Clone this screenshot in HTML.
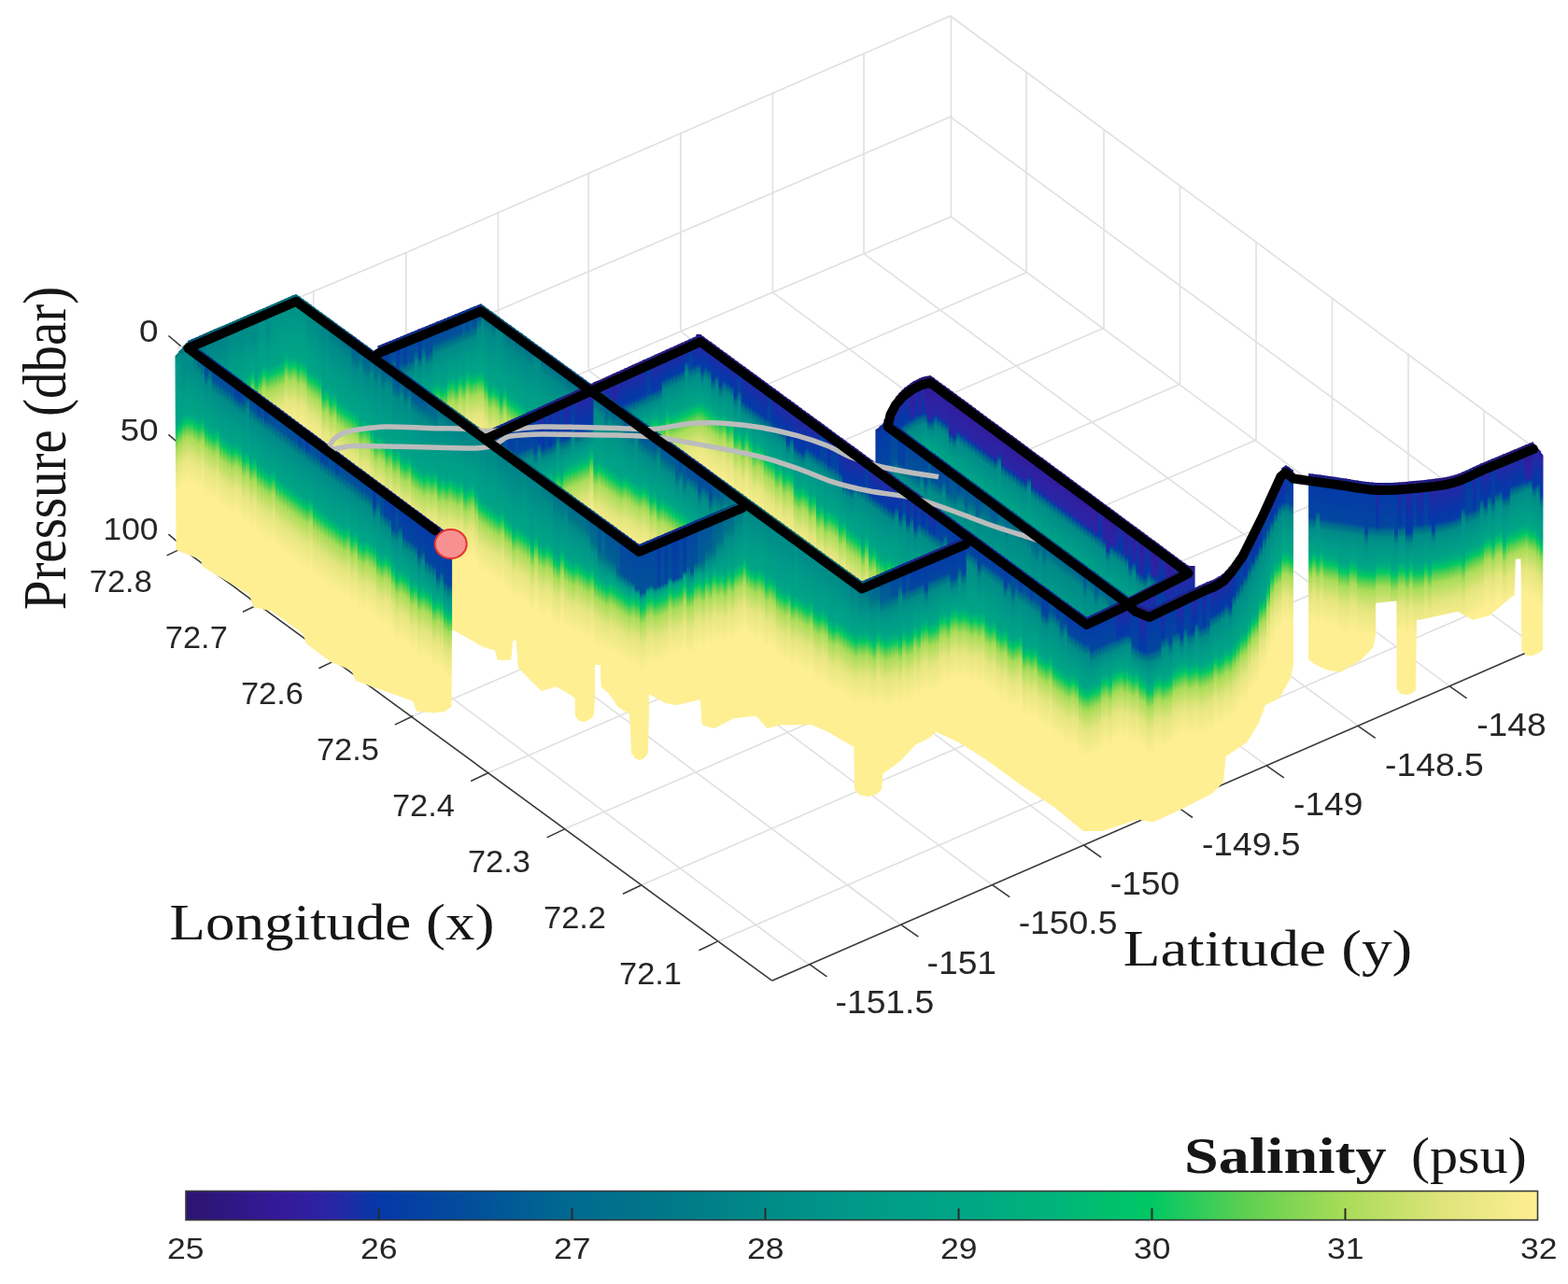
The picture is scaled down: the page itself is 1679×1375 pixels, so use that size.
<!DOCTYPE html>
<html><head><meta charset="utf-8"><title>Salinity curtain plot</title>
<style>html,body{margin:0;padding:0;background:#fff;}svg{display:block;filter:blur(0.45px);}</style>
</head><body>
<svg width="1679" height="1375" viewBox="0 0 1679 1375">
<defs><linearGradient id="p0" x1="0" y1="0" x2="0" y2="1"><stop offset="0.0000" stop-color="#231161"/><stop offset="0.0244" stop-color="#331a9a"/><stop offset="0.1260" stop-color="#2a25a5"/><stop offset="0.1463" stop-color="#2329a6"/><stop offset="0.1497" stop-color="#0538a8"/><stop offset="0.1580" stop-color="#02509a"/><stop offset="0.1663" stop-color="#006a90"/><stop offset="0.1746" stop-color="#007888"/><stop offset="0.1829" stop-color="#008a88"/><stop offset="0.2180" stop-color="#009a88"/><stop offset="0.2530" stop-color="#00a585"/><stop offset="0.2683" stop-color="#00b47a"/><stop offset="0.2835" stop-color="#00c864"/><stop offset="0.2957" stop-color="#30cc5a"/><stop offset="0.3079" stop-color="#60d050"/><stop offset="0.3323" stop-color="#a8dc58"/><stop offset="0.3886" stop-color="#dde47a"/><stop offset="0.4055" stop-color="#e7e781"/><stop offset="0.4848" stop-color="#feef93"/><stop offset="1.0000" stop-color="#feef93"/></linearGradient><linearGradient id="p1" x1="0" y1="0" x2="0" y2="1"><stop offset="0.0000" stop-color="#231161"/><stop offset="0.0244" stop-color="#331a9a"/><stop offset="0.1057" stop-color="#2a25a5"/><stop offset="0.1220" stop-color="#2329a6"/><stop offset="0.1253" stop-color="#0538a8"/><stop offset="0.1336" stop-color="#02509a"/><stop offset="0.1419" stop-color="#006a90"/><stop offset="0.1502" stop-color="#007888"/><stop offset="0.1585" stop-color="#008a88"/><stop offset="0.2058" stop-color="#009a88"/><stop offset="0.2530" stop-color="#00a585"/><stop offset="0.2683" stop-color="#00b47a"/><stop offset="0.2835" stop-color="#00c864"/><stop offset="0.2957" stop-color="#30cc5a"/><stop offset="0.3079" stop-color="#60d050"/><stop offset="0.3323" stop-color="#a8dc58"/><stop offset="0.3886" stop-color="#dde47a"/><stop offset="0.4055" stop-color="#e7e781"/><stop offset="0.4848" stop-color="#feef93"/><stop offset="1.0000" stop-color="#feef93"/></linearGradient><linearGradient id="p2" x1="0" y1="0" x2="0" y2="1"><stop offset="0.0000" stop-color="#231161"/><stop offset="0.0244" stop-color="#331a9a"/><stop offset="0.1057" stop-color="#2a25a5"/><stop offset="0.1220" stop-color="#2329a6"/><stop offset="0.1253" stop-color="#0538a8"/><stop offset="0.1336" stop-color="#02509a"/><stop offset="0.1419" stop-color="#006a90"/><stop offset="0.1502" stop-color="#007888"/><stop offset="0.1585" stop-color="#008a88"/><stop offset="0.2134" stop-color="#009a88"/><stop offset="0.2683" stop-color="#00a585"/><stop offset="0.2835" stop-color="#00b47a"/><stop offset="0.2988" stop-color="#00c864"/><stop offset="0.3110" stop-color="#30cc5a"/><stop offset="0.3232" stop-color="#60d050"/><stop offset="0.3476" stop-color="#a8dc58"/><stop offset="0.4038" stop-color="#dde47a"/><stop offset="0.4207" stop-color="#e7e781"/><stop offset="0.5000" stop-color="#feef93"/><stop offset="1.0000" stop-color="#feef93"/></linearGradient><linearGradient id="p3" x1="0" y1="0" x2="0" y2="1"><stop offset="0.0000" stop-color="#231161"/><stop offset="0.0244" stop-color="#331a9a"/><stop offset="0.0854" stop-color="#2a25a5"/><stop offset="0.0976" stop-color="#2329a6"/><stop offset="0.1009" stop-color="#0538a8"/><stop offset="0.1092" stop-color="#02509a"/><stop offset="0.1175" stop-color="#006a90"/><stop offset="0.1258" stop-color="#007888"/><stop offset="0.1341" stop-color="#008a88"/><stop offset="0.2012" stop-color="#009a88"/><stop offset="0.2683" stop-color="#00a585"/><stop offset="0.2835" stop-color="#00b47a"/><stop offset="0.2988" stop-color="#00c864"/><stop offset="0.3110" stop-color="#30cc5a"/><stop offset="0.3232" stop-color="#60d050"/><stop offset="0.3476" stop-color="#a8dc58"/><stop offset="0.4038" stop-color="#dde47a"/><stop offset="0.4207" stop-color="#e7e781"/><stop offset="0.5000" stop-color="#feef93"/><stop offset="1.0000" stop-color="#feef93"/></linearGradient><linearGradient id="p4" x1="0" y1="0" x2="0" y2="1"><stop offset="0.0000" stop-color="#231161"/><stop offset="0.0244" stop-color="#331a9a"/><stop offset="0.1057" stop-color="#2a25a5"/><stop offset="0.1220" stop-color="#2329a6"/><stop offset="0.1253" stop-color="#0538a8"/><stop offset="0.1336" stop-color="#02509a"/><stop offset="0.1419" stop-color="#006a90"/><stop offset="0.1502" stop-color="#007888"/><stop offset="0.1585" stop-color="#008a88"/><stop offset="0.2210" stop-color="#009a88"/><stop offset="0.2835" stop-color="#00a585"/><stop offset="0.2988" stop-color="#00b47a"/><stop offset="0.3140" stop-color="#00c864"/><stop offset="0.3262" stop-color="#30cc5a"/><stop offset="0.3384" stop-color="#60d050"/><stop offset="0.3628" stop-color="#a8dc58"/><stop offset="0.4191" stop-color="#dde47a"/><stop offset="0.4360" stop-color="#e7e781"/><stop offset="0.5152" stop-color="#feef93"/><stop offset="1.0000" stop-color="#feef93"/></linearGradient><linearGradient id="p5" x1="0" y1="0" x2="0" y2="1"><stop offset="0.0000" stop-color="#271371"/><stop offset="0.0244" stop-color="#2a25a5"/><stop offset="0.1057" stop-color="#0538a8"/><stop offset="0.1220" stop-color="#053aa7"/><stop offset="0.1304" stop-color="#02509a"/><stop offset="0.1398" stop-color="#006a90"/><stop offset="0.1492" stop-color="#007888"/><stop offset="0.1585" stop-color="#008a88"/><stop offset="0.2210" stop-color="#009a88"/><stop offset="0.2835" stop-color="#00a585"/><stop offset="0.2988" stop-color="#00b47a"/><stop offset="0.3140" stop-color="#00c864"/><stop offset="0.3262" stop-color="#30cc5a"/><stop offset="0.3384" stop-color="#60d050"/><stop offset="0.3628" stop-color="#a8dc58"/><stop offset="0.4191" stop-color="#dde47a"/><stop offset="0.4360" stop-color="#e7e781"/><stop offset="0.5152" stop-color="#feef93"/><stop offset="1.0000" stop-color="#feef93"/></linearGradient><linearGradient id="p6" x1="0" y1="0" x2="0" y2="1"><stop offset="0.0000" stop-color="#231161"/><stop offset="0.0244" stop-color="#331a9a"/><stop offset="0.1260" stop-color="#2a25a5"/><stop offset="0.1463" stop-color="#2329a6"/><stop offset="0.1497" stop-color="#0538a8"/><stop offset="0.1580" stop-color="#02509a"/><stop offset="0.1663" stop-color="#006a90"/><stop offset="0.1746" stop-color="#007888"/><stop offset="0.1829" stop-color="#008a88"/><stop offset="0.2332" stop-color="#009a88"/><stop offset="0.2835" stop-color="#00a585"/><stop offset="0.2988" stop-color="#00b47a"/><stop offset="0.3140" stop-color="#00c864"/><stop offset="0.3262" stop-color="#30cc5a"/><stop offset="0.3384" stop-color="#60d050"/><stop offset="0.3628" stop-color="#a8dc58"/><stop offset="0.4191" stop-color="#dde47a"/><stop offset="0.4360" stop-color="#e7e781"/><stop offset="0.5152" stop-color="#feef93"/><stop offset="1.0000" stop-color="#feef93"/></linearGradient><linearGradient id="p7" x1="0" y1="0" x2="0" y2="1"><stop offset="0.0000" stop-color="#271371"/><stop offset="0.0244" stop-color="#2a25a5"/><stop offset="0.1260" stop-color="#0538a8"/><stop offset="0.1463" stop-color="#053aa7"/><stop offset="0.1548" stop-color="#02509a"/><stop offset="0.1642" stop-color="#006a90"/><stop offset="0.1735" stop-color="#007888"/><stop offset="0.1829" stop-color="#008a88"/><stop offset="0.2409" stop-color="#009a88"/><stop offset="0.2988" stop-color="#00a585"/><stop offset="0.3140" stop-color="#00b47a"/><stop offset="0.3293" stop-color="#00c864"/><stop offset="0.3415" stop-color="#30cc5a"/><stop offset="0.3537" stop-color="#60d050"/><stop offset="0.3780" stop-color="#a8dc58"/><stop offset="0.4343" stop-color="#dde47a"/><stop offset="0.4512" stop-color="#e7e781"/><stop offset="0.5305" stop-color="#feef93"/><stop offset="1.0000" stop-color="#feef93"/></linearGradient><linearGradient id="p8" x1="0" y1="0" x2="0" y2="1"><stop offset="0.0000" stop-color="#271371"/><stop offset="0.0244" stop-color="#2a25a5"/><stop offset="0.1260" stop-color="#0538a8"/><stop offset="0.1463" stop-color="#053aa7"/><stop offset="0.1548" stop-color="#02509a"/><stop offset="0.1642" stop-color="#006a90"/><stop offset="0.1735" stop-color="#007888"/><stop offset="0.1829" stop-color="#008a88"/><stop offset="0.2332" stop-color="#009a88"/><stop offset="0.2835" stop-color="#00a585"/><stop offset="0.2988" stop-color="#00b47a"/><stop offset="0.3140" stop-color="#00c864"/><stop offset="0.3262" stop-color="#30cc5a"/><stop offset="0.3384" stop-color="#60d050"/><stop offset="0.3628" stop-color="#a8dc58"/><stop offset="0.4191" stop-color="#dde47a"/><stop offset="0.4360" stop-color="#e7e781"/><stop offset="0.5152" stop-color="#feef93"/><stop offset="1.0000" stop-color="#feef93"/></linearGradient><linearGradient id="p9" x1="0" y1="0" x2="0" y2="1"><stop offset="0.0000" stop-color="#271371"/><stop offset="0.0244" stop-color="#2a25a5"/><stop offset="0.1057" stop-color="#0538a8"/><stop offset="0.1220" stop-color="#053aa7"/><stop offset="0.1304" stop-color="#02509a"/><stop offset="0.1398" stop-color="#006a90"/><stop offset="0.1492" stop-color="#007888"/><stop offset="0.1585" stop-color="#008a88"/><stop offset="0.2287" stop-color="#009a88"/><stop offset="0.2988" stop-color="#00a585"/><stop offset="0.3140" stop-color="#00b47a"/><stop offset="0.3293" stop-color="#00c864"/><stop offset="0.3415" stop-color="#30cc5a"/><stop offset="0.3537" stop-color="#60d050"/><stop offset="0.3780" stop-color="#a8dc58"/><stop offset="0.4343" stop-color="#dde47a"/><stop offset="0.4512" stop-color="#e7e781"/><stop offset="0.5305" stop-color="#feef93"/><stop offset="1.0000" stop-color="#feef93"/></linearGradient><linearGradient id="p10" x1="0" y1="0" x2="0" y2="1"><stop offset="0.0000" stop-color="#271371"/><stop offset="0.0244" stop-color="#2a25a5"/><stop offset="0.1057" stop-color="#0538a8"/><stop offset="0.1220" stop-color="#053aa7"/><stop offset="0.1304" stop-color="#02509a"/><stop offset="0.1398" stop-color="#006a90"/><stop offset="0.1492" stop-color="#007888"/><stop offset="0.1585" stop-color="#008a88"/><stop offset="0.2134" stop-color="#009a88"/><stop offset="0.2683" stop-color="#00a585"/><stop offset="0.2835" stop-color="#00b47a"/><stop offset="0.2988" stop-color="#00c864"/><stop offset="0.3110" stop-color="#30cc5a"/><stop offset="0.3232" stop-color="#60d050"/><stop offset="0.3476" stop-color="#a8dc58"/><stop offset="0.4038" stop-color="#dde47a"/><stop offset="0.4207" stop-color="#e7e781"/><stop offset="0.5000" stop-color="#feef93"/><stop offset="1.0000" stop-color="#feef93"/></linearGradient><linearGradient id="p11" x1="0" y1="0" x2="0" y2="1"><stop offset="0.0000" stop-color="#271371"/><stop offset="0.0244" stop-color="#2a25a5"/><stop offset="0.1057" stop-color="#0538a8"/><stop offset="0.1220" stop-color="#053aa7"/><stop offset="0.1304" stop-color="#02509a"/><stop offset="0.1398" stop-color="#006a90"/><stop offset="0.1492" stop-color="#007888"/><stop offset="0.1585" stop-color="#008a88"/><stop offset="0.2058" stop-color="#009a88"/><stop offset="0.2530" stop-color="#00a585"/><stop offset="0.2683" stop-color="#00b47a"/><stop offset="0.2835" stop-color="#00c864"/><stop offset="0.2957" stop-color="#30cc5a"/><stop offset="0.3079" stop-color="#60d050"/><stop offset="0.3323" stop-color="#a8dc58"/><stop offset="0.3886" stop-color="#dde47a"/><stop offset="0.4055" stop-color="#e7e781"/><stop offset="0.4848" stop-color="#feef93"/><stop offset="1.0000" stop-color="#feef93"/></linearGradient><linearGradient id="p12" x1="0" y1="0" x2="0" y2="1"><stop offset="0.0000" stop-color="#231161"/><stop offset="0.0244" stop-color="#331a9a"/><stop offset="0.1057" stop-color="#2a25a5"/><stop offset="0.1220" stop-color="#2329a6"/><stop offset="0.1253" stop-color="#0538a8"/><stop offset="0.1336" stop-color="#02509a"/><stop offset="0.1419" stop-color="#006a90"/><stop offset="0.1502" stop-color="#007888"/><stop offset="0.1585" stop-color="#008a88"/><stop offset="0.1982" stop-color="#009a88"/><stop offset="0.2378" stop-color="#00a585"/><stop offset="0.2530" stop-color="#00b47a"/><stop offset="0.2683" stop-color="#00c864"/><stop offset="0.2805" stop-color="#30cc5a"/><stop offset="0.2927" stop-color="#60d050"/><stop offset="0.3171" stop-color="#a8dc58"/><stop offset="0.3734" stop-color="#dde47a"/><stop offset="0.3902" stop-color="#e7e781"/><stop offset="0.4695" stop-color="#feef93"/><stop offset="1.0000" stop-color="#feef93"/></linearGradient><linearGradient id="p13" x1="0" y1="0" x2="0" y2="1"><stop offset="0.0000" stop-color="#231161"/><stop offset="0.0244" stop-color="#331a9a"/><stop offset="0.1260" stop-color="#2a25a5"/><stop offset="0.1463" stop-color="#2329a6"/><stop offset="0.1497" stop-color="#0538a8"/><stop offset="0.1580" stop-color="#02509a"/><stop offset="0.1663" stop-color="#006a90"/><stop offset="0.1746" stop-color="#007888"/><stop offset="0.1829" stop-color="#008a88"/><stop offset="0.2104" stop-color="#009a88"/><stop offset="0.2378" stop-color="#00a585"/><stop offset="0.2530" stop-color="#00b47a"/><stop offset="0.2683" stop-color="#00c864"/><stop offset="0.2805" stop-color="#30cc5a"/><stop offset="0.2927" stop-color="#60d050"/><stop offset="0.3171" stop-color="#a8dc58"/><stop offset="0.3734" stop-color="#dde47a"/><stop offset="0.3902" stop-color="#e7e781"/><stop offset="0.4695" stop-color="#feef93"/><stop offset="1.0000" stop-color="#feef93"/></linearGradient><linearGradient id="p14" x1="0" y1="0" x2="0" y2="1"><stop offset="0.0000" stop-color="#23197d"/><stop offset="0.0244" stop-color="#0538a8"/><stop offset="0.1463" stop-color="#0346a0"/><stop offset="0.1506" stop-color="#02509a"/><stop offset="0.1614" stop-color="#006a90"/><stop offset="0.1722" stop-color="#007888"/><stop offset="0.1829" stop-color="#008a88"/><stop offset="0.2256" stop-color="#009a88"/><stop offset="0.2683" stop-color="#00a585"/><stop offset="0.2835" stop-color="#00b47a"/><stop offset="0.2988" stop-color="#00c864"/><stop offset="0.3110" stop-color="#30cc5a"/><stop offset="0.3232" stop-color="#60d050"/><stop offset="0.3476" stop-color="#a8dc58"/><stop offset="0.4038" stop-color="#dde47a"/><stop offset="0.4207" stop-color="#e7e781"/><stop offset="0.5000" stop-color="#feef93"/><stop offset="1.0000" stop-color="#feef93"/></linearGradient><linearGradient id="p15" x1="0" y1="0" x2="0" y2="1"><stop offset="0.0000" stop-color="#23197d"/><stop offset="0.0244" stop-color="#0538a8"/><stop offset="0.1463" stop-color="#0346a0"/><stop offset="0.1506" stop-color="#02509a"/><stop offset="0.1614" stop-color="#006a90"/><stop offset="0.1722" stop-color="#007888"/><stop offset="0.1829" stop-color="#008a88"/><stop offset="0.2180" stop-color="#009a88"/><stop offset="0.2530" stop-color="#00a585"/><stop offset="0.2683" stop-color="#00b47a"/><stop offset="0.2835" stop-color="#00c864"/><stop offset="0.2957" stop-color="#30cc5a"/><stop offset="0.3079" stop-color="#60d050"/><stop offset="0.3323" stop-color="#a8dc58"/><stop offset="0.3886" stop-color="#dde47a"/><stop offset="0.4055" stop-color="#e7e781"/><stop offset="0.4848" stop-color="#feef93"/><stop offset="1.0000" stop-color="#feef93"/></linearGradient><linearGradient id="p16" x1="0" y1="0" x2="0" y2="1"><stop offset="0.0000" stop-color="#23197d"/><stop offset="0.0244" stop-color="#0538a8"/><stop offset="0.1220" stop-color="#0346a0"/><stop offset="0.1263" stop-color="#02509a"/><stop offset="0.1370" stop-color="#006a90"/><stop offset="0.1478" stop-color="#007888"/><stop offset="0.1585" stop-color="#008a88"/><stop offset="0.2134" stop-color="#009a88"/><stop offset="0.2683" stop-color="#00a585"/><stop offset="0.2835" stop-color="#00b47a"/><stop offset="0.2988" stop-color="#00c864"/><stop offset="0.3110" stop-color="#30cc5a"/><stop offset="0.3232" stop-color="#60d050"/><stop offset="0.3476" stop-color="#a8dc58"/><stop offset="0.4038" stop-color="#dde47a"/><stop offset="0.4207" stop-color="#e7e781"/><stop offset="0.5000" stop-color="#feef93"/><stop offset="1.0000" stop-color="#feef93"/></linearGradient><linearGradient id="p17" x1="0" y1="0" x2="0" y2="1"><stop offset="0.0000" stop-color="#23197d"/><stop offset="0.0244" stop-color="#0538a8"/><stop offset="0.1463" stop-color="#0346a0"/><stop offset="0.1506" stop-color="#02509a"/><stop offset="0.1614" stop-color="#006a90"/><stop offset="0.1722" stop-color="#007888"/><stop offset="0.1829" stop-color="#008a88"/><stop offset="0.2332" stop-color="#009a88"/><stop offset="0.2835" stop-color="#00a585"/><stop offset="0.2988" stop-color="#00b47a"/><stop offset="0.3140" stop-color="#00c864"/><stop offset="0.3262" stop-color="#30cc5a"/><stop offset="0.3384" stop-color="#60d050"/><stop offset="0.3628" stop-color="#a8dc58"/><stop offset="0.4191" stop-color="#dde47a"/><stop offset="0.4360" stop-color="#e7e781"/><stop offset="0.5152" stop-color="#feef93"/><stop offset="1.0000" stop-color="#feef93"/></linearGradient><linearGradient id="p18" x1="0" y1="0" x2="0" y2="1"><stop offset="0.0000" stop-color="#23197d"/><stop offset="0.0244" stop-color="#0538a8"/><stop offset="0.1707" stop-color="#0346a0"/><stop offset="0.1750" stop-color="#02509a"/><stop offset="0.1858" stop-color="#006a90"/><stop offset="0.1966" stop-color="#007888"/><stop offset="0.2073" stop-color="#008a88"/><stop offset="0.2454" stop-color="#009a88"/><stop offset="0.2835" stop-color="#00a585"/><stop offset="0.2988" stop-color="#00b47a"/><stop offset="0.3140" stop-color="#00c864"/><stop offset="0.3262" stop-color="#30cc5a"/><stop offset="0.3384" stop-color="#60d050"/><stop offset="0.3628" stop-color="#a8dc58"/><stop offset="0.4191" stop-color="#dde47a"/><stop offset="0.4360" stop-color="#e7e781"/><stop offset="0.5152" stop-color="#feef93"/><stop offset="1.0000" stop-color="#feef93"/></linearGradient><linearGradient id="p19" x1="0" y1="0" x2="0" y2="1"><stop offset="0.0000" stop-color="#271371"/><stop offset="0.0244" stop-color="#2a25a5"/><stop offset="0.1260" stop-color="#0538a8"/><stop offset="0.1463" stop-color="#053aa7"/><stop offset="0.1548" stop-color="#02509a"/><stop offset="0.1642" stop-color="#006a90"/><stop offset="0.1735" stop-color="#007888"/><stop offset="0.1829" stop-color="#008a88"/><stop offset="0.2256" stop-color="#009a88"/><stop offset="0.2683" stop-color="#00a585"/><stop offset="0.2835" stop-color="#00b47a"/><stop offset="0.2988" stop-color="#00c864"/><stop offset="0.3110" stop-color="#30cc5a"/><stop offset="0.3232" stop-color="#60d050"/><stop offset="0.3476" stop-color="#a8dc58"/><stop offset="0.4038" stop-color="#dde47a"/><stop offset="0.4207" stop-color="#e7e781"/><stop offset="0.5000" stop-color="#feef93"/><stop offset="1.0000" stop-color="#feef93"/></linearGradient><linearGradient id="p20" x1="0" y1="0" x2="0" y2="1"><stop offset="0.0000" stop-color="#271371"/><stop offset="0.0244" stop-color="#2a25a5"/><stop offset="0.1463" stop-color="#0538a8"/><stop offset="0.1707" stop-color="#053aa7"/><stop offset="0.1792" stop-color="#02509a"/><stop offset="0.1886" stop-color="#006a90"/><stop offset="0.1979" stop-color="#007888"/><stop offset="0.2073" stop-color="#008a88"/><stop offset="0.2454" stop-color="#009a88"/><stop offset="0.2835" stop-color="#00a585"/><stop offset="0.2988" stop-color="#00b47a"/><stop offset="0.3140" stop-color="#00c864"/><stop offset="0.3262" stop-color="#30cc5a"/><stop offset="0.3384" stop-color="#60d050"/><stop offset="0.3628" stop-color="#a8dc58"/><stop offset="0.4191" stop-color="#dde47a"/><stop offset="0.4360" stop-color="#e7e781"/><stop offset="0.5152" stop-color="#feef93"/><stop offset="1.0000" stop-color="#feef93"/></linearGradient><linearGradient id="p21" x1="0" y1="0" x2="0" y2="1"><stop offset="0.0000" stop-color="#271371"/><stop offset="0.0244" stop-color="#2a25a5"/><stop offset="0.1463" stop-color="#0538a8"/><stop offset="0.1707" stop-color="#053aa7"/><stop offset="0.1792" stop-color="#02509a"/><stop offset="0.1886" stop-color="#006a90"/><stop offset="0.1979" stop-color="#007888"/><stop offset="0.2073" stop-color="#008a88"/><stop offset="0.2378" stop-color="#009a88"/><stop offset="0.2683" stop-color="#00a585"/><stop offset="0.2835" stop-color="#00b47a"/><stop offset="0.2988" stop-color="#00c864"/><stop offset="0.3110" stop-color="#30cc5a"/><stop offset="0.3232" stop-color="#60d050"/><stop offset="0.3476" stop-color="#a8dc58"/><stop offset="0.4038" stop-color="#dde47a"/><stop offset="0.4207" stop-color="#e7e781"/><stop offset="0.5000" stop-color="#feef93"/><stop offset="1.0000" stop-color="#feef93"/></linearGradient><linearGradient id="p22" x1="0" y1="0" x2="0" y2="1"><stop offset="0.0000" stop-color="#271371"/><stop offset="0.0244" stop-color="#2a25a5"/><stop offset="0.1260" stop-color="#0538a8"/><stop offset="0.1463" stop-color="#053aa7"/><stop offset="0.1548" stop-color="#02509a"/><stop offset="0.1642" stop-color="#006a90"/><stop offset="0.1735" stop-color="#007888"/><stop offset="0.1829" stop-color="#008a88"/><stop offset="0.2180" stop-color="#009a88"/><stop offset="0.2530" stop-color="#00a585"/><stop offset="0.2683" stop-color="#00b47a"/><stop offset="0.2835" stop-color="#00c864"/><stop offset="0.2957" stop-color="#30cc5a"/><stop offset="0.3079" stop-color="#60d050"/><stop offset="0.3323" stop-color="#a8dc58"/><stop offset="0.3886" stop-color="#dde47a"/><stop offset="0.4055" stop-color="#e7e781"/><stop offset="0.4848" stop-color="#feef93"/><stop offset="1.0000" stop-color="#feef93"/></linearGradient><linearGradient id="p23" x1="0" y1="0" x2="0" y2="1"><stop offset="0.0000" stop-color="#0f2582"/><stop offset="0.0244" stop-color="#0444a1"/><stop offset="0.1260" stop-color="#02509a"/><stop offset="0.1463" stop-color="#025399"/><stop offset="0.1577" stop-color="#006a90"/><stop offset="0.1703" stop-color="#007888"/><stop offset="0.1829" stop-color="#008a88"/><stop offset="0.2332" stop-color="#009a88"/><stop offset="0.2835" stop-color="#00a585"/><stop offset="0.2988" stop-color="#00b47a"/><stop offset="0.3140" stop-color="#00c864"/><stop offset="0.3262" stop-color="#30cc5a"/><stop offset="0.3384" stop-color="#60d050"/><stop offset="0.3628" stop-color="#a8dc58"/><stop offset="0.4191" stop-color="#dde47a"/><stop offset="0.4360" stop-color="#e7e781"/><stop offset="0.5152" stop-color="#feef93"/><stop offset="1.0000" stop-color="#feef93"/></linearGradient><linearGradient id="p24" x1="0" y1="0" x2="0" y2="1"><stop offset="0.0000" stop-color="#0f2582"/><stop offset="0.0244" stop-color="#0444a1"/><stop offset="0.1057" stop-color="#02509a"/><stop offset="0.1220" stop-color="#025399"/><stop offset="0.1333" stop-color="#006a90"/><stop offset="0.1459" stop-color="#007888"/><stop offset="0.1585" stop-color="#008a88"/><stop offset="0.2210" stop-color="#009a88"/><stop offset="0.2835" stop-color="#00a585"/><stop offset="0.2988" stop-color="#00b47a"/><stop offset="0.3140" stop-color="#00c864"/><stop offset="0.3262" stop-color="#30cc5a"/><stop offset="0.3384" stop-color="#60d050"/><stop offset="0.3628" stop-color="#a8dc58"/><stop offset="0.4191" stop-color="#dde47a"/><stop offset="0.4360" stop-color="#e7e781"/><stop offset="0.5152" stop-color="#feef93"/><stop offset="1.0000" stop-color="#feef93"/></linearGradient><linearGradient id="p25" x1="0" y1="0" x2="0" y2="1"><stop offset="0.0000" stop-color="#23197d"/><stop offset="0.0244" stop-color="#0538a8"/><stop offset="0.1220" stop-color="#0346a0"/><stop offset="0.1263" stop-color="#02509a"/><stop offset="0.1370" stop-color="#006a90"/><stop offset="0.1478" stop-color="#007888"/><stop offset="0.1585" stop-color="#008a88"/><stop offset="0.2210" stop-color="#009a88"/><stop offset="0.2835" stop-color="#00a585"/><stop offset="0.2988" stop-color="#00b47a"/><stop offset="0.3140" stop-color="#00c864"/><stop offset="0.3262" stop-color="#30cc5a"/><stop offset="0.3384" stop-color="#60d050"/><stop offset="0.3628" stop-color="#a8dc58"/><stop offset="0.4191" stop-color="#dde47a"/><stop offset="0.4360" stop-color="#e7e781"/><stop offset="0.5152" stop-color="#feef93"/><stop offset="1.0000" stop-color="#feef93"/></linearGradient><linearGradient id="p26" x1="0" y1="0" x2="0" y2="1"><stop offset="0.0000" stop-color="#0f2582"/><stop offset="0.0244" stop-color="#0444a1"/><stop offset="0.1057" stop-color="#02509a"/><stop offset="0.1220" stop-color="#025399"/><stop offset="0.1333" stop-color="#006a90"/><stop offset="0.1459" stop-color="#007888"/><stop offset="0.1585" stop-color="#008a88"/><stop offset="0.2134" stop-color="#009a88"/><stop offset="0.2683" stop-color="#00a585"/><stop offset="0.2835" stop-color="#00b47a"/><stop offset="0.2988" stop-color="#00c864"/><stop offset="0.3110" stop-color="#30cc5a"/><stop offset="0.3232" stop-color="#60d050"/><stop offset="0.3476" stop-color="#a8dc58"/><stop offset="0.4038" stop-color="#dde47a"/><stop offset="0.4207" stop-color="#e7e781"/><stop offset="0.5000" stop-color="#feef93"/><stop offset="1.0000" stop-color="#feef93"/></linearGradient><linearGradient id="p27" x1="0" y1="0" x2="0" y2="1"><stop offset="0.0000" stop-color="#0f2582"/><stop offset="0.0244" stop-color="#0444a1"/><stop offset="0.0854" stop-color="#02509a"/><stop offset="0.0976" stop-color="#025399"/><stop offset="0.1089" stop-color="#006a90"/><stop offset="0.1215" stop-color="#007888"/><stop offset="0.1341" stop-color="#008a88"/><stop offset="0.2012" stop-color="#009a88"/><stop offset="0.2683" stop-color="#00a585"/><stop offset="0.2835" stop-color="#00b47a"/><stop offset="0.2988" stop-color="#00c864"/><stop offset="0.3110" stop-color="#30cc5a"/><stop offset="0.3232" stop-color="#60d050"/><stop offset="0.3476" stop-color="#a8dc58"/><stop offset="0.4038" stop-color="#dde47a"/><stop offset="0.4207" stop-color="#e7e781"/><stop offset="0.5000" stop-color="#feef93"/><stop offset="1.0000" stop-color="#feef93"/></linearGradient><linearGradient id="p28" x1="0" y1="0" x2="0" y2="1"><stop offset="0.0000" stop-color="#03317f"/><stop offset="0.0244" stop-color="#02509a"/><stop offset="0.0976" stop-color="#016094"/><stop offset="0.1037" stop-color="#006a90"/><stop offset="0.1189" stop-color="#007888"/><stop offset="0.1341" stop-color="#008a88"/><stop offset="0.2088" stop-color="#009a88"/><stop offset="0.2835" stop-color="#00a585"/><stop offset="0.2988" stop-color="#00b47a"/><stop offset="0.3140" stop-color="#00c864"/><stop offset="0.3262" stop-color="#30cc5a"/><stop offset="0.3384" stop-color="#60d050"/><stop offset="0.3628" stop-color="#a8dc58"/><stop offset="0.4191" stop-color="#dde47a"/><stop offset="0.4360" stop-color="#e7e781"/><stop offset="0.5152" stop-color="#feef93"/><stop offset="1.0000" stop-color="#feef93"/></linearGradient><linearGradient id="p29" x1="0" y1="0" x2="0" y2="1"><stop offset="0.0000" stop-color="#0f2582"/><stop offset="0.0244" stop-color="#0444a1"/><stop offset="0.0854" stop-color="#02509a"/><stop offset="0.0976" stop-color="#025399"/><stop offset="0.1089" stop-color="#006a90"/><stop offset="0.1215" stop-color="#007888"/><stop offset="0.1341" stop-color="#008a88"/><stop offset="0.2088" stop-color="#009a88"/><stop offset="0.2835" stop-color="#00a585"/><stop offset="0.2988" stop-color="#00b47a"/><stop offset="0.3140" stop-color="#00c864"/><stop offset="0.3262" stop-color="#30cc5a"/><stop offset="0.3384" stop-color="#60d050"/><stop offset="0.3628" stop-color="#a8dc58"/><stop offset="0.4191" stop-color="#dde47a"/><stop offset="0.4360" stop-color="#e7e781"/><stop offset="0.5152" stop-color="#feef93"/><stop offset="1.0000" stop-color="#feef93"/></linearGradient><linearGradient id="p30" x1="0" y1="0" x2="0" y2="1"><stop offset="0.0000" stop-color="#0f2582"/><stop offset="0.0244" stop-color="#0444a1"/><stop offset="0.0650" stop-color="#02509a"/><stop offset="0.0732" stop-color="#025399"/><stop offset="0.0845" stop-color="#006a90"/><stop offset="0.0971" stop-color="#007888"/><stop offset="0.1098" stop-color="#008a88"/><stop offset="0.1966" stop-color="#009a88"/><stop offset="0.2835" stop-color="#00a585"/><stop offset="0.2988" stop-color="#00b47a"/><stop offset="0.3140" stop-color="#00c864"/><stop offset="0.3262" stop-color="#30cc5a"/><stop offset="0.3384" stop-color="#60d050"/><stop offset="0.3628" stop-color="#a8dc58"/><stop offset="0.4191" stop-color="#dde47a"/><stop offset="0.4360" stop-color="#e7e781"/><stop offset="0.5152" stop-color="#feef93"/><stop offset="1.0000" stop-color="#feef93"/></linearGradient><linearGradient id="p31" x1="0" y1="0" x2="0" y2="1"><stop offset="0.0000" stop-color="#0f2582"/><stop offset="0.0244" stop-color="#0444a1"/><stop offset="0.0650" stop-color="#02509a"/><stop offset="0.0732" stop-color="#025399"/><stop offset="0.0845" stop-color="#006a90"/><stop offset="0.0971" stop-color="#007888"/><stop offset="0.1098" stop-color="#008a88"/><stop offset="0.2043" stop-color="#009a88"/><stop offset="0.2988" stop-color="#00a585"/><stop offset="0.3140" stop-color="#00b47a"/><stop offset="0.3293" stop-color="#00c864"/><stop offset="0.3415" stop-color="#30cc5a"/><stop offset="0.3537" stop-color="#60d050"/><stop offset="0.3780" stop-color="#a8dc58"/><stop offset="0.4343" stop-color="#dde47a"/><stop offset="0.4512" stop-color="#e7e781"/><stop offset="0.5305" stop-color="#feef93"/><stop offset="1.0000" stop-color="#feef93"/></linearGradient><linearGradient id="p32" x1="0" y1="0" x2="0" y2="1"><stop offset="0.0000" stop-color="#03317f"/><stop offset="0.0244" stop-color="#02509a"/><stop offset="0.0732" stop-color="#016094"/><stop offset="0.0793" stop-color="#006a90"/><stop offset="0.0945" stop-color="#007888"/><stop offset="0.1098" stop-color="#008a88"/><stop offset="0.2043" stop-color="#009a88"/><stop offset="0.2988" stop-color="#00a585"/><stop offset="0.3140" stop-color="#00b47a"/><stop offset="0.3293" stop-color="#00c864"/><stop offset="0.3415" stop-color="#30cc5a"/><stop offset="0.3537" stop-color="#60d050"/><stop offset="0.3780" stop-color="#a8dc58"/><stop offset="0.4343" stop-color="#dde47a"/><stop offset="0.4512" stop-color="#e7e781"/><stop offset="0.5305" stop-color="#feef93"/><stop offset="1.0000" stop-color="#feef93"/></linearGradient><linearGradient id="p33" x1="0" y1="0" x2="0" y2="1"><stop offset="0.0000" stop-color="#03317f"/><stop offset="0.0244" stop-color="#02509a"/><stop offset="0.0732" stop-color="#016094"/><stop offset="0.0793" stop-color="#006a90"/><stop offset="0.0945" stop-color="#007888"/><stop offset="0.1098" stop-color="#008a88"/><stop offset="0.1966" stop-color="#009a88"/><stop offset="0.2835" stop-color="#00a585"/><stop offset="0.2988" stop-color="#00b47a"/><stop offset="0.3140" stop-color="#00c864"/><stop offset="0.3262" stop-color="#30cc5a"/><stop offset="0.3384" stop-color="#60d050"/><stop offset="0.3628" stop-color="#a8dc58"/><stop offset="0.4191" stop-color="#dde47a"/><stop offset="0.4360" stop-color="#e7e781"/><stop offset="0.5152" stop-color="#feef93"/><stop offset="1.0000" stop-color="#feef93"/></linearGradient><linearGradient id="p34" x1="0" y1="0" x2="0" y2="1"><stop offset="0.0000" stop-color="#023a7a"/><stop offset="0.0244" stop-color="#015d95"/><stop offset="0.0650" stop-color="#006a90"/><stop offset="0.0732" stop-color="#006b8f"/><stop offset="0.0905" stop-color="#007888"/><stop offset="0.1098" stop-color="#008a88"/><stop offset="0.1966" stop-color="#009a88"/><stop offset="0.2835" stop-color="#00a585"/><stop offset="0.2988" stop-color="#00b47a"/><stop offset="0.3140" stop-color="#00c864"/><stop offset="0.3262" stop-color="#30cc5a"/><stop offset="0.3384" stop-color="#60d050"/><stop offset="0.3628" stop-color="#a8dc58"/><stop offset="0.4191" stop-color="#dde47a"/><stop offset="0.4360" stop-color="#e7e781"/><stop offset="0.5152" stop-color="#feef93"/><stop offset="1.0000" stop-color="#feef93"/></linearGradient><linearGradient id="p35" x1="0" y1="0" x2="0" y2="1"><stop offset="0.0000" stop-color="#03317f"/><stop offset="0.0244" stop-color="#02509a"/><stop offset="0.0732" stop-color="#016094"/><stop offset="0.0793" stop-color="#006a90"/><stop offset="0.0945" stop-color="#007888"/><stop offset="0.1098" stop-color="#008a88"/><stop offset="0.1890" stop-color="#009a88"/><stop offset="0.2683" stop-color="#00a585"/><stop offset="0.2835" stop-color="#00b47a"/><stop offset="0.2988" stop-color="#00c864"/><stop offset="0.3110" stop-color="#30cc5a"/><stop offset="0.3232" stop-color="#60d050"/><stop offset="0.3476" stop-color="#a8dc58"/><stop offset="0.4038" stop-color="#dde47a"/><stop offset="0.4207" stop-color="#e7e781"/><stop offset="0.5000" stop-color="#feef93"/><stop offset="1.0000" stop-color="#feef93"/></linearGradient><linearGradient id="p36" x1="0" y1="0" x2="0" y2="1"><stop offset="0.0000" stop-color="#03317f"/><stop offset="0.0244" stop-color="#02509a"/><stop offset="0.0488" stop-color="#016094"/><stop offset="0.0549" stop-color="#006a90"/><stop offset="0.0701" stop-color="#007888"/><stop offset="0.0854" stop-color="#008a88"/><stop offset="0.1845" stop-color="#009a88"/><stop offset="0.2835" stop-color="#00a585"/><stop offset="0.2988" stop-color="#00b47a"/><stop offset="0.3140" stop-color="#00c864"/><stop offset="0.3262" stop-color="#30cc5a"/><stop offset="0.3384" stop-color="#60d050"/><stop offset="0.3628" stop-color="#a8dc58"/><stop offset="0.4191" stop-color="#dde47a"/><stop offset="0.4360" stop-color="#e7e781"/><stop offset="0.5152" stop-color="#feef93"/><stop offset="1.0000" stop-color="#feef93"/></linearGradient><linearGradient id="p37" x1="0" y1="0" x2="0" y2="1"><stop offset="0.0000" stop-color="#023a7a"/><stop offset="0.0244" stop-color="#015d95"/><stop offset="0.0447" stop-color="#006a90"/><stop offset="0.0488" stop-color="#006b8f"/><stop offset="0.0661" stop-color="#007888"/><stop offset="0.0854" stop-color="#008a88"/><stop offset="0.1845" stop-color="#009a88"/><stop offset="0.2835" stop-color="#00a585"/><stop offset="0.2988" stop-color="#00b47a"/><stop offset="0.3140" stop-color="#00c864"/><stop offset="0.3262" stop-color="#30cc5a"/><stop offset="0.3384" stop-color="#60d050"/><stop offset="0.3628" stop-color="#a8dc58"/><stop offset="0.4191" stop-color="#dde47a"/><stop offset="0.4360" stop-color="#e7e781"/><stop offset="0.5152" stop-color="#feef93"/><stop offset="1.0000" stop-color="#feef93"/></linearGradient><linearGradient id="p38" x1="0" y1="0" x2="0" y2="1"><stop offset="0.0000" stop-color="#004475"/><stop offset="0.0244" stop-color="#006a90"/><stop offset="0.0488" stop-color="#00728b"/><stop offset="0.0592" stop-color="#007888"/><stop offset="0.0854" stop-color="#008a88"/><stop offset="0.1845" stop-color="#009a88"/><stop offset="0.2835" stop-color="#00a585"/><stop offset="0.2988" stop-color="#00b47a"/><stop offset="0.3140" stop-color="#00c864"/><stop offset="0.3262" stop-color="#30cc5a"/><stop offset="0.3384" stop-color="#60d050"/><stop offset="0.3628" stop-color="#a8dc58"/><stop offset="0.4191" stop-color="#dde47a"/><stop offset="0.4360" stop-color="#e7e781"/><stop offset="0.5152" stop-color="#feef93"/><stop offset="1.0000" stop-color="#feef93"/></linearGradient><linearGradient id="p39" x1="0" y1="0" x2="0" y2="1"><stop offset="0.0000" stop-color="#004475"/><stop offset="0.0244" stop-color="#006a90"/><stop offset="0.0732" stop-color="#00728b"/><stop offset="0.0836" stop-color="#007888"/><stop offset="0.1098" stop-color="#008a88"/><stop offset="0.2043" stop-color="#009a88"/><stop offset="0.2988" stop-color="#00a585"/><stop offset="0.3140" stop-color="#00b47a"/><stop offset="0.3293" stop-color="#00c864"/><stop offset="0.3415" stop-color="#30cc5a"/><stop offset="0.3537" stop-color="#60d050"/><stop offset="0.3780" stop-color="#a8dc58"/><stop offset="0.4343" stop-color="#dde47a"/><stop offset="0.4512" stop-color="#e7e781"/><stop offset="0.5305" stop-color="#feef93"/><stop offset="1.0000" stop-color="#feef93"/></linearGradient><linearGradient id="p40" x1="0" y1="0" x2="0" y2="1"><stop offset="0.0000" stop-color="#023a7a"/><stop offset="0.0244" stop-color="#015d95"/><stop offset="0.0650" stop-color="#006a90"/><stop offset="0.0732" stop-color="#006b8f"/><stop offset="0.0905" stop-color="#007888"/><stop offset="0.1098" stop-color="#008a88"/><stop offset="0.2043" stop-color="#009a88"/><stop offset="0.2988" stop-color="#00a585"/><stop offset="0.3140" stop-color="#00b47a"/><stop offset="0.3293" stop-color="#00c864"/><stop offset="0.3415" stop-color="#30cc5a"/><stop offset="0.3537" stop-color="#60d050"/><stop offset="0.3780" stop-color="#a8dc58"/><stop offset="0.4343" stop-color="#dde47a"/><stop offset="0.4512" stop-color="#e7e781"/><stop offset="0.5305" stop-color="#feef93"/><stop offset="1.0000" stop-color="#feef93"/></linearGradient><linearGradient id="p41" x1="0" y1="0" x2="0" y2="1"><stop offset="0.0000" stop-color="#023a7a"/><stop offset="0.0244" stop-color="#015d95"/><stop offset="0.0447" stop-color="#006a90"/><stop offset="0.0488" stop-color="#006b8f"/><stop offset="0.0661" stop-color="#007888"/><stop offset="0.0854" stop-color="#008a88"/><stop offset="0.1768" stop-color="#009a88"/><stop offset="0.2683" stop-color="#00a585"/><stop offset="0.2835" stop-color="#00b47a"/><stop offset="0.2988" stop-color="#00c864"/><stop offset="0.3110" stop-color="#30cc5a"/><stop offset="0.3232" stop-color="#60d050"/><stop offset="0.3476" stop-color="#a8dc58"/><stop offset="0.4038" stop-color="#dde47a"/><stop offset="0.4207" stop-color="#e7e781"/><stop offset="0.5000" stop-color="#feef93"/><stop offset="1.0000" stop-color="#feef93"/></linearGradient><linearGradient id="p42" x1="0" y1="0" x2="0" y2="1"><stop offset="0.0000" stop-color="#023a7a"/><stop offset="0.0244" stop-color="#015d95"/><stop offset="0.0447" stop-color="#006a90"/><stop offset="0.0488" stop-color="#006b8f"/><stop offset="0.0661" stop-color="#007888"/><stop offset="0.0854" stop-color="#008a88"/><stop offset="0.1921" stop-color="#009a88"/><stop offset="0.2988" stop-color="#00a585"/><stop offset="0.3140" stop-color="#00b47a"/><stop offset="0.3293" stop-color="#00c864"/><stop offset="0.3415" stop-color="#30cc5a"/><stop offset="0.3537" stop-color="#60d050"/><stop offset="0.3780" stop-color="#a8dc58"/><stop offset="0.4343" stop-color="#dde47a"/><stop offset="0.4512" stop-color="#e7e781"/><stop offset="0.5305" stop-color="#feef93"/><stop offset="1.0000" stop-color="#feef93"/></linearGradient><linearGradient id="p43" x1="0" y1="0" x2="0" y2="1"><stop offset="0.0000" stop-color="#03317f"/><stop offset="0.0244" stop-color="#02509a"/><stop offset="0.0488" stop-color="#016094"/><stop offset="0.0549" stop-color="#006a90"/><stop offset="0.0701" stop-color="#007888"/><stop offset="0.0854" stop-color="#008a88"/><stop offset="0.1768" stop-color="#009a88"/><stop offset="0.2683" stop-color="#00a585"/><stop offset="0.2835" stop-color="#00b47a"/><stop offset="0.2988" stop-color="#00c864"/><stop offset="0.3110" stop-color="#30cc5a"/><stop offset="0.3232" stop-color="#60d050"/><stop offset="0.3476" stop-color="#a8dc58"/><stop offset="0.4038" stop-color="#dde47a"/><stop offset="0.4207" stop-color="#e7e781"/><stop offset="0.5000" stop-color="#feef93"/><stop offset="1.0000" stop-color="#feef93"/></linearGradient><linearGradient id="p44" x1="0" y1="0" x2="0" y2="1"><stop offset="0.0000" stop-color="#271371"/><stop offset="0.0244" stop-color="#2a25a5"/><stop offset="0.0854" stop-color="#0538a8"/><stop offset="0.0976" stop-color="#053aa7"/><stop offset="0.1060" stop-color="#02509a"/><stop offset="0.1154" stop-color="#006a90"/><stop offset="0.1248" stop-color="#007888"/><stop offset="0.1341" stop-color="#008a88"/><stop offset="0.1707" stop-color="#009a88"/><stop offset="0.2073" stop-color="#00a585"/><stop offset="0.2226" stop-color="#00b47a"/><stop offset="0.2378" stop-color="#00c864"/><stop offset="0.2500" stop-color="#30cc5a"/><stop offset="0.2622" stop-color="#60d050"/><stop offset="0.2866" stop-color="#a8dc58"/><stop offset="0.3429" stop-color="#dde47a"/><stop offset="0.3598" stop-color="#e7e781"/><stop offset="0.4390" stop-color="#feef93"/><stop offset="1.0000" stop-color="#feef93"/></linearGradient><linearGradient id="p45" x1="0" y1="0" x2="0" y2="1"><stop offset="0.0000" stop-color="#271371"/><stop offset="0.0244" stop-color="#2a25a5"/><stop offset="0.1057" stop-color="#0538a8"/><stop offset="0.1220" stop-color="#053aa7"/><stop offset="0.1304" stop-color="#02509a"/><stop offset="0.1398" stop-color="#006a90"/><stop offset="0.1492" stop-color="#007888"/><stop offset="0.1585" stop-color="#008a88"/><stop offset="0.1905" stop-color="#009a88"/><stop offset="0.2226" stop-color="#00a585"/><stop offset="0.2378" stop-color="#00b47a"/><stop offset="0.2530" stop-color="#00c864"/><stop offset="0.2652" stop-color="#30cc5a"/><stop offset="0.2774" stop-color="#60d050"/><stop offset="0.3018" stop-color="#a8dc58"/><stop offset="0.3581" stop-color="#dde47a"/><stop offset="0.3750" stop-color="#e7e781"/><stop offset="0.4543" stop-color="#feef93"/><stop offset="1.0000" stop-color="#feef93"/></linearGradient><linearGradient id="p46" x1="0" y1="0" x2="0" y2="1"><stop offset="0.0000" stop-color="#271371"/><stop offset="0.0244" stop-color="#2a25a5"/><stop offset="0.0854" stop-color="#0538a8"/><stop offset="0.0976" stop-color="#053aa7"/><stop offset="0.1060" stop-color="#02509a"/><stop offset="0.1154" stop-color="#006a90"/><stop offset="0.1248" stop-color="#007888"/><stop offset="0.1341" stop-color="#008a88"/><stop offset="0.1784" stop-color="#009a88"/><stop offset="0.2226" stop-color="#00a585"/><stop offset="0.2378" stop-color="#00b47a"/><stop offset="0.2530" stop-color="#00c864"/><stop offset="0.2652" stop-color="#30cc5a"/><stop offset="0.2774" stop-color="#60d050"/><stop offset="0.3018" stop-color="#a8dc58"/><stop offset="0.3581" stop-color="#dde47a"/><stop offset="0.3750" stop-color="#e7e781"/><stop offset="0.4543" stop-color="#feef93"/><stop offset="1.0000" stop-color="#feef93"/></linearGradient><linearGradient id="p47" x1="0" y1="0" x2="0" y2="1"><stop offset="0.0000" stop-color="#271371"/><stop offset="0.0244" stop-color="#2a25a5"/><stop offset="0.1057" stop-color="#0538a8"/><stop offset="0.1220" stop-color="#053aa7"/><stop offset="0.1304" stop-color="#02509a"/><stop offset="0.1398" stop-color="#006a90"/><stop offset="0.1492" stop-color="#007888"/><stop offset="0.1585" stop-color="#008a88"/><stop offset="0.1982" stop-color="#009a88"/><stop offset="0.2378" stop-color="#00a585"/><stop offset="0.2530" stop-color="#00b47a"/><stop offset="0.2683" stop-color="#00c864"/><stop offset="0.2805" stop-color="#30cc5a"/><stop offset="0.2927" stop-color="#60d050"/><stop offset="0.3171" stop-color="#a8dc58"/><stop offset="0.3734" stop-color="#dde47a"/><stop offset="0.3902" stop-color="#e7e781"/><stop offset="0.4695" stop-color="#feef93"/><stop offset="1.0000" stop-color="#feef93"/></linearGradient><linearGradient id="p48" x1="0" y1="0" x2="0" y2="1"><stop offset="0.0000" stop-color="#23197d"/><stop offset="0.0244" stop-color="#0538a8"/><stop offset="0.0976" stop-color="#0346a0"/><stop offset="0.1019" stop-color="#02509a"/><stop offset="0.1126" stop-color="#006a90"/><stop offset="0.1234" stop-color="#007888"/><stop offset="0.1341" stop-color="#008a88"/><stop offset="0.1784" stop-color="#009a88"/><stop offset="0.2226" stop-color="#00a585"/><stop offset="0.2378" stop-color="#00b47a"/><stop offset="0.2530" stop-color="#00c864"/><stop offset="0.2652" stop-color="#30cc5a"/><stop offset="0.2774" stop-color="#60d050"/><stop offset="0.3018" stop-color="#a8dc58"/><stop offset="0.3581" stop-color="#dde47a"/><stop offset="0.3750" stop-color="#e7e781"/><stop offset="0.4543" stop-color="#feef93"/><stop offset="1.0000" stop-color="#feef93"/></linearGradient><linearGradient id="p49" x1="0" y1="0" x2="0" y2="1"><stop offset="0.0000" stop-color="#271371"/><stop offset="0.0244" stop-color="#2a25a5"/><stop offset="0.1057" stop-color="#0538a8"/><stop offset="0.1220" stop-color="#053aa7"/><stop offset="0.1304" stop-color="#02509a"/><stop offset="0.1398" stop-color="#006a90"/><stop offset="0.1492" stop-color="#007888"/><stop offset="0.1585" stop-color="#008a88"/><stop offset="0.1829" stop-color="#009a88"/><stop offset="0.2073" stop-color="#00a585"/><stop offset="0.2226" stop-color="#00b47a"/><stop offset="0.2378" stop-color="#00c864"/><stop offset="0.2500" stop-color="#30cc5a"/><stop offset="0.2622" stop-color="#60d050"/><stop offset="0.2866" stop-color="#a8dc58"/><stop offset="0.3429" stop-color="#dde47a"/><stop offset="0.3598" stop-color="#e7e781"/><stop offset="0.4390" stop-color="#feef93"/><stop offset="1.0000" stop-color="#feef93"/></linearGradient><linearGradient id="p50" x1="0" y1="0" x2="0" y2="1"><stop offset="0.0000" stop-color="#23197d"/><stop offset="0.0244" stop-color="#0538a8"/><stop offset="0.1220" stop-color="#0346a0"/><stop offset="0.1263" stop-color="#02509a"/><stop offset="0.1370" stop-color="#006a90"/><stop offset="0.1478" stop-color="#007888"/><stop offset="0.1585" stop-color="#008a88"/><stop offset="0.1982" stop-color="#009a88"/><stop offset="0.2378" stop-color="#00a585"/><stop offset="0.2530" stop-color="#00b47a"/><stop offset="0.2683" stop-color="#00c864"/><stop offset="0.2805" stop-color="#30cc5a"/><stop offset="0.2927" stop-color="#60d050"/><stop offset="0.3171" stop-color="#a8dc58"/><stop offset="0.3734" stop-color="#dde47a"/><stop offset="0.3902" stop-color="#e7e781"/><stop offset="0.4695" stop-color="#feef93"/><stop offset="1.0000" stop-color="#feef93"/></linearGradient><linearGradient id="p51" x1="0" y1="0" x2="0" y2="1"><stop offset="0.0000" stop-color="#271371"/><stop offset="0.0244" stop-color="#2a25a5"/><stop offset="0.1260" stop-color="#0538a8"/><stop offset="0.1463" stop-color="#053aa7"/><stop offset="0.1548" stop-color="#02509a"/><stop offset="0.1642" stop-color="#006a90"/><stop offset="0.1735" stop-color="#007888"/><stop offset="0.1829" stop-color="#008a88"/><stop offset="0.2104" stop-color="#009a88"/><stop offset="0.2378" stop-color="#00a585"/><stop offset="0.2530" stop-color="#00b47a"/><stop offset="0.2683" stop-color="#00c864"/><stop offset="0.2805" stop-color="#30cc5a"/><stop offset="0.2927" stop-color="#60d050"/><stop offset="0.3171" stop-color="#a8dc58"/><stop offset="0.3734" stop-color="#dde47a"/><stop offset="0.3902" stop-color="#e7e781"/><stop offset="0.4695" stop-color="#feef93"/><stop offset="1.0000" stop-color="#feef93"/></linearGradient><linearGradient id="p52" x1="0" y1="0" x2="0" y2="1"><stop offset="0.0000" stop-color="#271371"/><stop offset="0.0244" stop-color="#2a25a5"/><stop offset="0.0854" stop-color="#0538a8"/><stop offset="0.0976" stop-color="#053aa7"/><stop offset="0.1060" stop-color="#02509a"/><stop offset="0.1154" stop-color="#006a90"/><stop offset="0.1248" stop-color="#007888"/><stop offset="0.1341" stop-color="#008a88"/><stop offset="0.2088" stop-color="#009a88"/><stop offset="0.2835" stop-color="#00a585"/><stop offset="0.2988" stop-color="#00b47a"/><stop offset="0.3140" stop-color="#00c864"/><stop offset="0.3262" stop-color="#30cc5a"/><stop offset="0.3384" stop-color="#60d050"/><stop offset="0.3628" stop-color="#a8dc58"/><stop offset="0.4191" stop-color="#dde47a"/><stop offset="0.4360" stop-color="#e7e781"/><stop offset="0.5152" stop-color="#feef93"/><stop offset="1.0000" stop-color="#feef93"/></linearGradient><linearGradient id="p53" x1="0" y1="0" x2="0" y2="1"><stop offset="0.0000" stop-color="#23197d"/><stop offset="0.0244" stop-color="#0538a8"/><stop offset="0.0976" stop-color="#0346a0"/><stop offset="0.1019" stop-color="#02509a"/><stop offset="0.1126" stop-color="#006a90"/><stop offset="0.1234" stop-color="#007888"/><stop offset="0.1341" stop-color="#008a88"/><stop offset="0.2165" stop-color="#009a88"/><stop offset="0.2988" stop-color="#00a585"/><stop offset="0.3140" stop-color="#00b47a"/><stop offset="0.3293" stop-color="#00c864"/><stop offset="0.3415" stop-color="#30cc5a"/><stop offset="0.3537" stop-color="#60d050"/><stop offset="0.3780" stop-color="#a8dc58"/><stop offset="0.4343" stop-color="#dde47a"/><stop offset="0.4512" stop-color="#e7e781"/><stop offset="0.5305" stop-color="#feef93"/><stop offset="1.0000" stop-color="#feef93"/></linearGradient><linearGradient id="p54" x1="0" y1="0" x2="0" y2="1"><stop offset="0.0000" stop-color="#23197d"/><stop offset="0.0244" stop-color="#0538a8"/><stop offset="0.0976" stop-color="#0346a0"/><stop offset="0.1019" stop-color="#02509a"/><stop offset="0.1126" stop-color="#006a90"/><stop offset="0.1234" stop-color="#007888"/><stop offset="0.1341" stop-color="#008a88"/><stop offset="0.2088" stop-color="#009a88"/><stop offset="0.2835" stop-color="#00a585"/><stop offset="0.2988" stop-color="#00b47a"/><stop offset="0.3140" stop-color="#00c864"/><stop offset="0.3262" stop-color="#30cc5a"/><stop offset="0.3384" stop-color="#60d050"/><stop offset="0.3628" stop-color="#a8dc58"/><stop offset="0.4191" stop-color="#dde47a"/><stop offset="0.4360" stop-color="#e7e781"/><stop offset="0.5152" stop-color="#feef93"/><stop offset="1.0000" stop-color="#feef93"/></linearGradient><linearGradient id="p55" x1="0" y1="0" x2="0" y2="1"><stop offset="0.0000" stop-color="#271371"/><stop offset="0.0244" stop-color="#2a25a5"/><stop offset="0.0854" stop-color="#0538a8"/><stop offset="0.0976" stop-color="#053aa7"/><stop offset="0.1060" stop-color="#02509a"/><stop offset="0.1154" stop-color="#006a90"/><stop offset="0.1248" stop-color="#007888"/><stop offset="0.1341" stop-color="#008a88"/><stop offset="0.2012" stop-color="#009a88"/><stop offset="0.2683" stop-color="#00a585"/><stop offset="0.2835" stop-color="#00b47a"/><stop offset="0.2988" stop-color="#00c864"/><stop offset="0.3110" stop-color="#30cc5a"/><stop offset="0.3232" stop-color="#60d050"/><stop offset="0.3476" stop-color="#a8dc58"/><stop offset="0.4038" stop-color="#dde47a"/><stop offset="0.4207" stop-color="#e7e781"/><stop offset="0.5000" stop-color="#feef93"/><stop offset="1.0000" stop-color="#feef93"/></linearGradient><linearGradient id="p56" x1="0" y1="0" x2="0" y2="1"><stop offset="0.0000" stop-color="#23197d"/><stop offset="0.0244" stop-color="#0538a8"/><stop offset="0.0976" stop-color="#0346a0"/><stop offset="0.1019" stop-color="#02509a"/><stop offset="0.1126" stop-color="#006a90"/><stop offset="0.1234" stop-color="#007888"/><stop offset="0.1341" stop-color="#008a88"/><stop offset="0.2012" stop-color="#009a88"/><stop offset="0.2683" stop-color="#00a585"/><stop offset="0.2835" stop-color="#00b47a"/><stop offset="0.2988" stop-color="#00c864"/><stop offset="0.3110" stop-color="#30cc5a"/><stop offset="0.3232" stop-color="#60d050"/><stop offset="0.3476" stop-color="#a8dc58"/><stop offset="0.4038" stop-color="#dde47a"/><stop offset="0.4207" stop-color="#e7e781"/><stop offset="0.5000" stop-color="#feef93"/><stop offset="1.0000" stop-color="#feef93"/></linearGradient><linearGradient id="p57" x1="0" y1="0" x2="0" y2="1"><stop offset="0.0000" stop-color="#23197d"/><stop offset="0.0244" stop-color="#0538a8"/><stop offset="0.0732" stop-color="#0346a0"/><stop offset="0.0775" stop-color="#02509a"/><stop offset="0.0882" stop-color="#006a90"/><stop offset="0.0990" stop-color="#007888"/><stop offset="0.1098" stop-color="#008a88"/><stop offset="0.1966" stop-color="#009a88"/><stop offset="0.2835" stop-color="#00a585"/><stop offset="0.2988" stop-color="#00b47a"/><stop offset="0.3140" stop-color="#00c864"/><stop offset="0.3262" stop-color="#30cc5a"/><stop offset="0.3384" stop-color="#60d050"/><stop offset="0.3628" stop-color="#a8dc58"/><stop offset="0.4191" stop-color="#dde47a"/><stop offset="0.4360" stop-color="#e7e781"/><stop offset="0.5152" stop-color="#feef93"/><stop offset="1.0000" stop-color="#feef93"/></linearGradient><linearGradient id="p58" x1="0" y1="0" x2="0" y2="1"><stop offset="0.0000" stop-color="#23197d"/><stop offset="0.0244" stop-color="#0538a8"/><stop offset="0.0976" stop-color="#0346a0"/><stop offset="0.1019" stop-color="#02509a"/><stop offset="0.1126" stop-color="#006a90"/><stop offset="0.1234" stop-color="#007888"/><stop offset="0.1341" stop-color="#008a88"/><stop offset="0.1936" stop-color="#009a88"/><stop offset="0.2530" stop-color="#00a585"/><stop offset="0.2683" stop-color="#00b47a"/><stop offset="0.2835" stop-color="#00c864"/><stop offset="0.2957" stop-color="#30cc5a"/><stop offset="0.3079" stop-color="#60d050"/><stop offset="0.3323" stop-color="#a8dc58"/><stop offset="0.3886" stop-color="#dde47a"/><stop offset="0.4055" stop-color="#e7e781"/><stop offset="0.4848" stop-color="#feef93"/><stop offset="1.0000" stop-color="#feef93"/></linearGradient><linearGradient id="p59" x1="0" y1="0" x2="0" y2="1"><stop offset="0.0000" stop-color="#23197d"/><stop offset="0.0244" stop-color="#0538a8"/><stop offset="0.0732" stop-color="#0346a0"/><stop offset="0.0775" stop-color="#02509a"/><stop offset="0.0882" stop-color="#006a90"/><stop offset="0.0990" stop-color="#007888"/><stop offset="0.1098" stop-color="#008a88"/><stop offset="0.1890" stop-color="#009a88"/><stop offset="0.2683" stop-color="#00a585"/><stop offset="0.2835" stop-color="#00b47a"/><stop offset="0.2988" stop-color="#00c864"/><stop offset="0.3110" stop-color="#30cc5a"/><stop offset="0.3232" stop-color="#60d050"/><stop offset="0.3476" stop-color="#a8dc58"/><stop offset="0.4038" stop-color="#dde47a"/><stop offset="0.4207" stop-color="#e7e781"/><stop offset="0.5000" stop-color="#feef93"/><stop offset="1.0000" stop-color="#feef93"/></linearGradient><linearGradient id="p60" x1="0" y1="0" x2="0" y2="1"><stop offset="0.0000" stop-color="#23197d"/><stop offset="0.0244" stop-color="#0538a8"/><stop offset="0.0732" stop-color="#0346a0"/><stop offset="0.0775" stop-color="#02509a"/><stop offset="0.0882" stop-color="#006a90"/><stop offset="0.0990" stop-color="#007888"/><stop offset="0.1098" stop-color="#008a88"/><stop offset="0.1814" stop-color="#009a88"/><stop offset="0.2530" stop-color="#00a585"/><stop offset="0.2683" stop-color="#00b47a"/><stop offset="0.2835" stop-color="#00c864"/><stop offset="0.2957" stop-color="#30cc5a"/><stop offset="0.3079" stop-color="#60d050"/><stop offset="0.3323" stop-color="#a8dc58"/><stop offset="0.3886" stop-color="#dde47a"/><stop offset="0.4055" stop-color="#e7e781"/><stop offset="0.4848" stop-color="#feef93"/><stop offset="1.0000" stop-color="#feef93"/></linearGradient><linearGradient id="p61" x1="0" y1="0" x2="0" y2="1"><stop offset="0.0000" stop-color="#23197d"/><stop offset="0.0244" stop-color="#0538a8"/><stop offset="0.0732" stop-color="#0346a0"/><stop offset="0.0775" stop-color="#02509a"/><stop offset="0.0882" stop-color="#006a90"/><stop offset="0.0990" stop-color="#007888"/><stop offset="0.1098" stop-color="#008a88"/><stop offset="0.1738" stop-color="#009a88"/><stop offset="0.2378" stop-color="#00a585"/><stop offset="0.2530" stop-color="#00b47a"/><stop offset="0.2683" stop-color="#00c864"/><stop offset="0.2805" stop-color="#30cc5a"/><stop offset="0.2927" stop-color="#60d050"/><stop offset="0.3171" stop-color="#a8dc58"/><stop offset="0.3734" stop-color="#dde47a"/><stop offset="0.3902" stop-color="#e7e781"/><stop offset="0.4695" stop-color="#feef93"/><stop offset="1.0000" stop-color="#feef93"/></linearGradient><linearGradient id="p62" x1="0" y1="0" x2="0" y2="1"><stop offset="0.0000" stop-color="#23197d"/><stop offset="0.0244" stop-color="#0538a8"/><stop offset="0.0976" stop-color="#0346a0"/><stop offset="0.1019" stop-color="#02509a"/><stop offset="0.1126" stop-color="#006a90"/><stop offset="0.1234" stop-color="#007888"/><stop offset="0.1341" stop-color="#008a88"/><stop offset="0.1860" stop-color="#009a88"/><stop offset="0.2378" stop-color="#00a585"/><stop offset="0.2530" stop-color="#00b47a"/><stop offset="0.2683" stop-color="#00c864"/><stop offset="0.2805" stop-color="#30cc5a"/><stop offset="0.2927" stop-color="#60d050"/><stop offset="0.3171" stop-color="#a8dc58"/><stop offset="0.3734" stop-color="#dde47a"/><stop offset="0.3902" stop-color="#e7e781"/><stop offset="0.4695" stop-color="#feef93"/><stop offset="1.0000" stop-color="#feef93"/></linearGradient><linearGradient id="p63" x1="0" y1="0" x2="0" y2="1"><stop offset="0.0000" stop-color="#0f2582"/><stop offset="0.0244" stop-color="#0444a1"/><stop offset="0.0854" stop-color="#02509a"/><stop offset="0.0976" stop-color="#025399"/><stop offset="0.1089" stop-color="#006a90"/><stop offset="0.1215" stop-color="#007888"/><stop offset="0.1341" stop-color="#008a88"/><stop offset="0.1936" stop-color="#009a88"/><stop offset="0.2530" stop-color="#00a585"/><stop offset="0.2683" stop-color="#00b47a"/><stop offset="0.2835" stop-color="#00c864"/><stop offset="0.2957" stop-color="#30cc5a"/><stop offset="0.3079" stop-color="#60d050"/><stop offset="0.3323" stop-color="#a8dc58"/><stop offset="0.3886" stop-color="#dde47a"/><stop offset="0.4055" stop-color="#e7e781"/><stop offset="0.4848" stop-color="#feef93"/><stop offset="1.0000" stop-color="#feef93"/></linearGradient><linearGradient id="p64" x1="0" y1="0" x2="0" y2="1"><stop offset="0.0000" stop-color="#0f2582"/><stop offset="0.0244" stop-color="#0444a1"/><stop offset="0.0650" stop-color="#02509a"/><stop offset="0.0732" stop-color="#025399"/><stop offset="0.0845" stop-color="#006a90"/><stop offset="0.0971" stop-color="#007888"/><stop offset="0.1098" stop-color="#008a88"/><stop offset="0.1738" stop-color="#009a88"/><stop offset="0.2378" stop-color="#00a585"/><stop offset="0.2530" stop-color="#00b47a"/><stop offset="0.2683" stop-color="#00c864"/><stop offset="0.2805" stop-color="#30cc5a"/><stop offset="0.2927" stop-color="#60d050"/><stop offset="0.3171" stop-color="#a8dc58"/><stop offset="0.3734" stop-color="#dde47a"/><stop offset="0.3902" stop-color="#e7e781"/><stop offset="0.4695" stop-color="#feef93"/><stop offset="1.0000" stop-color="#feef93"/></linearGradient><linearGradient id="p65" x1="0" y1="0" x2="0" y2="1"><stop offset="0.0000" stop-color="#23197d"/><stop offset="0.0244" stop-color="#0538a8"/><stop offset="0.0732" stop-color="#0346a0"/><stop offset="0.0775" stop-color="#02509a"/><stop offset="0.0882" stop-color="#006a90"/><stop offset="0.0990" stop-color="#007888"/><stop offset="0.1098" stop-color="#008a88"/><stop offset="0.1662" stop-color="#009a88"/><stop offset="0.2226" stop-color="#00a585"/><stop offset="0.2378" stop-color="#00b47a"/><stop offset="0.2530" stop-color="#00c864"/><stop offset="0.2652" stop-color="#30cc5a"/><stop offset="0.2774" stop-color="#60d050"/><stop offset="0.3018" stop-color="#a8dc58"/><stop offset="0.3581" stop-color="#dde47a"/><stop offset="0.3750" stop-color="#e7e781"/><stop offset="0.4543" stop-color="#feef93"/><stop offset="1.0000" stop-color="#feef93"/></linearGradient><linearGradient id="p66" x1="0" y1="0" x2="0" y2="1"><stop offset="0.0000" stop-color="#0f2582"/><stop offset="0.0244" stop-color="#0444a1"/><stop offset="0.0650" stop-color="#02509a"/><stop offset="0.0732" stop-color="#025399"/><stop offset="0.0845" stop-color="#006a90"/><stop offset="0.0971" stop-color="#007888"/><stop offset="0.1098" stop-color="#008a88"/><stop offset="0.1814" stop-color="#009a88"/><stop offset="0.2530" stop-color="#00a585"/><stop offset="0.2683" stop-color="#00b47a"/><stop offset="0.2835" stop-color="#00c864"/><stop offset="0.2957" stop-color="#30cc5a"/><stop offset="0.3079" stop-color="#60d050"/><stop offset="0.3323" stop-color="#a8dc58"/><stop offset="0.3886" stop-color="#dde47a"/><stop offset="0.4055" stop-color="#e7e781"/><stop offset="0.4848" stop-color="#feef93"/><stop offset="1.0000" stop-color="#feef93"/></linearGradient><linearGradient id="p67" x1="0" y1="0" x2="0" y2="1"><stop offset="0.0000" stop-color="#0f2582"/><stop offset="0.0244" stop-color="#0444a1"/><stop offset="0.0650" stop-color="#02509a"/><stop offset="0.0732" stop-color="#025399"/><stop offset="0.0845" stop-color="#006a90"/><stop offset="0.0971" stop-color="#007888"/><stop offset="0.1098" stop-color="#008a88"/><stop offset="0.1662" stop-color="#009a88"/><stop offset="0.2226" stop-color="#00a585"/><stop offset="0.2378" stop-color="#00b47a"/><stop offset="0.2530" stop-color="#00c864"/><stop offset="0.2652" stop-color="#30cc5a"/><stop offset="0.2774" stop-color="#60d050"/><stop offset="0.3018" stop-color="#a8dc58"/><stop offset="0.3581" stop-color="#dde47a"/><stop offset="0.3750" stop-color="#e7e781"/><stop offset="0.4543" stop-color="#feef93"/><stop offset="1.0000" stop-color="#feef93"/></linearGradient><linearGradient id="p68" x1="0" y1="0" x2="0" y2="1"><stop offset="0.0000" stop-color="#0f2582"/><stop offset="0.0244" stop-color="#0444a1"/><stop offset="0.0854" stop-color="#02509a"/><stop offset="0.0976" stop-color="#025399"/><stop offset="0.1089" stop-color="#006a90"/><stop offset="0.1215" stop-color="#007888"/><stop offset="0.1341" stop-color="#008a88"/><stop offset="0.1860" stop-color="#009a88"/><stop offset="0.2378" stop-color="#00a585"/><stop offset="0.2530" stop-color="#00b47a"/><stop offset="0.2683" stop-color="#00c864"/><stop offset="0.2805" stop-color="#30cc5a"/><stop offset="0.2927" stop-color="#60d050"/><stop offset="0.3171" stop-color="#a8dc58"/><stop offset="0.3734" stop-color="#dde47a"/><stop offset="0.3902" stop-color="#e7e781"/><stop offset="0.4695" stop-color="#feef93"/><stop offset="1.0000" stop-color="#feef93"/></linearGradient><linearGradient id="p69" x1="0" y1="0" x2="0" y2="1"><stop offset="0.0000" stop-color="#23197d"/><stop offset="0.0244" stop-color="#0538a8"/><stop offset="0.1220" stop-color="#0346a0"/><stop offset="0.1263" stop-color="#02509a"/><stop offset="0.1370" stop-color="#006a90"/><stop offset="0.1478" stop-color="#007888"/><stop offset="0.1585" stop-color="#008a88"/><stop offset="0.1905" stop-color="#009a88"/><stop offset="0.2226" stop-color="#00a585"/><stop offset="0.2378" stop-color="#00b47a"/><stop offset="0.2530" stop-color="#00c864"/><stop offset="0.2652" stop-color="#30cc5a"/><stop offset="0.2774" stop-color="#60d050"/><stop offset="0.3018" stop-color="#a8dc58"/><stop offset="0.3581" stop-color="#dde47a"/><stop offset="0.3750" stop-color="#e7e781"/><stop offset="0.4543" stop-color="#feef93"/><stop offset="1.0000" stop-color="#feef93"/></linearGradient><linearGradient id="p70" x1="0" y1="0" x2="0" y2="1"><stop offset="0.0000" stop-color="#23197d"/><stop offset="0.0244" stop-color="#0538a8"/><stop offset="0.1463" stop-color="#0346a0"/><stop offset="0.1506" stop-color="#02509a"/><stop offset="0.1614" stop-color="#006a90"/><stop offset="0.1722" stop-color="#007888"/><stop offset="0.1829" stop-color="#008a88"/><stop offset="0.2104" stop-color="#009a88"/><stop offset="0.2378" stop-color="#00a585"/><stop offset="0.2530" stop-color="#00b47a"/><stop offset="0.2683" stop-color="#00c864"/><stop offset="0.2805" stop-color="#30cc5a"/><stop offset="0.2927" stop-color="#60d050"/><stop offset="0.3171" stop-color="#a8dc58"/><stop offset="0.3734" stop-color="#dde47a"/><stop offset="0.3902" stop-color="#e7e781"/><stop offset="0.4695" stop-color="#feef93"/><stop offset="1.0000" stop-color="#feef93"/></linearGradient><linearGradient id="p71" x1="0" y1="0" x2="0" y2="1"><stop offset="0.0000" stop-color="#23197d"/><stop offset="0.0244" stop-color="#0538a8"/><stop offset="0.1463" stop-color="#0346a0"/><stop offset="0.1506" stop-color="#02509a"/><stop offset="0.1614" stop-color="#006a90"/><stop offset="0.1722" stop-color="#007888"/><stop offset="0.1829" stop-color="#008a88"/><stop offset="0.2027" stop-color="#009a88"/><stop offset="0.2226" stop-color="#00a585"/><stop offset="0.2378" stop-color="#00b47a"/><stop offset="0.2530" stop-color="#00c864"/><stop offset="0.2652" stop-color="#30cc5a"/><stop offset="0.2774" stop-color="#60d050"/><stop offset="0.3018" stop-color="#a8dc58"/><stop offset="0.3581" stop-color="#dde47a"/><stop offset="0.3750" stop-color="#e7e781"/><stop offset="0.4543" stop-color="#feef93"/><stop offset="1.0000" stop-color="#feef93"/></linearGradient><linearGradient id="p72" x1="0" y1="0" x2="0" y2="1"><stop offset="0.0000" stop-color="#271371"/><stop offset="0.0244" stop-color="#2a25a5"/><stop offset="0.1260" stop-color="#0538a8"/><stop offset="0.1463" stop-color="#053aa7"/><stop offset="0.1548" stop-color="#02509a"/><stop offset="0.1642" stop-color="#006a90"/><stop offset="0.1735" stop-color="#007888"/><stop offset="0.1829" stop-color="#008a88"/><stop offset="0.2027" stop-color="#009a88"/><stop offset="0.2226" stop-color="#00a585"/><stop offset="0.2378" stop-color="#00b47a"/><stop offset="0.2530" stop-color="#00c864"/><stop offset="0.2652" stop-color="#30cc5a"/><stop offset="0.2774" stop-color="#60d050"/><stop offset="0.3018" stop-color="#a8dc58"/><stop offset="0.3581" stop-color="#dde47a"/><stop offset="0.3750" stop-color="#e7e781"/><stop offset="0.4543" stop-color="#feef93"/><stop offset="1.0000" stop-color="#feef93"/></linearGradient><linearGradient id="p73" x1="0" y1="0" x2="0" y2="1"><stop offset="0.0000" stop-color="#231161"/><stop offset="0.0244" stop-color="#331a9a"/><stop offset="0.1057" stop-color="#2a25a5"/><stop offset="0.1220" stop-color="#2329a6"/><stop offset="0.1253" stop-color="#0538a8"/><stop offset="0.1336" stop-color="#02509a"/><stop offset="0.1419" stop-color="#006a90"/><stop offset="0.1502" stop-color="#007888"/><stop offset="0.1585" stop-color="#008a88"/><stop offset="0.1905" stop-color="#009a88"/><stop offset="0.2226" stop-color="#00a585"/><stop offset="0.2378" stop-color="#00b47a"/><stop offset="0.2530" stop-color="#00c864"/><stop offset="0.2652" stop-color="#30cc5a"/><stop offset="0.2774" stop-color="#60d050"/><stop offset="0.3018" stop-color="#a8dc58"/><stop offset="0.3581" stop-color="#dde47a"/><stop offset="0.3750" stop-color="#e7e781"/><stop offset="0.4543" stop-color="#feef93"/><stop offset="1.0000" stop-color="#feef93"/></linearGradient><linearGradient id="p74" x1="0" y1="0" x2="0" y2="1"><stop offset="0.0000" stop-color="#271371"/><stop offset="0.0244" stop-color="#2a25a5"/><stop offset="0.0650" stop-color="#0538a8"/><stop offset="0.0732" stop-color="#053aa7"/><stop offset="0.0816" stop-color="#02509a"/><stop offset="0.0910" stop-color="#006a90"/><stop offset="0.1004" stop-color="#007888"/><stop offset="0.1098" stop-color="#008a88"/><stop offset="0.1662" stop-color="#009a88"/><stop offset="0.2226" stop-color="#00a585"/><stop offset="0.2378" stop-color="#00b47a"/><stop offset="0.2530" stop-color="#00c864"/><stop offset="0.2652" stop-color="#30cc5a"/><stop offset="0.2774" stop-color="#60d050"/><stop offset="0.3018" stop-color="#a8dc58"/><stop offset="0.3581" stop-color="#dde47a"/><stop offset="0.3750" stop-color="#e7e781"/><stop offset="0.4543" stop-color="#feef93"/><stop offset="1.0000" stop-color="#feef93"/></linearGradient><linearGradient id="p75" x1="0" y1="0" x2="0" y2="1"><stop offset="0.0000" stop-color="#004e71"/><stop offset="0.0244" stop-color="#00718c"/><stop offset="0.0257" stop-color="#007888"/><stop offset="0.0259" stop-color="#007a88"/><stop offset="0.0610" stop-color="#008a88"/><stop offset="0.1418" stop-color="#009a88"/><stop offset="0.2226" stop-color="#00a585"/><stop offset="0.2378" stop-color="#00b47a"/><stop offset="0.2530" stop-color="#00c864"/><stop offset="0.2652" stop-color="#30cc5a"/><stop offset="0.2774" stop-color="#60d050"/><stop offset="0.3018" stop-color="#a8dc58"/><stop offset="0.3581" stop-color="#dde47a"/><stop offset="0.3750" stop-color="#e7e781"/><stop offset="0.4543" stop-color="#feef93"/><stop offset="1.0000" stop-color="#feef93"/></linearGradient><linearGradient id="p76" x1="0" y1="0" x2="0" y2="1"><stop offset="0.0000" stop-color="#004475"/><stop offset="0.0244" stop-color="#006a90"/><stop offset="0.0488" stop-color="#00728b"/><stop offset="0.0592" stop-color="#007888"/><stop offset="0.0854" stop-color="#008a88"/><stop offset="0.1616" stop-color="#009a88"/><stop offset="0.2378" stop-color="#00a585"/><stop offset="0.2530" stop-color="#00b47a"/><stop offset="0.2683" stop-color="#00c864"/><stop offset="0.2805" stop-color="#30cc5a"/><stop offset="0.2927" stop-color="#60d050"/><stop offset="0.3171" stop-color="#a8dc58"/><stop offset="0.3734" stop-color="#dde47a"/><stop offset="0.3902" stop-color="#e7e781"/><stop offset="0.4695" stop-color="#feef93"/><stop offset="1.0000" stop-color="#feef93"/></linearGradient><linearGradient id="p77" x1="0" y1="0" x2="0" y2="1"><stop offset="0.0000" stop-color="#004e71"/><stop offset="0.0244" stop-color="#00718c"/><stop offset="0.0447" stop-color="#007888"/><stop offset="0.0488" stop-color="#007a88"/><stop offset="0.0854" stop-color="#008a88"/><stop offset="0.1692" stop-color="#009a88"/><stop offset="0.2530" stop-color="#00a585"/><stop offset="0.2683" stop-color="#00b47a"/><stop offset="0.2835" stop-color="#00c864"/><stop offset="0.2957" stop-color="#30cc5a"/><stop offset="0.3079" stop-color="#60d050"/><stop offset="0.3323" stop-color="#a8dc58"/><stop offset="0.3886" stop-color="#dde47a"/><stop offset="0.4055" stop-color="#e7e781"/><stop offset="0.4848" stop-color="#feef93"/><stop offset="1.0000" stop-color="#feef93"/></linearGradient><linearGradient id="p78" x1="0" y1="0" x2="0" y2="1"><stop offset="0.0000" stop-color="#004e71"/><stop offset="0.0244" stop-color="#00718c"/><stop offset="0.0257" stop-color="#007888"/><stop offset="0.0259" stop-color="#007a88"/><stop offset="0.0610" stop-color="#008a88"/><stop offset="0.1494" stop-color="#009a88"/><stop offset="0.2378" stop-color="#00a585"/><stop offset="0.2530" stop-color="#00b47a"/><stop offset="0.2683" stop-color="#00c864"/><stop offset="0.2805" stop-color="#30cc5a"/><stop offset="0.2927" stop-color="#60d050"/><stop offset="0.3171" stop-color="#a8dc58"/><stop offset="0.3734" stop-color="#dde47a"/><stop offset="0.3902" stop-color="#e7e781"/><stop offset="0.4695" stop-color="#feef93"/><stop offset="1.0000" stop-color="#feef93"/></linearGradient><linearGradient id="p79" x1="0" y1="0" x2="0" y2="1"><stop offset="0.0000" stop-color="#004e71"/><stop offset="0.0244" stop-color="#00718c"/><stop offset="0.0257" stop-color="#007888"/><stop offset="0.0259" stop-color="#007a88"/><stop offset="0.0610" stop-color="#008a88"/><stop offset="0.1570" stop-color="#009a88"/><stop offset="0.2530" stop-color="#00a585"/><stop offset="0.2683" stop-color="#00b47a"/><stop offset="0.2835" stop-color="#00c864"/><stop offset="0.2957" stop-color="#30cc5a"/><stop offset="0.3079" stop-color="#60d050"/><stop offset="0.3323" stop-color="#a8dc58"/><stop offset="0.3886" stop-color="#dde47a"/><stop offset="0.4055" stop-color="#e7e781"/><stop offset="0.4848" stop-color="#feef93"/><stop offset="1.0000" stop-color="#feef93"/></linearGradient><linearGradient id="p80" x1="0" y1="0" x2="0" y2="1"><stop offset="0.0000" stop-color="#004e71"/><stop offset="0.0244" stop-color="#00718c"/><stop offset="0.0447" stop-color="#007888"/><stop offset="0.0488" stop-color="#007a88"/><stop offset="0.0854" stop-color="#008a88"/><stop offset="0.1540" stop-color="#009a88"/><stop offset="0.2226" stop-color="#00a585"/><stop offset="0.2378" stop-color="#00b47a"/><stop offset="0.2530" stop-color="#00c864"/><stop offset="0.2652" stop-color="#30cc5a"/><stop offset="0.2774" stop-color="#60d050"/><stop offset="0.3018" stop-color="#a8dc58"/><stop offset="0.3581" stop-color="#dde47a"/><stop offset="0.3750" stop-color="#e7e781"/><stop offset="0.4543" stop-color="#feef93"/><stop offset="1.0000" stop-color="#feef93"/></linearGradient><linearGradient id="p81" x1="0" y1="0" x2="0" y2="1"><stop offset="0.0000" stop-color="#004e71"/><stop offset="0.0244" stop-color="#00718c"/><stop offset="0.0447" stop-color="#007888"/><stop offset="0.0488" stop-color="#007a88"/><stop offset="0.0854" stop-color="#008a88"/><stop offset="0.1616" stop-color="#009a88"/><stop offset="0.2378" stop-color="#00a585"/><stop offset="0.2530" stop-color="#00b47a"/><stop offset="0.2683" stop-color="#00c864"/><stop offset="0.2805" stop-color="#30cc5a"/><stop offset="0.2927" stop-color="#60d050"/><stop offset="0.3171" stop-color="#a8dc58"/><stop offset="0.3734" stop-color="#dde47a"/><stop offset="0.3902" stop-color="#e7e781"/><stop offset="0.4695" stop-color="#feef93"/><stop offset="1.0000" stop-color="#feef93"/></linearGradient><linearGradient id="p82" x1="0" y1="0" x2="0" y2="1"><stop offset="0.0000" stop-color="#004475"/><stop offset="0.0244" stop-color="#006a90"/><stop offset="0.0488" stop-color="#00728b"/><stop offset="0.0592" stop-color="#007888"/><stop offset="0.0854" stop-color="#008a88"/><stop offset="0.1692" stop-color="#009a88"/><stop offset="0.2530" stop-color="#00a585"/><stop offset="0.2683" stop-color="#00b47a"/><stop offset="0.2835" stop-color="#00c864"/><stop offset="0.2957" stop-color="#30cc5a"/><stop offset="0.3079" stop-color="#60d050"/><stop offset="0.3323" stop-color="#a8dc58"/><stop offset="0.3886" stop-color="#dde47a"/><stop offset="0.4055" stop-color="#e7e781"/><stop offset="0.4848" stop-color="#feef93"/><stop offset="1.0000" stop-color="#feef93"/></linearGradient><linearGradient id="p83" x1="0" y1="0" x2="0" y2="1"><stop offset="0.0000" stop-color="#004475"/><stop offset="0.0244" stop-color="#006a90"/><stop offset="0.0259" stop-color="#00728b"/><stop offset="0.0359" stop-color="#007888"/><stop offset="0.0610" stop-color="#008a88"/><stop offset="0.1494" stop-color="#009a88"/><stop offset="0.2378" stop-color="#00a585"/><stop offset="0.2530" stop-color="#00b47a"/><stop offset="0.2683" stop-color="#00c864"/><stop offset="0.2805" stop-color="#30cc5a"/><stop offset="0.2927" stop-color="#60d050"/><stop offset="0.3171" stop-color="#a8dc58"/><stop offset="0.3734" stop-color="#dde47a"/><stop offset="0.3902" stop-color="#e7e781"/><stop offset="0.4695" stop-color="#feef93"/><stop offset="1.0000" stop-color="#feef93"/></linearGradient><linearGradient id="p84" x1="0" y1="0" x2="0" y2="1"><stop offset="0.0000" stop-color="#023a7a"/><stop offset="0.0244" stop-color="#015d95"/><stop offset="0.0447" stop-color="#006a90"/><stop offset="0.0488" stop-color="#006b8f"/><stop offset="0.0661" stop-color="#007888"/><stop offset="0.0854" stop-color="#008a88"/><stop offset="0.1616" stop-color="#009a88"/><stop offset="0.2378" stop-color="#00a585"/><stop offset="0.2530" stop-color="#00b47a"/><stop offset="0.2683" stop-color="#00c864"/><stop offset="0.2805" stop-color="#30cc5a"/><stop offset="0.2927" stop-color="#60d050"/><stop offset="0.3171" stop-color="#a8dc58"/><stop offset="0.3734" stop-color="#dde47a"/><stop offset="0.3902" stop-color="#e7e781"/><stop offset="0.4695" stop-color="#feef93"/><stop offset="1.0000" stop-color="#feef93"/></linearGradient><linearGradient id="p85" x1="0" y1="0" x2="0" y2="1"><stop offset="0.0000" stop-color="#004475"/><stop offset="0.0244" stop-color="#006a90"/><stop offset="0.0732" stop-color="#00728b"/><stop offset="0.0836" stop-color="#007888"/><stop offset="0.1098" stop-color="#008a88"/><stop offset="0.1738" stop-color="#009a88"/><stop offset="0.2378" stop-color="#00a585"/><stop offset="0.2530" stop-color="#00b47a"/><stop offset="0.2683" stop-color="#00c864"/><stop offset="0.2805" stop-color="#30cc5a"/><stop offset="0.2927" stop-color="#60d050"/><stop offset="0.3171" stop-color="#a8dc58"/><stop offset="0.3734" stop-color="#dde47a"/><stop offset="0.3902" stop-color="#e7e781"/><stop offset="0.4695" stop-color="#feef93"/><stop offset="1.0000" stop-color="#feef93"/></linearGradient><linearGradient id="p86" x1="0" y1="0" x2="0" y2="1"><stop offset="0.0000" stop-color="#0f2582"/><stop offset="0.0244" stop-color="#0444a1"/><stop offset="0.1057" stop-color="#02509a"/><stop offset="0.1220" stop-color="#025399"/><stop offset="0.1333" stop-color="#006a90"/><stop offset="0.1459" stop-color="#007888"/><stop offset="0.1585" stop-color="#008a88"/><stop offset="0.1982" stop-color="#009a88"/><stop offset="0.2378" stop-color="#00a585"/><stop offset="0.2530" stop-color="#00b47a"/><stop offset="0.2683" stop-color="#00c864"/><stop offset="0.2805" stop-color="#30cc5a"/><stop offset="0.2927" stop-color="#60d050"/><stop offset="0.3171" stop-color="#a8dc58"/><stop offset="0.3734" stop-color="#dde47a"/><stop offset="0.3902" stop-color="#e7e781"/><stop offset="0.4695" stop-color="#feef93"/><stop offset="1.0000" stop-color="#feef93"/></linearGradient><linearGradient id="p87" x1="0" y1="0" x2="0" y2="1"><stop offset="0.0000" stop-color="#0f2582"/><stop offset="0.0244" stop-color="#0444a1"/><stop offset="0.1057" stop-color="#02509a"/><stop offset="0.1220" stop-color="#025399"/><stop offset="0.1333" stop-color="#006a90"/><stop offset="0.1459" stop-color="#007888"/><stop offset="0.1585" stop-color="#008a88"/><stop offset="0.2058" stop-color="#009a88"/><stop offset="0.2530" stop-color="#00a585"/><stop offset="0.2683" stop-color="#00b47a"/><stop offset="0.2835" stop-color="#00c864"/><stop offset="0.2957" stop-color="#30cc5a"/><stop offset="0.3079" stop-color="#60d050"/><stop offset="0.3323" stop-color="#a8dc58"/><stop offset="0.3886" stop-color="#dde47a"/><stop offset="0.4055" stop-color="#e7e781"/><stop offset="0.4848" stop-color="#feef93"/><stop offset="1.0000" stop-color="#feef93"/></linearGradient><linearGradient id="p88" x1="0" y1="0" x2="0" y2="1"><stop offset="0.0000" stop-color="#23197d"/><stop offset="0.0244" stop-color="#0538a8"/><stop offset="0.1220" stop-color="#0346a0"/><stop offset="0.1263" stop-color="#02509a"/><stop offset="0.1370" stop-color="#006a90"/><stop offset="0.1478" stop-color="#007888"/><stop offset="0.1585" stop-color="#008a88"/><stop offset="0.2058" stop-color="#009a88"/><stop offset="0.2530" stop-color="#00a585"/><stop offset="0.2683" stop-color="#00b47a"/><stop offset="0.2835" stop-color="#00c864"/><stop offset="0.2957" stop-color="#30cc5a"/><stop offset="0.3079" stop-color="#60d050"/><stop offset="0.3323" stop-color="#a8dc58"/><stop offset="0.3886" stop-color="#dde47a"/><stop offset="0.4055" stop-color="#e7e781"/><stop offset="0.4848" stop-color="#feef93"/><stop offset="1.0000" stop-color="#feef93"/></linearGradient><linearGradient id="p89" x1="0" y1="0" x2="0" y2="1"><stop offset="0.0000" stop-color="#0f2582"/><stop offset="0.0244" stop-color="#0444a1"/><stop offset="0.1260" stop-color="#02509a"/><stop offset="0.1463" stop-color="#025399"/><stop offset="0.1577" stop-color="#006a90"/><stop offset="0.1703" stop-color="#007888"/><stop offset="0.1829" stop-color="#008a88"/><stop offset="0.2104" stop-color="#009a88"/><stop offset="0.2378" stop-color="#00a585"/><stop offset="0.2530" stop-color="#00b47a"/><stop offset="0.2683" stop-color="#00c864"/><stop offset="0.2805" stop-color="#30cc5a"/><stop offset="0.2927" stop-color="#60d050"/><stop offset="0.3171" stop-color="#a8dc58"/><stop offset="0.3734" stop-color="#dde47a"/><stop offset="0.3902" stop-color="#e7e781"/><stop offset="0.4695" stop-color="#feef93"/><stop offset="1.0000" stop-color="#feef93"/></linearGradient><linearGradient id="p90" x1="0" y1="0" x2="0" y2="1"><stop offset="0.0000" stop-color="#023a7a"/><stop offset="0.0244" stop-color="#015d95"/><stop offset="0.0447" stop-color="#006a90"/><stop offset="0.0488" stop-color="#006b8f"/><stop offset="0.0661" stop-color="#007888"/><stop offset="0.0854" stop-color="#008a88"/><stop offset="0.1692" stop-color="#009a88"/><stop offset="0.2530" stop-color="#00a585"/><stop offset="0.2683" stop-color="#00b47a"/><stop offset="0.2835" stop-color="#00c864"/><stop offset="0.2957" stop-color="#30cc5a"/><stop offset="0.3079" stop-color="#60d050"/><stop offset="0.3323" stop-color="#a8dc58"/><stop offset="0.3886" stop-color="#dde47a"/><stop offset="0.4055" stop-color="#e7e781"/><stop offset="0.4848" stop-color="#feef93"/><stop offset="1.0000" stop-color="#feef93"/></linearGradient><linearGradient id="p91" x1="0" y1="0" x2="0" y2="1"><stop offset="0.0000" stop-color="#023a7a"/><stop offset="0.0244" stop-color="#015d95"/><stop offset="0.0650" stop-color="#006a90"/><stop offset="0.0732" stop-color="#006b8f"/><stop offset="0.0905" stop-color="#007888"/><stop offset="0.1098" stop-color="#008a88"/><stop offset="0.1738" stop-color="#009a88"/><stop offset="0.2378" stop-color="#00a585"/><stop offset="0.2530" stop-color="#00b47a"/><stop offset="0.2683" stop-color="#00c864"/><stop offset="0.2805" stop-color="#30cc5a"/><stop offset="0.2927" stop-color="#60d050"/><stop offset="0.3171" stop-color="#a8dc58"/><stop offset="0.3734" stop-color="#dde47a"/><stop offset="0.3902" stop-color="#e7e781"/><stop offset="0.4695" stop-color="#feef93"/><stop offset="1.0000" stop-color="#feef93"/></linearGradient><linearGradient id="p92" x1="0" y1="0" x2="0" y2="1"><stop offset="0.0000" stop-color="#03317f"/><stop offset="0.0244" stop-color="#02509a"/><stop offset="0.0488" stop-color="#016094"/><stop offset="0.0549" stop-color="#006a90"/><stop offset="0.0701" stop-color="#007888"/><stop offset="0.0854" stop-color="#008a88"/><stop offset="0.1616" stop-color="#009a88"/><stop offset="0.2378" stop-color="#00a585"/><stop offset="0.2530" stop-color="#00b47a"/><stop offset="0.2683" stop-color="#00c864"/><stop offset="0.2805" stop-color="#30cc5a"/><stop offset="0.2927" stop-color="#60d050"/><stop offset="0.3171" stop-color="#a8dc58"/><stop offset="0.3734" stop-color="#dde47a"/><stop offset="0.3902" stop-color="#e7e781"/><stop offset="0.4695" stop-color="#feef93"/><stop offset="1.0000" stop-color="#feef93"/></linearGradient><linearGradient id="p93" x1="0" y1="0" x2="0" y2="1"><stop offset="0.0000" stop-color="#03317f"/><stop offset="0.0244" stop-color="#02509a"/><stop offset="0.0732" stop-color="#016094"/><stop offset="0.0793" stop-color="#006a90"/><stop offset="0.0945" stop-color="#007888"/><stop offset="0.1098" stop-color="#008a88"/><stop offset="0.1662" stop-color="#009a88"/><stop offset="0.2226" stop-color="#00a585"/><stop offset="0.2378" stop-color="#00b47a"/><stop offset="0.2530" stop-color="#00c864"/><stop offset="0.2652" stop-color="#30cc5a"/><stop offset="0.2774" stop-color="#60d050"/><stop offset="0.3018" stop-color="#a8dc58"/><stop offset="0.3581" stop-color="#dde47a"/><stop offset="0.3750" stop-color="#e7e781"/><stop offset="0.4543" stop-color="#feef93"/><stop offset="1.0000" stop-color="#feef93"/></linearGradient><linearGradient id="p94" x1="0" y1="0" x2="0" y2="1"><stop offset="0.0000" stop-color="#023a7a"/><stop offset="0.0244" stop-color="#015d95"/><stop offset="0.0650" stop-color="#006a90"/><stop offset="0.0732" stop-color="#006b8f"/><stop offset="0.0905" stop-color="#007888"/><stop offset="0.1098" stop-color="#008a88"/><stop offset="0.1662" stop-color="#009a88"/><stop offset="0.2226" stop-color="#00a585"/><stop offset="0.2378" stop-color="#00b47a"/><stop offset="0.2530" stop-color="#00c864"/><stop offset="0.2652" stop-color="#30cc5a"/><stop offset="0.2774" stop-color="#60d050"/><stop offset="0.3018" stop-color="#a8dc58"/><stop offset="0.3581" stop-color="#dde47a"/><stop offset="0.3750" stop-color="#e7e781"/><stop offset="0.4543" stop-color="#feef93"/><stop offset="1.0000" stop-color="#feef93"/></linearGradient><linearGradient id="p95" x1="0" y1="0" x2="0" y2="1"><stop offset="0.0000" stop-color="#03317f"/><stop offset="0.0244" stop-color="#02509a"/><stop offset="0.0488" stop-color="#016094"/><stop offset="0.0549" stop-color="#006a90"/><stop offset="0.0701" stop-color="#007888"/><stop offset="0.0854" stop-color="#008a88"/><stop offset="0.1540" stop-color="#009a88"/><stop offset="0.2226" stop-color="#00a585"/><stop offset="0.2378" stop-color="#00b47a"/><stop offset="0.2530" stop-color="#00c864"/><stop offset="0.2652" stop-color="#30cc5a"/><stop offset="0.2774" stop-color="#60d050"/><stop offset="0.3018" stop-color="#a8dc58"/><stop offset="0.3581" stop-color="#dde47a"/><stop offset="0.3750" stop-color="#e7e781"/><stop offset="0.4543" stop-color="#feef93"/><stop offset="1.0000" stop-color="#feef93"/></linearGradient><linearGradient id="p96" x1="0" y1="0" x2="0" y2="1"><stop offset="0.0000" stop-color="#03317f"/><stop offset="0.0244" stop-color="#02509a"/><stop offset="0.0732" stop-color="#016094"/><stop offset="0.0793" stop-color="#006a90"/><stop offset="0.0945" stop-color="#007888"/><stop offset="0.1098" stop-color="#008a88"/><stop offset="0.1585" stop-color="#009a88"/><stop offset="0.2073" stop-color="#00a585"/><stop offset="0.2226" stop-color="#00b47a"/><stop offset="0.2378" stop-color="#00c864"/><stop offset="0.2500" stop-color="#30cc5a"/><stop offset="0.2622" stop-color="#60d050"/><stop offset="0.2866" stop-color="#a8dc58"/><stop offset="0.3429" stop-color="#dde47a"/><stop offset="0.3598" stop-color="#e7e781"/><stop offset="0.4390" stop-color="#feef93"/><stop offset="1.0000" stop-color="#feef93"/></linearGradient><linearGradient id="p97" x1="0" y1="0" x2="0" y2="1"><stop offset="0.0000" stop-color="#03317f"/><stop offset="0.0244" stop-color="#02509a"/><stop offset="0.0976" stop-color="#016094"/><stop offset="0.1037" stop-color="#006a90"/><stop offset="0.1189" stop-color="#007888"/><stop offset="0.1341" stop-color="#008a88"/><stop offset="0.1707" stop-color="#009a88"/><stop offset="0.2073" stop-color="#00a585"/><stop offset="0.2226" stop-color="#00b47a"/><stop offset="0.2378" stop-color="#00c864"/><stop offset="0.2500" stop-color="#30cc5a"/><stop offset="0.2622" stop-color="#60d050"/><stop offset="0.2866" stop-color="#a8dc58"/><stop offset="0.3429" stop-color="#dde47a"/><stop offset="0.3598" stop-color="#e7e781"/><stop offset="0.4390" stop-color="#feef93"/><stop offset="1.0000" stop-color="#feef93"/></linearGradient><linearGradient id="p98" x1="0" y1="0" x2="0" y2="1"><stop offset="0.0000" stop-color="#0f2582"/><stop offset="0.0244" stop-color="#0444a1"/><stop offset="0.0650" stop-color="#02509a"/><stop offset="0.0732" stop-color="#025399"/><stop offset="0.0845" stop-color="#006a90"/><stop offset="0.0971" stop-color="#007888"/><stop offset="0.1098" stop-color="#008a88"/><stop offset="0.1585" stop-color="#009a88"/><stop offset="0.2073" stop-color="#00a585"/><stop offset="0.2226" stop-color="#00b47a"/><stop offset="0.2378" stop-color="#00c864"/><stop offset="0.2500" stop-color="#30cc5a"/><stop offset="0.2622" stop-color="#60d050"/><stop offset="0.2866" stop-color="#a8dc58"/><stop offset="0.3429" stop-color="#dde47a"/><stop offset="0.3598" stop-color="#e7e781"/><stop offset="0.4390" stop-color="#feef93"/><stop offset="1.0000" stop-color="#feef93"/></linearGradient><linearGradient id="p99" x1="0" y1="0" x2="0" y2="1"><stop offset="0.0000" stop-color="#0f2582"/><stop offset="0.0244" stop-color="#0444a1"/><stop offset="0.0854" stop-color="#02509a"/><stop offset="0.0976" stop-color="#025399"/><stop offset="0.1089" stop-color="#006a90"/><stop offset="0.1215" stop-color="#007888"/><stop offset="0.1341" stop-color="#008a88"/><stop offset="0.1707" stop-color="#009a88"/><stop offset="0.2073" stop-color="#00a585"/><stop offset="0.2226" stop-color="#00b47a"/><stop offset="0.2378" stop-color="#00c864"/><stop offset="0.2500" stop-color="#30cc5a"/><stop offset="0.2622" stop-color="#60d050"/><stop offset="0.2866" stop-color="#a8dc58"/><stop offset="0.3429" stop-color="#dde47a"/><stop offset="0.3598" stop-color="#e7e781"/><stop offset="0.4390" stop-color="#feef93"/><stop offset="1.0000" stop-color="#feef93"/></linearGradient><linearGradient id="p100" x1="0" y1="0" x2="0" y2="1"><stop offset="0.0000" stop-color="#0f2582"/><stop offset="0.0244" stop-color="#0444a1"/><stop offset="0.0854" stop-color="#02509a"/><stop offset="0.0976" stop-color="#025399"/><stop offset="0.1089" stop-color="#006a90"/><stop offset="0.1215" stop-color="#007888"/><stop offset="0.1341" stop-color="#008a88"/><stop offset="0.1784" stop-color="#009a88"/><stop offset="0.2226" stop-color="#00a585"/><stop offset="0.2378" stop-color="#00b47a"/><stop offset="0.2530" stop-color="#00c864"/><stop offset="0.2652" stop-color="#30cc5a"/><stop offset="0.2774" stop-color="#60d050"/><stop offset="0.3018" stop-color="#a8dc58"/><stop offset="0.3581" stop-color="#dde47a"/><stop offset="0.3750" stop-color="#e7e781"/><stop offset="0.4543" stop-color="#feef93"/><stop offset="1.0000" stop-color="#feef93"/></linearGradient><linearGradient id="p101" x1="0" y1="0" x2="0" y2="1"><stop offset="0.0000" stop-color="#023a7a"/><stop offset="0.0244" stop-color="#015d95"/><stop offset="0.0447" stop-color="#006a90"/><stop offset="0.0488" stop-color="#006b8f"/><stop offset="0.0661" stop-color="#007888"/><stop offset="0.0854" stop-color="#008a88"/><stop offset="0.1463" stop-color="#009a88"/><stop offset="0.2073" stop-color="#00a585"/><stop offset="0.2226" stop-color="#00b47a"/><stop offset="0.2378" stop-color="#00c864"/><stop offset="0.2500" stop-color="#30cc5a"/><stop offset="0.2622" stop-color="#60d050"/><stop offset="0.2866" stop-color="#a8dc58"/><stop offset="0.3429" stop-color="#dde47a"/><stop offset="0.3598" stop-color="#e7e781"/><stop offset="0.4390" stop-color="#feef93"/><stop offset="1.0000" stop-color="#feef93"/></linearGradient><linearGradient id="p102" x1="0" y1="0" x2="0" y2="1"><stop offset="0.0000" stop-color="#023a7a"/><stop offset="0.0244" stop-color="#015d95"/><stop offset="0.0447" stop-color="#006a90"/><stop offset="0.0488" stop-color="#006b8f"/><stop offset="0.0661" stop-color="#007888"/><stop offset="0.0854" stop-color="#008a88"/><stop offset="0.1540" stop-color="#009a88"/><stop offset="0.2226" stop-color="#00a585"/><stop offset="0.2378" stop-color="#00b47a"/><stop offset="0.2530" stop-color="#00c864"/><stop offset="0.2652" stop-color="#30cc5a"/><stop offset="0.2774" stop-color="#60d050"/><stop offset="0.3018" stop-color="#a8dc58"/><stop offset="0.3581" stop-color="#dde47a"/><stop offset="0.3750" stop-color="#e7e781"/><stop offset="0.4543" stop-color="#feef93"/><stop offset="1.0000" stop-color="#feef93"/></linearGradient><linearGradient id="p103" x1="0" y1="0" x2="0" y2="1"><stop offset="0.0000" stop-color="#004e71"/><stop offset="0.0244" stop-color="#00718c"/><stop offset="0.0447" stop-color="#007888"/><stop offset="0.0488" stop-color="#007a88"/><stop offset="0.0854" stop-color="#008a88"/><stop offset="0.1463" stop-color="#009a88"/><stop offset="0.2073" stop-color="#00a585"/><stop offset="0.2226" stop-color="#00b47a"/><stop offset="0.2378" stop-color="#00c864"/><stop offset="0.2500" stop-color="#30cc5a"/><stop offset="0.2622" stop-color="#60d050"/><stop offset="0.2866" stop-color="#a8dc58"/><stop offset="0.3429" stop-color="#dde47a"/><stop offset="0.3598" stop-color="#e7e781"/><stop offset="0.4390" stop-color="#feef93"/><stop offset="1.0000" stop-color="#feef93"/></linearGradient><linearGradient id="p104" x1="0" y1="0" x2="0" y2="1"><stop offset="0.0000" stop-color="#004e71"/><stop offset="0.0244" stop-color="#00718c"/><stop offset="0.0257" stop-color="#007888"/><stop offset="0.0259" stop-color="#007a88"/><stop offset="0.0610" stop-color="#008a88"/><stop offset="0.1341" stop-color="#009a88"/><stop offset="0.2073" stop-color="#00a585"/><stop offset="0.2226" stop-color="#00b47a"/><stop offset="0.2378" stop-color="#00c864"/><stop offset="0.2500" stop-color="#30cc5a"/><stop offset="0.2622" stop-color="#60d050"/><stop offset="0.2866" stop-color="#a8dc58"/><stop offset="0.3429" stop-color="#dde47a"/><stop offset="0.3598" stop-color="#e7e781"/><stop offset="0.4390" stop-color="#feef93"/><stop offset="1.0000" stop-color="#feef93"/></linearGradient><linearGradient id="p105" x1="0" y1="0" x2="0" y2="1"><stop offset="0.0000" stop-color="#00556e"/><stop offset="0.0244" stop-color="#007888"/><stop offset="0.0259" stop-color="#008388"/><stop offset="0.0610" stop-color="#008a88"/><stop offset="0.1341" stop-color="#009a88"/><stop offset="0.2073" stop-color="#00a585"/><stop offset="0.2226" stop-color="#00b47a"/><stop offset="0.2378" stop-color="#00c864"/><stop offset="0.2500" stop-color="#30cc5a"/><stop offset="0.2622" stop-color="#60d050"/><stop offset="0.2866" stop-color="#a8dc58"/><stop offset="0.3429" stop-color="#dde47a"/><stop offset="0.3598" stop-color="#e7e781"/><stop offset="0.4390" stop-color="#feef93"/><stop offset="1.0000" stop-color="#feef93"/></linearGradient><linearGradient id="p106" x1="0" y1="0" x2="0" y2="1"><stop offset="0.0000" stop-color="#00556e"/><stop offset="0.0244" stop-color="#007888"/><stop offset="0.0259" stop-color="#008388"/><stop offset="0.0610" stop-color="#008a88"/><stop offset="0.1418" stop-color="#009a88"/><stop offset="0.2226" stop-color="#00a585"/><stop offset="0.2378" stop-color="#00b47a"/><stop offset="0.2530" stop-color="#00c864"/><stop offset="0.2652" stop-color="#30cc5a"/><stop offset="0.2774" stop-color="#60d050"/><stop offset="0.3018" stop-color="#a8dc58"/><stop offset="0.3581" stop-color="#dde47a"/><stop offset="0.3750" stop-color="#e7e781"/><stop offset="0.4543" stop-color="#feef93"/><stop offset="1.0000" stop-color="#feef93"/></linearGradient><linearGradient id="p107" x1="0" y1="0" x2="0" y2="1"><stop offset="0.0000" stop-color="#005b6b"/><stop offset="0.0244" stop-color="#008188"/><stop offset="0.0257" stop-color="#008a88"/><stop offset="0.0259" stop-color="#008c88"/><stop offset="0.0610" stop-color="#008c88"/><stop offset="0.1303" stop-color="#009a88"/><stop offset="0.2073" stop-color="#00a585"/><stop offset="0.2226" stop-color="#00b47a"/><stop offset="0.2378" stop-color="#00c864"/><stop offset="0.2500" stop-color="#30cc5a"/><stop offset="0.2622" stop-color="#60d050"/><stop offset="0.2866" stop-color="#a8dc58"/><stop offset="0.3429" stop-color="#dde47a"/><stop offset="0.3598" stop-color="#e7e781"/><stop offset="0.4390" stop-color="#feef93"/><stop offset="1.0000" stop-color="#feef93"/></linearGradient><linearGradient id="p108" x1="0" y1="0" x2="0" y2="1"><stop offset="0.0000" stop-color="#005b6b"/><stop offset="0.0244" stop-color="#008188"/><stop offset="0.0257" stop-color="#008a88"/><stop offset="0.0259" stop-color="#008c88"/><stop offset="0.0610" stop-color="#008c88"/><stop offset="0.1375" stop-color="#009a88"/><stop offset="0.2226" stop-color="#00a585"/><stop offset="0.2378" stop-color="#00b47a"/><stop offset="0.2530" stop-color="#00c864"/><stop offset="0.2652" stop-color="#30cc5a"/><stop offset="0.2774" stop-color="#60d050"/><stop offset="0.3018" stop-color="#a8dc58"/><stop offset="0.3581" stop-color="#dde47a"/><stop offset="0.3750" stop-color="#e7e781"/><stop offset="0.4543" stop-color="#feef93"/><stop offset="1.0000" stop-color="#feef93"/></linearGradient><linearGradient id="p109" x1="0" y1="0" x2="0" y2="1"><stop offset="0.0000" stop-color="#00616a"/><stop offset="0.0244" stop-color="#008a88"/><stop offset="0.0259" stop-color="#009488"/><stop offset="0.0610" stop-color="#009488"/><stop offset="0.1028" stop-color="#009a88"/><stop offset="0.2073" stop-color="#00a585"/><stop offset="0.2226" stop-color="#00b47a"/><stop offset="0.2378" stop-color="#00c864"/><stop offset="0.2500" stop-color="#30cc5a"/><stop offset="0.2622" stop-color="#60d050"/><stop offset="0.2866" stop-color="#a8dc58"/><stop offset="0.3429" stop-color="#dde47a"/><stop offset="0.3598" stop-color="#e7e781"/><stop offset="0.4390" stop-color="#feef93"/><stop offset="1.0000" stop-color="#feef93"/></linearGradient><linearGradient id="p110" x1="0" y1="0" x2="0" y2="1"><stop offset="0.0000" stop-color="#005b6b"/><stop offset="0.0244" stop-color="#008188"/><stop offset="0.0257" stop-color="#008a88"/><stop offset="0.0259" stop-color="#008c88"/><stop offset="0.0610" stop-color="#008c88"/><stop offset="0.1231" stop-color="#009a88"/><stop offset="0.1921" stop-color="#00a585"/><stop offset="0.2073" stop-color="#00b47a"/><stop offset="0.2226" stop-color="#00c864"/><stop offset="0.2348" stop-color="#30cc5a"/><stop offset="0.2470" stop-color="#60d050"/><stop offset="0.2713" stop-color="#a8dc58"/><stop offset="0.3276" stop-color="#dde47a"/><stop offset="0.3445" stop-color="#e7e781"/><stop offset="0.4238" stop-color="#feef93"/><stop offset="1.0000" stop-color="#feef93"/></linearGradient><linearGradient id="p111" x1="0" y1="0" x2="0" y2="1"><stop offset="0.0000" stop-color="#00556e"/><stop offset="0.0244" stop-color="#007888"/><stop offset="0.0259" stop-color="#008388"/><stop offset="0.0610" stop-color="#008a88"/><stop offset="0.1265" stop-color="#009a88"/><stop offset="0.1921" stop-color="#00a585"/><stop offset="0.2073" stop-color="#00b47a"/><stop offset="0.2226" stop-color="#00c864"/><stop offset="0.2348" stop-color="#30cc5a"/><stop offset="0.2470" stop-color="#60d050"/><stop offset="0.2713" stop-color="#a8dc58"/><stop offset="0.3276" stop-color="#dde47a"/><stop offset="0.3445" stop-color="#e7e781"/><stop offset="0.4238" stop-color="#feef93"/><stop offset="1.0000" stop-color="#feef93"/></linearGradient><linearGradient id="p112" x1="0" y1="0" x2="0" y2="1"><stop offset="0.0000" stop-color="#004e71"/><stop offset="0.0244" stop-color="#00718c"/><stop offset="0.0447" stop-color="#007888"/><stop offset="0.0488" stop-color="#007a88"/><stop offset="0.0854" stop-color="#008a88"/><stop offset="0.1387" stop-color="#009a88"/><stop offset="0.1921" stop-color="#00a585"/><stop offset="0.2073" stop-color="#00b47a"/><stop offset="0.2226" stop-color="#00c864"/><stop offset="0.2348" stop-color="#30cc5a"/><stop offset="0.2470" stop-color="#60d050"/><stop offset="0.2713" stop-color="#a8dc58"/><stop offset="0.3276" stop-color="#dde47a"/><stop offset="0.3445" stop-color="#e7e781"/><stop offset="0.4238" stop-color="#feef93"/><stop offset="1.0000" stop-color="#feef93"/></linearGradient><linearGradient id="p113" x1="0" y1="0" x2="0" y2="1"><stop offset="0.0000" stop-color="#004e71"/><stop offset="0.0244" stop-color="#00718c"/><stop offset="0.0257" stop-color="#007888"/><stop offset="0.0259" stop-color="#007a88"/><stop offset="0.0610" stop-color="#008a88"/><stop offset="0.1265" stop-color="#009a88"/><stop offset="0.1921" stop-color="#00a585"/><stop offset="0.2073" stop-color="#00b47a"/><stop offset="0.2226" stop-color="#00c864"/><stop offset="0.2348" stop-color="#30cc5a"/><stop offset="0.2470" stop-color="#60d050"/><stop offset="0.2713" stop-color="#a8dc58"/><stop offset="0.3276" stop-color="#dde47a"/><stop offset="0.3445" stop-color="#e7e781"/><stop offset="0.4238" stop-color="#feef93"/><stop offset="1.0000" stop-color="#feef93"/></linearGradient><linearGradient id="p114" x1="0" y1="0" x2="0" y2="1"><stop offset="0.0000" stop-color="#004e71"/><stop offset="0.0244" stop-color="#00718c"/><stop offset="0.0447" stop-color="#007888"/><stop offset="0.0488" stop-color="#007a88"/><stop offset="0.0854" stop-color="#008a88"/><stop offset="0.1311" stop-color="#009a88"/><stop offset="0.1768" stop-color="#00a585"/><stop offset="0.1921" stop-color="#00b47a"/><stop offset="0.2073" stop-color="#00c864"/><stop offset="0.2195" stop-color="#30cc5a"/><stop offset="0.2317" stop-color="#60d050"/><stop offset="0.2561" stop-color="#a8dc58"/><stop offset="0.3124" stop-color="#dde47a"/><stop offset="0.3293" stop-color="#e7e781"/><stop offset="0.4085" stop-color="#feef93"/><stop offset="1.0000" stop-color="#feef93"/></linearGradient><linearGradient id="p115" x1="0" y1="0" x2="0" y2="1"><stop offset="0.0000" stop-color="#004475"/><stop offset="0.0244" stop-color="#006a90"/><stop offset="0.0488" stop-color="#00728b"/><stop offset="0.0592" stop-color="#007888"/><stop offset="0.0854" stop-color="#008a88"/><stop offset="0.1311" stop-color="#009a88"/><stop offset="0.1768" stop-color="#00a585"/><stop offset="0.1921" stop-color="#00b47a"/><stop offset="0.2073" stop-color="#00c864"/><stop offset="0.2195" stop-color="#30cc5a"/><stop offset="0.2317" stop-color="#60d050"/><stop offset="0.2561" stop-color="#a8dc58"/><stop offset="0.3124" stop-color="#dde47a"/><stop offset="0.3293" stop-color="#e7e781"/><stop offset="0.4085" stop-color="#feef93"/><stop offset="1.0000" stop-color="#feef93"/></linearGradient><linearGradient id="p116" x1="0" y1="0" x2="0" y2="1"><stop offset="0.0000" stop-color="#004475"/><stop offset="0.0244" stop-color="#006a90"/><stop offset="0.0732" stop-color="#00728b"/><stop offset="0.0836" stop-color="#007888"/><stop offset="0.1098" stop-color="#008a88"/><stop offset="0.1509" stop-color="#009a88"/><stop offset="0.1921" stop-color="#00a585"/><stop offset="0.2073" stop-color="#00b47a"/><stop offset="0.2226" stop-color="#00c864"/><stop offset="0.2348" stop-color="#30cc5a"/><stop offset="0.2470" stop-color="#60d050"/><stop offset="0.2713" stop-color="#a8dc58"/><stop offset="0.3276" stop-color="#dde47a"/><stop offset="0.3445" stop-color="#e7e781"/><stop offset="0.4238" stop-color="#feef93"/><stop offset="1.0000" stop-color="#feef93"/></linearGradient><linearGradient id="p117" x1="0" y1="0" x2="0" y2="1"><stop offset="0.0000" stop-color="#023a7a"/><stop offset="0.0244" stop-color="#015d95"/><stop offset="0.0650" stop-color="#006a90"/><stop offset="0.0732" stop-color="#006b8f"/><stop offset="0.0905" stop-color="#007888"/><stop offset="0.1098" stop-color="#008a88"/><stop offset="0.1585" stop-color="#009a88"/><stop offset="0.2073" stop-color="#00a585"/><stop offset="0.2226" stop-color="#00b47a"/><stop offset="0.2378" stop-color="#00c864"/><stop offset="0.2500" stop-color="#30cc5a"/><stop offset="0.2622" stop-color="#60d050"/><stop offset="0.2866" stop-color="#a8dc58"/><stop offset="0.3429" stop-color="#dde47a"/><stop offset="0.3598" stop-color="#e7e781"/><stop offset="0.4390" stop-color="#feef93"/><stop offset="1.0000" stop-color="#feef93"/></linearGradient><linearGradient id="p118" x1="0" y1="0" x2="0" y2="1"><stop offset="0.0000" stop-color="#023a7a"/><stop offset="0.0244" stop-color="#015d95"/><stop offset="0.0650" stop-color="#006a90"/><stop offset="0.0732" stop-color="#006b8f"/><stop offset="0.0905" stop-color="#007888"/><stop offset="0.1098" stop-color="#008a88"/><stop offset="0.1509" stop-color="#009a88"/><stop offset="0.1921" stop-color="#00a585"/><stop offset="0.2073" stop-color="#00b47a"/><stop offset="0.2226" stop-color="#00c864"/><stop offset="0.2348" stop-color="#30cc5a"/><stop offset="0.2470" stop-color="#60d050"/><stop offset="0.2713" stop-color="#a8dc58"/><stop offset="0.3276" stop-color="#dde47a"/><stop offset="0.3445" stop-color="#e7e781"/><stop offset="0.4238" stop-color="#feef93"/><stop offset="1.0000" stop-color="#feef93"/></linearGradient><linearGradient id="p119" x1="0" y1="0" x2="0" y2="1"><stop offset="0.0000" stop-color="#03317f"/><stop offset="0.0244" stop-color="#02509a"/><stop offset="0.0976" stop-color="#016094"/><stop offset="0.1037" stop-color="#006a90"/><stop offset="0.1189" stop-color="#007888"/><stop offset="0.1341" stop-color="#008a88"/><stop offset="0.1784" stop-color="#009a88"/><stop offset="0.2226" stop-color="#00a585"/><stop offset="0.2378" stop-color="#00b47a"/><stop offset="0.2530" stop-color="#00c864"/><stop offset="0.2652" stop-color="#30cc5a"/><stop offset="0.2774" stop-color="#60d050"/><stop offset="0.3018" stop-color="#a8dc58"/><stop offset="0.3581" stop-color="#dde47a"/><stop offset="0.3750" stop-color="#e7e781"/><stop offset="0.4543" stop-color="#feef93"/><stop offset="1.0000" stop-color="#feef93"/></linearGradient><linearGradient id="p120" x1="0" y1="0" x2="0" y2="1"><stop offset="0.0000" stop-color="#0f2582"/><stop offset="0.0244" stop-color="#0444a1"/><stop offset="0.1463" stop-color="#02509a"/><stop offset="0.1707" stop-color="#025399"/><stop offset="0.1740" stop-color="#006a90"/><stop offset="0.1777" stop-color="#007888"/><stop offset="0.1814" stop-color="#008a88"/><stop offset="0.1867" stop-color="#009a88"/><stop offset="0.1921" stop-color="#00a585"/><stop offset="0.2073" stop-color="#00b47a"/><stop offset="0.2226" stop-color="#00c864"/><stop offset="0.2348" stop-color="#30cc5a"/><stop offset="0.2470" stop-color="#60d050"/><stop offset="0.2713" stop-color="#a8dc58"/><stop offset="0.3276" stop-color="#dde47a"/><stop offset="0.3445" stop-color="#e7e781"/><stop offset="0.4238" stop-color="#feef93"/><stop offset="1.0000" stop-color="#feef93"/></linearGradient><linearGradient id="p121" x1="0" y1="0" x2="0" y2="1"><stop offset="0.0000" stop-color="#0f2582"/><stop offset="0.0244" stop-color="#0444a1"/><stop offset="0.1362" stop-color="#02509a"/><stop offset="0.1585" stop-color="#025399"/><stop offset="0.1614" stop-color="#006a90"/><stop offset="0.1645" stop-color="#007888"/><stop offset="0.1677" stop-color="#008a88"/><stop offset="0.1723" stop-color="#009a88"/><stop offset="0.1768" stop-color="#00a585"/><stop offset="0.1921" stop-color="#00b47a"/><stop offset="0.2073" stop-color="#00c864"/><stop offset="0.2195" stop-color="#30cc5a"/><stop offset="0.2317" stop-color="#60d050"/><stop offset="0.2561" stop-color="#a8dc58"/><stop offset="0.3124" stop-color="#dde47a"/><stop offset="0.3293" stop-color="#e7e781"/><stop offset="0.4085" stop-color="#feef93"/><stop offset="1.0000" stop-color="#feef93"/></linearGradient><linearGradient id="p122" x1="0" y1="0" x2="0" y2="1"><stop offset="0.0000" stop-color="#0f2582"/><stop offset="0.0244" stop-color="#0444a1"/><stop offset="0.1362" stop-color="#02509a"/><stop offset="0.1585" stop-color="#025399"/><stop offset="0.1614" stop-color="#006a90"/><stop offset="0.1645" stop-color="#007888"/><stop offset="0.1677" stop-color="#008a88"/><stop offset="0.1723" stop-color="#009a88"/><stop offset="0.1768" stop-color="#00a585"/><stop offset="0.1921" stop-color="#00b47a"/><stop offset="0.2073" stop-color="#00c864"/><stop offset="0.2195" stop-color="#30cc5a"/><stop offset="0.2317" stop-color="#60d050"/><stop offset="0.2561" stop-color="#a8dc58"/><stop offset="0.3124" stop-color="#dde47a"/><stop offset="0.3293" stop-color="#e7e781"/><stop offset="0.4085" stop-color="#feef93"/><stop offset="1.0000" stop-color="#feef93"/></linearGradient><linearGradient id="p123" x1="0" y1="0" x2="0" y2="1"><stop offset="0.0000" stop-color="#23197d"/><stop offset="0.0244" stop-color="#0538a8"/><stop offset="0.1707" stop-color="#0346a0"/><stop offset="0.1720" stop-color="#02509a"/><stop offset="0.1751" stop-color="#006a90"/><stop offset="0.1783" stop-color="#007888"/><stop offset="0.1814" stop-color="#008a88"/><stop offset="0.1867" stop-color="#009a88"/><stop offset="0.1921" stop-color="#00a585"/><stop offset="0.2073" stop-color="#00b47a"/><stop offset="0.2226" stop-color="#00c864"/><stop offset="0.2348" stop-color="#30cc5a"/><stop offset="0.2470" stop-color="#60d050"/><stop offset="0.2713" stop-color="#a8dc58"/><stop offset="0.3276" stop-color="#dde47a"/><stop offset="0.3445" stop-color="#e7e781"/><stop offset="0.4238" stop-color="#feef93"/><stop offset="1.0000" stop-color="#feef93"/></linearGradient><linearGradient id="p124" x1="0" y1="0" x2="0" y2="1"><stop offset="0.0000" stop-color="#23197d"/><stop offset="0.0244" stop-color="#0538a8"/><stop offset="0.1585" stop-color="#0346a0"/><stop offset="0.1596" stop-color="#02509a"/><stop offset="0.1623" stop-color="#006a90"/><stop offset="0.1650" stop-color="#007888"/><stop offset="0.1677" stop-color="#008a88"/><stop offset="0.1723" stop-color="#009a88"/><stop offset="0.1768" stop-color="#00a585"/><stop offset="0.1921" stop-color="#00b47a"/><stop offset="0.2073" stop-color="#00c864"/><stop offset="0.2195" stop-color="#30cc5a"/><stop offset="0.2317" stop-color="#60d050"/><stop offset="0.2561" stop-color="#a8dc58"/><stop offset="0.3124" stop-color="#dde47a"/><stop offset="0.3293" stop-color="#e7e781"/><stop offset="0.4085" stop-color="#feef93"/><stop offset="1.0000" stop-color="#feef93"/></linearGradient><linearGradient id="p125" x1="0" y1="0" x2="0" y2="1"><stop offset="0.0000" stop-color="#0f2582"/><stop offset="0.0244" stop-color="#0444a1"/><stop offset="0.1260" stop-color="#02509a"/><stop offset="0.1463" stop-color="#025399"/><stop offset="0.1558" stop-color="#006a90"/><stop offset="0.1663" stop-color="#007888"/><stop offset="0.1768" stop-color="#008a88"/><stop offset="0.1921" stop-color="#009a88"/><stop offset="0.2073" stop-color="#00a585"/><stop offset="0.2226" stop-color="#00b47a"/><stop offset="0.2378" stop-color="#00c864"/><stop offset="0.2500" stop-color="#30cc5a"/><stop offset="0.2622" stop-color="#60d050"/><stop offset="0.2866" stop-color="#a8dc58"/><stop offset="0.3429" stop-color="#dde47a"/><stop offset="0.3598" stop-color="#e7e781"/><stop offset="0.4390" stop-color="#feef93"/><stop offset="1.0000" stop-color="#feef93"/></linearGradient><linearGradient id="p126" x1="0" y1="0" x2="0" y2="1"><stop offset="0.0000" stop-color="#0f2582"/><stop offset="0.0244" stop-color="#0444a1"/><stop offset="0.1463" stop-color="#02509a"/><stop offset="0.1707" stop-color="#025399"/><stop offset="0.1764" stop-color="#006a90"/><stop offset="0.1827" stop-color="#007888"/><stop offset="0.1890" stop-color="#008a88"/><stop offset="0.1982" stop-color="#009a88"/><stop offset="0.2073" stop-color="#00a585"/><stop offset="0.2226" stop-color="#00b47a"/><stop offset="0.2378" stop-color="#00c864"/><stop offset="0.2500" stop-color="#30cc5a"/><stop offset="0.2622" stop-color="#60d050"/><stop offset="0.2866" stop-color="#a8dc58"/><stop offset="0.3429" stop-color="#dde47a"/><stop offset="0.3598" stop-color="#e7e781"/><stop offset="0.4390" stop-color="#feef93"/><stop offset="1.0000" stop-color="#feef93"/></linearGradient><linearGradient id="p127" x1="0" y1="0" x2="0" y2="1"><stop offset="0.0000" stop-color="#0f2582"/><stop offset="0.0244" stop-color="#0444a1"/><stop offset="0.1260" stop-color="#02509a"/><stop offset="0.1463" stop-color="#025399"/><stop offset="0.1534" stop-color="#006a90"/><stop offset="0.1613" stop-color="#007888"/><stop offset="0.1692" stop-color="#008a88"/><stop offset="0.1806" stop-color="#009a88"/><stop offset="0.1921" stop-color="#00a585"/><stop offset="0.2073" stop-color="#00b47a"/><stop offset="0.2226" stop-color="#00c864"/><stop offset="0.2348" stop-color="#30cc5a"/><stop offset="0.2470" stop-color="#60d050"/><stop offset="0.2713" stop-color="#a8dc58"/><stop offset="0.3276" stop-color="#dde47a"/><stop offset="0.3445" stop-color="#e7e781"/><stop offset="0.4238" stop-color="#feef93"/><stop offset="1.0000" stop-color="#feef93"/></linearGradient><linearGradient id="p128" x1="0" y1="0" x2="0" y2="1"><stop offset="0.0000" stop-color="#03317f"/><stop offset="0.0244" stop-color="#02509a"/><stop offset="0.1463" stop-color="#016094"/><stop offset="0.1502" stop-color="#006a90"/><stop offset="0.1597" stop-color="#007888"/><stop offset="0.1692" stop-color="#008a88"/><stop offset="0.1806" stop-color="#009a88"/><stop offset="0.1921" stop-color="#00a585"/><stop offset="0.2073" stop-color="#00b47a"/><stop offset="0.2226" stop-color="#00c864"/><stop offset="0.2348" stop-color="#30cc5a"/><stop offset="0.2470" stop-color="#60d050"/><stop offset="0.2713" stop-color="#a8dc58"/><stop offset="0.3276" stop-color="#dde47a"/><stop offset="0.3445" stop-color="#e7e781"/><stop offset="0.4238" stop-color="#feef93"/><stop offset="1.0000" stop-color="#feef93"/></linearGradient><linearGradient id="p129" x1="0" y1="0" x2="0" y2="1"><stop offset="0.0000" stop-color="#03317f"/><stop offset="0.0244" stop-color="#02509a"/><stop offset="0.1463" stop-color="#016094"/><stop offset="0.1514" stop-color="#006a90"/><stop offset="0.1641" stop-color="#007888"/><stop offset="0.1768" stop-color="#008a88"/><stop offset="0.1921" stop-color="#009a88"/><stop offset="0.2073" stop-color="#00a585"/><stop offset="0.2226" stop-color="#00b47a"/><stop offset="0.2378" stop-color="#00c864"/><stop offset="0.2500" stop-color="#30cc5a"/><stop offset="0.2622" stop-color="#60d050"/><stop offset="0.2866" stop-color="#a8dc58"/><stop offset="0.3429" stop-color="#dde47a"/><stop offset="0.3598" stop-color="#e7e781"/><stop offset="0.4390" stop-color="#feef93"/><stop offset="1.0000" stop-color="#feef93"/></linearGradient><linearGradient id="p130" x1="0" y1="0" x2="0" y2="1"><stop offset="0.0000" stop-color="#03317f"/><stop offset="0.0244" stop-color="#02509a"/><stop offset="0.1220" stop-color="#016094"/><stop offset="0.1278" stop-color="#006a90"/><stop offset="0.1424" stop-color="#007888"/><stop offset="0.1570" stop-color="#008a88"/><stop offset="0.1745" stop-color="#009a88"/><stop offset="0.1921" stop-color="#00a585"/><stop offset="0.2073" stop-color="#00b47a"/><stop offset="0.2226" stop-color="#00c864"/><stop offset="0.2348" stop-color="#30cc5a"/><stop offset="0.2470" stop-color="#60d050"/><stop offset="0.2713" stop-color="#a8dc58"/><stop offset="0.3276" stop-color="#dde47a"/><stop offset="0.3445" stop-color="#e7e781"/><stop offset="0.4238" stop-color="#feef93"/><stop offset="1.0000" stop-color="#feef93"/></linearGradient><linearGradient id="p131" x1="0" y1="0" x2="0" y2="1"><stop offset="0.0000" stop-color="#03317f"/><stop offset="0.0244" stop-color="#02509a"/><stop offset="0.1220" stop-color="#016094"/><stop offset="0.1280" stop-color="#006a90"/><stop offset="0.1433" stop-color="#007888"/><stop offset="0.1585" stop-color="#008a88"/><stop offset="0.1829" stop-color="#009a88"/><stop offset="0.2073" stop-color="#00a585"/><stop offset="0.2226" stop-color="#00b47a"/><stop offset="0.2378" stop-color="#00c864"/><stop offset="0.2500" stop-color="#30cc5a"/><stop offset="0.2622" stop-color="#60d050"/><stop offset="0.2866" stop-color="#a8dc58"/><stop offset="0.3429" stop-color="#dde47a"/><stop offset="0.3598" stop-color="#e7e781"/><stop offset="0.4390" stop-color="#feef93"/><stop offset="1.0000" stop-color="#feef93"/></linearGradient><linearGradient id="p132" x1="0" y1="0" x2="0" y2="1"><stop offset="0.0000" stop-color="#023a7a"/><stop offset="0.0244" stop-color="#015d95"/><stop offset="0.1057" stop-color="#006a90"/><stop offset="0.1220" stop-color="#006b8f"/><stop offset="0.1386" stop-color="#007888"/><stop offset="0.1570" stop-color="#008a88"/><stop offset="0.1745" stop-color="#009a88"/><stop offset="0.1921" stop-color="#00a585"/><stop offset="0.2073" stop-color="#00b47a"/><stop offset="0.2226" stop-color="#00c864"/><stop offset="0.2348" stop-color="#30cc5a"/><stop offset="0.2470" stop-color="#60d050"/><stop offset="0.2713" stop-color="#a8dc58"/><stop offset="0.3276" stop-color="#dde47a"/><stop offset="0.3445" stop-color="#e7e781"/><stop offset="0.4238" stop-color="#feef93"/><stop offset="1.0000" stop-color="#feef93"/></linearGradient><linearGradient id="p133" x1="0" y1="0" x2="0" y2="1"><stop offset="0.0000" stop-color="#023a7a"/><stop offset="0.0244" stop-color="#015d95"/><stop offset="0.0854" stop-color="#006a90"/><stop offset="0.0976" stop-color="#006b8f"/><stop offset="0.1149" stop-color="#007888"/><stop offset="0.1341" stop-color="#008a88"/><stop offset="0.1707" stop-color="#009a88"/><stop offset="0.2073" stop-color="#00a585"/><stop offset="0.2226" stop-color="#00b47a"/><stop offset="0.2378" stop-color="#00c864"/><stop offset="0.2500" stop-color="#30cc5a"/><stop offset="0.2622" stop-color="#60d050"/><stop offset="0.2866" stop-color="#a8dc58"/><stop offset="0.3429" stop-color="#dde47a"/><stop offset="0.3598" stop-color="#e7e781"/><stop offset="0.4390" stop-color="#feef93"/><stop offset="1.0000" stop-color="#feef93"/></linearGradient><linearGradient id="p134" x1="0" y1="0" x2="0" y2="1"><stop offset="0.0000" stop-color="#004475"/><stop offset="0.0244" stop-color="#006a90"/><stop offset="0.0732" stop-color="#00728b"/><stop offset="0.0836" stop-color="#007888"/><stop offset="0.1098" stop-color="#008a88"/><stop offset="0.1662" stop-color="#009a88"/><stop offset="0.2226" stop-color="#00a585"/><stop offset="0.2378" stop-color="#00b47a"/><stop offset="0.2530" stop-color="#00c864"/><stop offset="0.2652" stop-color="#30cc5a"/><stop offset="0.2774" stop-color="#60d050"/><stop offset="0.3018" stop-color="#a8dc58"/><stop offset="0.3581" stop-color="#dde47a"/><stop offset="0.3750" stop-color="#e7e781"/><stop offset="0.4543" stop-color="#feef93"/><stop offset="1.0000" stop-color="#feef93"/></linearGradient><linearGradient id="p135" x1="0" y1="0" x2="0" y2="1"><stop offset="0.0000" stop-color="#004475"/><stop offset="0.0244" stop-color="#006a90"/><stop offset="0.0732" stop-color="#00728b"/><stop offset="0.0836" stop-color="#007888"/><stop offset="0.1098" stop-color="#008a88"/><stop offset="0.1585" stop-color="#009a88"/><stop offset="0.2073" stop-color="#00a585"/><stop offset="0.2226" stop-color="#00b47a"/><stop offset="0.2378" stop-color="#00c864"/><stop offset="0.2500" stop-color="#30cc5a"/><stop offset="0.2622" stop-color="#60d050"/><stop offset="0.2866" stop-color="#a8dc58"/><stop offset="0.3429" stop-color="#dde47a"/><stop offset="0.3598" stop-color="#e7e781"/><stop offset="0.4390" stop-color="#feef93"/><stop offset="1.0000" stop-color="#feef93"/></linearGradient><linearGradient id="p136" x1="0" y1="0" x2="0" y2="1"><stop offset="0.0000" stop-color="#23197d"/><stop offset="0.0244" stop-color="#0538a8"/><stop offset="0.0976" stop-color="#0346a0"/><stop offset="0.1019" stop-color="#02509a"/><stop offset="0.1126" stop-color="#006a90"/><stop offset="0.1234" stop-color="#007888"/><stop offset="0.1341" stop-color="#008a88"/><stop offset="0.1707" stop-color="#009a88"/><stop offset="0.2073" stop-color="#00a585"/><stop offset="0.2226" stop-color="#00b47a"/><stop offset="0.2378" stop-color="#00c864"/><stop offset="0.2500" stop-color="#30cc5a"/><stop offset="0.2622" stop-color="#60d050"/><stop offset="0.2866" stop-color="#a8dc58"/><stop offset="0.3429" stop-color="#dde47a"/><stop offset="0.3598" stop-color="#e7e781"/><stop offset="0.4390" stop-color="#feef93"/><stop offset="1.0000" stop-color="#feef93"/></linearGradient><linearGradient id="p137" x1="0" y1="0" x2="0" y2="1"><stop offset="0.0000" stop-color="#0f2582"/><stop offset="0.0244" stop-color="#0444a1"/><stop offset="0.0447" stop-color="#02509a"/><stop offset="0.0488" stop-color="#025399"/><stop offset="0.0601" stop-color="#006a90"/><stop offset="0.0728" stop-color="#007888"/><stop offset="0.0854" stop-color="#008a88"/><stop offset="0.1540" stop-color="#009a88"/><stop offset="0.2226" stop-color="#00a585"/><stop offset="0.2378" stop-color="#00b47a"/><stop offset="0.2530" stop-color="#00c864"/><stop offset="0.2652" stop-color="#30cc5a"/><stop offset="0.2774" stop-color="#60d050"/><stop offset="0.3018" stop-color="#a8dc58"/><stop offset="0.3581" stop-color="#dde47a"/><stop offset="0.3750" stop-color="#e7e781"/><stop offset="0.4543" stop-color="#feef93"/><stop offset="1.0000" stop-color="#feef93"/></linearGradient><linearGradient id="p138" x1="0" y1="0" x2="0" y2="1"><stop offset="0.0000" stop-color="#00616a"/><stop offset="0.0244" stop-color="#008a88"/><stop offset="0.0259" stop-color="#009488"/><stop offset="0.0610" stop-color="#009488"/><stop offset="0.1071" stop-color="#009a88"/><stop offset="0.2226" stop-color="#00a585"/><stop offset="0.2378" stop-color="#00b47a"/><stop offset="0.2530" stop-color="#00c864"/><stop offset="0.2652" stop-color="#30cc5a"/><stop offset="0.2774" stop-color="#60d050"/><stop offset="0.3018" stop-color="#a8dc58"/><stop offset="0.3581" stop-color="#dde47a"/><stop offset="0.3750" stop-color="#e7e781"/><stop offset="0.4543" stop-color="#feef93"/><stop offset="1.0000" stop-color="#feef93"/></linearGradient><linearGradient id="p139" x1="0" y1="0" x2="0" y2="1"><stop offset="0.0000" stop-color="#005b6b"/><stop offset="0.0244" stop-color="#008188"/><stop offset="0.0447" stop-color="#008a88"/><stop offset="0.0488" stop-color="#008c88"/><stop offset="0.0854" stop-color="#008c88"/><stop offset="0.1504" stop-color="#009a88"/><stop offset="0.2226" stop-color="#00a585"/><stop offset="0.2378" stop-color="#00b47a"/><stop offset="0.2530" stop-color="#00c864"/><stop offset="0.2652" stop-color="#30cc5a"/><stop offset="0.2774" stop-color="#60d050"/><stop offset="0.3018" stop-color="#a8dc58"/><stop offset="0.3581" stop-color="#dde47a"/><stop offset="0.3750" stop-color="#e7e781"/><stop offset="0.4543" stop-color="#feef93"/><stop offset="1.0000" stop-color="#feef93"/></linearGradient><linearGradient id="p140" x1="0" y1="0" x2="0" y2="1"><stop offset="0.0000" stop-color="#00556e"/><stop offset="0.0244" stop-color="#007888"/><stop offset="0.0488" stop-color="#008388"/><stop offset="0.0854" stop-color="#008a88"/><stop offset="0.1692" stop-color="#009a88"/><stop offset="0.2530" stop-color="#00a585"/><stop offset="0.2683" stop-color="#00b47a"/><stop offset="0.2835" stop-color="#00c864"/><stop offset="0.2957" stop-color="#30cc5a"/><stop offset="0.3079" stop-color="#60d050"/><stop offset="0.3323" stop-color="#a8dc58"/><stop offset="0.3886" stop-color="#dde47a"/><stop offset="0.4055" stop-color="#e7e781"/><stop offset="0.4848" stop-color="#feef93"/><stop offset="1.0000" stop-color="#feef93"/></linearGradient><linearGradient id="p141" x1="0" y1="0" x2="0" y2="1"><stop offset="0.0000" stop-color="#00556e"/><stop offset="0.0244" stop-color="#007888"/><stop offset="0.0259" stop-color="#008388"/><stop offset="0.0610" stop-color="#008a88"/><stop offset="0.1494" stop-color="#009a88"/><stop offset="0.2378" stop-color="#00a585"/><stop offset="0.2530" stop-color="#00b47a"/><stop offset="0.2683" stop-color="#00c864"/><stop offset="0.2805" stop-color="#30cc5a"/><stop offset="0.2927" stop-color="#60d050"/><stop offset="0.3171" stop-color="#a8dc58"/><stop offset="0.3734" stop-color="#dde47a"/><stop offset="0.3902" stop-color="#e7e781"/><stop offset="0.4695" stop-color="#feef93"/><stop offset="1.0000" stop-color="#feef93"/></linearGradient><linearGradient id="p142" x1="0" y1="0" x2="0" y2="1"><stop offset="0.0000" stop-color="#023a7a"/><stop offset="0.0244" stop-color="#015d95"/><stop offset="0.0650" stop-color="#006a90"/><stop offset="0.0732" stop-color="#006b8f"/><stop offset="0.0905" stop-color="#007888"/><stop offset="0.1098" stop-color="#008a88"/><stop offset="0.1814" stop-color="#009a88"/><stop offset="0.2530" stop-color="#00a585"/><stop offset="0.2683" stop-color="#00b47a"/><stop offset="0.2835" stop-color="#00c864"/><stop offset="0.2957" stop-color="#30cc5a"/><stop offset="0.3079" stop-color="#60d050"/><stop offset="0.3323" stop-color="#a8dc58"/><stop offset="0.3886" stop-color="#dde47a"/><stop offset="0.4055" stop-color="#e7e781"/><stop offset="0.4848" stop-color="#feef93"/><stop offset="1.0000" stop-color="#feef93"/></linearGradient><linearGradient id="p143" x1="0" y1="0" x2="0" y2="1"><stop offset="0.0000" stop-color="#023a7a"/><stop offset="0.0244" stop-color="#015d95"/><stop offset="0.0650" stop-color="#006a90"/><stop offset="0.0732" stop-color="#006b8f"/><stop offset="0.0905" stop-color="#007888"/><stop offset="0.1098" stop-color="#008a88"/><stop offset="0.1890" stop-color="#009a88"/><stop offset="0.2683" stop-color="#00a585"/><stop offset="0.2835" stop-color="#00b47a"/><stop offset="0.2988" stop-color="#00c864"/><stop offset="0.3110" stop-color="#30cc5a"/><stop offset="0.3232" stop-color="#60d050"/><stop offset="0.3476" stop-color="#a8dc58"/><stop offset="0.4038" stop-color="#dde47a"/><stop offset="0.4207" stop-color="#e7e781"/><stop offset="0.5000" stop-color="#feef93"/><stop offset="1.0000" stop-color="#feef93"/></linearGradient><linearGradient id="p144" x1="0" y1="0" x2="0" y2="1"><stop offset="0.0000" stop-color="#004475"/><stop offset="0.0244" stop-color="#006a90"/><stop offset="0.0488" stop-color="#00728b"/><stop offset="0.0592" stop-color="#007888"/><stop offset="0.0854" stop-color="#008a88"/><stop offset="0.1768" stop-color="#009a88"/><stop offset="0.2683" stop-color="#00a585"/><stop offset="0.2835" stop-color="#00b47a"/><stop offset="0.2988" stop-color="#00c864"/><stop offset="0.3110" stop-color="#30cc5a"/><stop offset="0.3232" stop-color="#60d050"/><stop offset="0.3476" stop-color="#a8dc58"/><stop offset="0.4038" stop-color="#dde47a"/><stop offset="0.4207" stop-color="#e7e781"/><stop offset="0.5000" stop-color="#feef93"/><stop offset="1.0000" stop-color="#feef93"/></linearGradient><linearGradient id="p145" x1="0" y1="0" x2="0" y2="1"><stop offset="0.0000" stop-color="#00556e"/><stop offset="0.0244" stop-color="#007888"/><stop offset="0.0488" stop-color="#008388"/><stop offset="0.0854" stop-color="#008a88"/><stop offset="0.1616" stop-color="#009a88"/><stop offset="0.2378" stop-color="#00a585"/><stop offset="0.2530" stop-color="#00b47a"/><stop offset="0.2683" stop-color="#00c864"/><stop offset="0.2805" stop-color="#30cc5a"/><stop offset="0.2927" stop-color="#60d050"/><stop offset="0.3171" stop-color="#a8dc58"/><stop offset="0.3734" stop-color="#dde47a"/><stop offset="0.3902" stop-color="#e7e781"/><stop offset="0.4695" stop-color="#feef93"/><stop offset="1.0000" stop-color="#feef93"/></linearGradient><linearGradient id="p146" x1="0" y1="0" x2="0" y2="1"><stop offset="0.0000" stop-color="#00556e"/><stop offset="0.0244" stop-color="#007888"/><stop offset="0.0488" stop-color="#008388"/><stop offset="0.0854" stop-color="#008a88"/><stop offset="0.1540" stop-color="#009a88"/><stop offset="0.2226" stop-color="#00a585"/><stop offset="0.2378" stop-color="#00b47a"/><stop offset="0.2530" stop-color="#00c864"/><stop offset="0.2652" stop-color="#30cc5a"/><stop offset="0.2774" stop-color="#60d050"/><stop offset="0.3018" stop-color="#a8dc58"/><stop offset="0.3581" stop-color="#dde47a"/><stop offset="0.3750" stop-color="#e7e781"/><stop offset="0.4543" stop-color="#feef93"/><stop offset="1.0000" stop-color="#feef93"/></linearGradient><linearGradient id="p147" x1="0" y1="0" x2="0" y2="1"><stop offset="0.0000" stop-color="#00556e"/><stop offset="0.0244" stop-color="#007888"/><stop offset="0.0488" stop-color="#008388"/><stop offset="0.0854" stop-color="#008a88"/><stop offset="0.1463" stop-color="#009a88"/><stop offset="0.2073" stop-color="#00a585"/><stop offset="0.2226" stop-color="#00b47a"/><stop offset="0.2378" stop-color="#00c864"/><stop offset="0.2500" stop-color="#30cc5a"/><stop offset="0.2622" stop-color="#60d050"/><stop offset="0.2866" stop-color="#a8dc58"/><stop offset="0.3429" stop-color="#dde47a"/><stop offset="0.3598" stop-color="#e7e781"/><stop offset="0.4390" stop-color="#feef93"/><stop offset="1.0000" stop-color="#feef93"/></linearGradient><linearGradient id="p148" x1="0" y1="0" x2="0" y2="1"><stop offset="0.0000" stop-color="#005b6b"/><stop offset="0.0244" stop-color="#008188"/><stop offset="0.0257" stop-color="#008a88"/><stop offset="0.0259" stop-color="#008c88"/><stop offset="0.0610" stop-color="#008c88"/><stop offset="0.1447" stop-color="#009a88"/><stop offset="0.2378" stop-color="#00a585"/><stop offset="0.2530" stop-color="#00b47a"/><stop offset="0.2683" stop-color="#00c864"/><stop offset="0.2805" stop-color="#30cc5a"/><stop offset="0.2927" stop-color="#60d050"/><stop offset="0.3171" stop-color="#a8dc58"/><stop offset="0.3734" stop-color="#dde47a"/><stop offset="0.3902" stop-color="#e7e781"/><stop offset="0.4695" stop-color="#feef93"/><stop offset="1.0000" stop-color="#feef93"/></linearGradient><linearGradient id="p149" x1="0" y1="0" x2="0" y2="1"><stop offset="0.0000" stop-color="#004e71"/><stop offset="0.0244" stop-color="#00718c"/><stop offset="0.0650" stop-color="#007888"/><stop offset="0.0732" stop-color="#007a88"/><stop offset="0.1098" stop-color="#008a88"/><stop offset="0.1738" stop-color="#009a88"/><stop offset="0.2378" stop-color="#00a585"/><stop offset="0.2530" stop-color="#00b47a"/><stop offset="0.2683" stop-color="#00c864"/><stop offset="0.2805" stop-color="#30cc5a"/><stop offset="0.2927" stop-color="#60d050"/><stop offset="0.3171" stop-color="#a8dc58"/><stop offset="0.3734" stop-color="#dde47a"/><stop offset="0.3902" stop-color="#e7e781"/><stop offset="0.4695" stop-color="#feef93"/><stop offset="1.0000" stop-color="#feef93"/></linearGradient><linearGradient id="p150" x1="0" y1="0" x2="0" y2="1"><stop offset="0.0000" stop-color="#004e71"/><stop offset="0.0244" stop-color="#00718c"/><stop offset="0.0650" stop-color="#007888"/><stop offset="0.0732" stop-color="#007a88"/><stop offset="0.1098" stop-color="#008a88"/><stop offset="0.1585" stop-color="#009a88"/><stop offset="0.2073" stop-color="#00a585"/><stop offset="0.2226" stop-color="#00b47a"/><stop offset="0.2378" stop-color="#00c864"/><stop offset="0.2500" stop-color="#30cc5a"/><stop offset="0.2622" stop-color="#60d050"/><stop offset="0.2866" stop-color="#a8dc58"/><stop offset="0.3429" stop-color="#dde47a"/><stop offset="0.3598" stop-color="#e7e781"/><stop offset="0.4390" stop-color="#feef93"/><stop offset="1.0000" stop-color="#feef93"/></linearGradient><linearGradient id="p151" x1="0" y1="0" x2="0" y2="1"><stop offset="0.0000" stop-color="#004475"/><stop offset="0.0244" stop-color="#006a90"/><stop offset="0.0488" stop-color="#00728b"/><stop offset="0.0592" stop-color="#007888"/><stop offset="0.0854" stop-color="#008a88"/><stop offset="0.1540" stop-color="#009a88"/><stop offset="0.2226" stop-color="#00a585"/><stop offset="0.2378" stop-color="#00b47a"/><stop offset="0.2530" stop-color="#00c864"/><stop offset="0.2652" stop-color="#30cc5a"/><stop offset="0.2774" stop-color="#60d050"/><stop offset="0.3018" stop-color="#a8dc58"/><stop offset="0.3581" stop-color="#dde47a"/><stop offset="0.3750" stop-color="#e7e781"/><stop offset="0.4543" stop-color="#feef93"/><stop offset="1.0000" stop-color="#feef93"/></linearGradient><linearGradient id="p152" x1="0" y1="0" x2="0" y2="1"><stop offset="0.0000" stop-color="#023a7a"/><stop offset="0.0244" stop-color="#015d95"/><stop offset="0.0854" stop-color="#006a90"/><stop offset="0.0976" stop-color="#006b8f"/><stop offset="0.1149" stop-color="#007888"/><stop offset="0.1341" stop-color="#008a88"/><stop offset="0.1631" stop-color="#009a88"/><stop offset="0.1921" stop-color="#00a585"/><stop offset="0.2073" stop-color="#00b47a"/><stop offset="0.2226" stop-color="#00c864"/><stop offset="0.2348" stop-color="#30cc5a"/><stop offset="0.2470" stop-color="#60d050"/><stop offset="0.2713" stop-color="#a8dc58"/><stop offset="0.3276" stop-color="#dde47a"/><stop offset="0.3445" stop-color="#e7e781"/><stop offset="0.4238" stop-color="#feef93"/><stop offset="1.0000" stop-color="#feef93"/></linearGradient><linearGradient id="p153" x1="0" y1="0" x2="0" y2="1"><stop offset="0.0000" stop-color="#023a7a"/><stop offset="0.0244" stop-color="#015d95"/><stop offset="0.1057" stop-color="#006a90"/><stop offset="0.1220" stop-color="#006b8f"/><stop offset="0.1393" stop-color="#007888"/><stop offset="0.1585" stop-color="#008a88"/><stop offset="0.1829" stop-color="#009a88"/><stop offset="0.2073" stop-color="#00a585"/><stop offset="0.2226" stop-color="#00b47a"/><stop offset="0.2378" stop-color="#00c864"/><stop offset="0.2500" stop-color="#30cc5a"/><stop offset="0.2622" stop-color="#60d050"/><stop offset="0.2866" stop-color="#a8dc58"/><stop offset="0.3429" stop-color="#dde47a"/><stop offset="0.3598" stop-color="#e7e781"/><stop offset="0.4390" stop-color="#feef93"/><stop offset="1.0000" stop-color="#feef93"/></linearGradient><linearGradient id="p154" x1="0" y1="0" x2="0" y2="1"><stop offset="0.0000" stop-color="#0f2582"/><stop offset="0.0244" stop-color="#0444a1"/><stop offset="0.1260" stop-color="#02509a"/><stop offset="0.1463" stop-color="#025399"/><stop offset="0.1511" stop-color="#006a90"/><stop offset="0.1563" stop-color="#007888"/><stop offset="0.1616" stop-color="#008a88"/><stop offset="0.1692" stop-color="#009a88"/><stop offset="0.1768" stop-color="#00a585"/><stop offset="0.1921" stop-color="#00b47a"/><stop offset="0.2073" stop-color="#00c864"/><stop offset="0.2195" stop-color="#30cc5a"/><stop offset="0.2317" stop-color="#60d050"/><stop offset="0.2561" stop-color="#a8dc58"/><stop offset="0.3124" stop-color="#dde47a"/><stop offset="0.3293" stop-color="#e7e781"/><stop offset="0.4085" stop-color="#feef93"/><stop offset="1.0000" stop-color="#feef93"/></linearGradient><linearGradient id="p155" x1="0" y1="0" x2="0" y2="1"><stop offset="0.0000" stop-color="#005b6b"/><stop offset="0.0244" stop-color="#008188"/><stop offset="0.0447" stop-color="#008a88"/><stop offset="0.0488" stop-color="#008c88"/><stop offset="0.0854" stop-color="#008c88"/><stop offset="0.1359" stop-color="#009a88"/><stop offset="0.1921" stop-color="#00a585"/><stop offset="0.2073" stop-color="#00b47a"/><stop offset="0.2226" stop-color="#00c864"/><stop offset="0.2348" stop-color="#30cc5a"/><stop offset="0.2470" stop-color="#60d050"/><stop offset="0.2713" stop-color="#a8dc58"/><stop offset="0.3276" stop-color="#dde47a"/><stop offset="0.3445" stop-color="#e7e781"/><stop offset="0.4238" stop-color="#feef93"/><stop offset="1.0000" stop-color="#feef93"/></linearGradient><linearGradient id="p156" x1="0" y1="0" x2="0" y2="1"><stop offset="0.0000" stop-color="#00616a"/><stop offset="0.0244" stop-color="#008a88"/><stop offset="0.0259" stop-color="#009488"/><stop offset="0.0610" stop-color="#009488"/><stop offset="0.0984" stop-color="#009a88"/><stop offset="0.1921" stop-color="#00a585"/><stop offset="0.2073" stop-color="#00b47a"/><stop offset="0.2226" stop-color="#00c864"/><stop offset="0.2348" stop-color="#30cc5a"/><stop offset="0.2470" stop-color="#60d050"/><stop offset="0.2713" stop-color="#a8dc58"/><stop offset="0.3276" stop-color="#dde47a"/><stop offset="0.3445" stop-color="#e7e781"/><stop offset="0.4238" stop-color="#feef93"/><stop offset="1.0000" stop-color="#feef93"/></linearGradient><linearGradient id="p157" x1="0" y1="0" x2="0" y2="1"><stop offset="0.0000" stop-color="#005b6b"/><stop offset="0.0244" stop-color="#008188"/><stop offset="0.0447" stop-color="#008a88"/><stop offset="0.0488" stop-color="#008c88"/><stop offset="0.0854" stop-color="#008c88"/><stop offset="0.1431" stop-color="#009a88"/><stop offset="0.2073" stop-color="#00a585"/><stop offset="0.2226" stop-color="#00b47a"/><stop offset="0.2378" stop-color="#00c864"/><stop offset="0.2500" stop-color="#30cc5a"/><stop offset="0.2622" stop-color="#60d050"/><stop offset="0.2866" stop-color="#a8dc58"/><stop offset="0.3429" stop-color="#dde47a"/><stop offset="0.3598" stop-color="#e7e781"/><stop offset="0.4390" stop-color="#feef93"/><stop offset="1.0000" stop-color="#feef93"/></linearGradient><linearGradient id="p158" x1="0" y1="0" x2="0" y2="1"><stop offset="0.0000" stop-color="#00616a"/><stop offset="0.0244" stop-color="#008a88"/><stop offset="0.0488" stop-color="#009488"/><stop offset="0.0854" stop-color="#009488"/><stop offset="0.1202" stop-color="#009a88"/><stop offset="0.2073" stop-color="#00a585"/><stop offset="0.2226" stop-color="#00b47a"/><stop offset="0.2378" stop-color="#00c864"/><stop offset="0.2500" stop-color="#30cc5a"/><stop offset="0.2622" stop-color="#60d050"/><stop offset="0.2866" stop-color="#a8dc58"/><stop offset="0.3429" stop-color="#dde47a"/><stop offset="0.3598" stop-color="#e7e781"/><stop offset="0.4390" stop-color="#feef93"/><stop offset="1.0000" stop-color="#feef93"/></linearGradient><linearGradient id="p159" x1="0" y1="0" x2="0" y2="1"><stop offset="0.0000" stop-color="#00686a"/><stop offset="0.0244" stop-color="#009288"/><stop offset="0.0447" stop-color="#009a88"/><stop offset="0.0488" stop-color="#009b88"/><stop offset="0.0854" stop-color="#009b88"/><stop offset="0.2378" stop-color="#00a585"/><stop offset="0.2530" stop-color="#00b47a"/><stop offset="0.2683" stop-color="#00c864"/><stop offset="0.2805" stop-color="#30cc5a"/><stop offset="0.2927" stop-color="#60d050"/><stop offset="0.3171" stop-color="#a8dc58"/><stop offset="0.3734" stop-color="#dde47a"/><stop offset="0.3902" stop-color="#e7e781"/><stop offset="0.4695" stop-color="#feef93"/><stop offset="1.0000" stop-color="#feef93"/></linearGradient><linearGradient id="p160" x1="0" y1="0" x2="0" y2="1"><stop offset="0.0000" stop-color="#00616a"/><stop offset="0.0244" stop-color="#008a88"/><stop offset="0.0488" stop-color="#009488"/><stop offset="0.0854" stop-color="#009488"/><stop offset="0.1289" stop-color="#009a88"/><stop offset="0.2378" stop-color="#00a585"/><stop offset="0.2530" stop-color="#00b47a"/><stop offset="0.2683" stop-color="#00c864"/><stop offset="0.2805" stop-color="#30cc5a"/><stop offset="0.2927" stop-color="#60d050"/><stop offset="0.3171" stop-color="#a8dc58"/><stop offset="0.3734" stop-color="#dde47a"/><stop offset="0.3902" stop-color="#e7e781"/><stop offset="0.4695" stop-color="#feef93"/><stop offset="1.0000" stop-color="#feef93"/></linearGradient><linearGradient id="p161" x1="0" y1="0" x2="0" y2="1"><stop offset="0.0000" stop-color="#005b6b"/><stop offset="0.0244" stop-color="#008188"/><stop offset="0.0447" stop-color="#008a88"/><stop offset="0.0488" stop-color="#008c88"/><stop offset="0.0854" stop-color="#008c88"/><stop offset="0.1576" stop-color="#009a88"/><stop offset="0.2378" stop-color="#00a585"/><stop offset="0.2530" stop-color="#00b47a"/><stop offset="0.2683" stop-color="#00c864"/><stop offset="0.2805" stop-color="#30cc5a"/><stop offset="0.2927" stop-color="#60d050"/><stop offset="0.3171" stop-color="#a8dc58"/><stop offset="0.3734" stop-color="#dde47a"/><stop offset="0.3902" stop-color="#e7e781"/><stop offset="0.4695" stop-color="#feef93"/><stop offset="1.0000" stop-color="#feef93"/></linearGradient><linearGradient id="p162" x1="0" y1="0" x2="0" y2="1"><stop offset="0.0000" stop-color="#0f2582"/><stop offset="0.0244" stop-color="#0444a1"/><stop offset="0.0447" stop-color="#02509a"/><stop offset="0.0488" stop-color="#025399"/><stop offset="0.0601" stop-color="#006a90"/><stop offset="0.0728" stop-color="#007888"/><stop offset="0.0854" stop-color="#008a88"/><stop offset="0.1616" stop-color="#009a88"/><stop offset="0.2378" stop-color="#00a585"/><stop offset="0.2530" stop-color="#00b47a"/><stop offset="0.2683" stop-color="#00c864"/><stop offset="0.2805" stop-color="#30cc5a"/><stop offset="0.2927" stop-color="#60d050"/><stop offset="0.3171" stop-color="#a8dc58"/><stop offset="0.3734" stop-color="#dde47a"/><stop offset="0.3902" stop-color="#e7e781"/><stop offset="0.4695" stop-color="#feef93"/><stop offset="1.0000" stop-color="#feef93"/></linearGradient><linearGradient id="p163" x1="0" y1="0" x2="0" y2="1"><stop offset="0.0000" stop-color="#23197d"/><stop offset="0.0244" stop-color="#0538a8"/><stop offset="0.1707" stop-color="#0346a0"/><stop offset="0.1747" stop-color="#02509a"/><stop offset="0.1845" stop-color="#006a90"/><stop offset="0.1944" stop-color="#007888"/><stop offset="0.2043" stop-color="#008a88"/><stop offset="0.2210" stop-color="#009a88"/><stop offset="0.2378" stop-color="#00a585"/><stop offset="0.2530" stop-color="#00b47a"/><stop offset="0.2683" stop-color="#00c864"/><stop offset="0.2805" stop-color="#30cc5a"/><stop offset="0.2927" stop-color="#60d050"/><stop offset="0.3171" stop-color="#a8dc58"/><stop offset="0.3734" stop-color="#dde47a"/><stop offset="0.3902" stop-color="#e7e781"/><stop offset="0.4695" stop-color="#feef93"/><stop offset="1.0000" stop-color="#feef93"/></linearGradient><linearGradient id="p164" x1="0" y1="0" x2="0" y2="1"><stop offset="0.0000" stop-color="#23197d"/><stop offset="0.0244" stop-color="#0538a8"/><stop offset="0.1707" stop-color="#0346a0"/><stop offset="0.1750" stop-color="#02509a"/><stop offset="0.1858" stop-color="#006a90"/><stop offset="0.1966" stop-color="#007888"/><stop offset="0.2073" stop-color="#008a88"/><stop offset="0.2302" stop-color="#009a88"/><stop offset="0.2530" stop-color="#00a585"/><stop offset="0.2683" stop-color="#00b47a"/><stop offset="0.2835" stop-color="#00c864"/><stop offset="0.2957" stop-color="#30cc5a"/><stop offset="0.3079" stop-color="#60d050"/><stop offset="0.3323" stop-color="#a8dc58"/><stop offset="0.3886" stop-color="#dde47a"/><stop offset="0.4055" stop-color="#e7e781"/><stop offset="0.4848" stop-color="#feef93"/><stop offset="1.0000" stop-color="#feef93"/></linearGradient><linearGradient id="p165" x1="0" y1="0" x2="0" y2="1"><stop offset="0.0000" stop-color="#23197d"/><stop offset="0.0244" stop-color="#0538a8"/><stop offset="0.1220" stop-color="#0346a0"/><stop offset="0.1263" stop-color="#02509a"/><stop offset="0.1370" stop-color="#006a90"/><stop offset="0.1478" stop-color="#007888"/><stop offset="0.1585" stop-color="#008a88"/><stop offset="0.2287" stop-color="#009a88"/><stop offset="0.2988" stop-color="#00a585"/><stop offset="0.3140" stop-color="#00b47a"/><stop offset="0.3293" stop-color="#00c864"/><stop offset="0.3415" stop-color="#30cc5a"/><stop offset="0.3537" stop-color="#60d050"/><stop offset="0.3780" stop-color="#a8dc58"/><stop offset="0.4343" stop-color="#dde47a"/><stop offset="0.4512" stop-color="#e7e781"/><stop offset="0.5305" stop-color="#feef93"/><stop offset="1.0000" stop-color="#feef93"/></linearGradient><linearGradient id="p166" x1="0" y1="0" x2="0" y2="1"><stop offset="0.0000" stop-color="#271371"/><stop offset="0.0244" stop-color="#2a25a5"/><stop offset="0.1057" stop-color="#0538a8"/><stop offset="0.1220" stop-color="#053aa7"/><stop offset="0.1304" stop-color="#02509a"/><stop offset="0.1398" stop-color="#006a90"/><stop offset="0.1492" stop-color="#007888"/><stop offset="0.1585" stop-color="#008a88"/><stop offset="0.2363" stop-color="#009a88"/><stop offset="0.3140" stop-color="#00a585"/><stop offset="0.3293" stop-color="#00b47a"/><stop offset="0.3445" stop-color="#00c864"/><stop offset="0.3567" stop-color="#30cc5a"/><stop offset="0.3689" stop-color="#60d050"/><stop offset="0.3933" stop-color="#a8dc58"/><stop offset="0.4496" stop-color="#dde47a"/><stop offset="0.4665" stop-color="#e7e781"/><stop offset="0.5457" stop-color="#feef93"/><stop offset="1.0000" stop-color="#feef93"/></linearGradient><linearGradient id="p167" x1="0" y1="0" x2="0" y2="1"><stop offset="0.0000" stop-color="#23197d"/><stop offset="0.0244" stop-color="#0538a8"/><stop offset="0.1220" stop-color="#0346a0"/><stop offset="0.1263" stop-color="#02509a"/><stop offset="0.1370" stop-color="#006a90"/><stop offset="0.1478" stop-color="#007888"/><stop offset="0.1585" stop-color="#008a88"/><stop offset="0.2363" stop-color="#009a88"/><stop offset="0.3140" stop-color="#00a585"/><stop offset="0.3293" stop-color="#00b47a"/><stop offset="0.3445" stop-color="#00c864"/><stop offset="0.3567" stop-color="#30cc5a"/><stop offset="0.3689" stop-color="#60d050"/><stop offset="0.3933" stop-color="#a8dc58"/><stop offset="0.4496" stop-color="#dde47a"/><stop offset="0.4665" stop-color="#e7e781"/><stop offset="0.5457" stop-color="#feef93"/><stop offset="1.0000" stop-color="#feef93"/></linearGradient><clipPath id="sil"><polygon points="187.5,0 187.5,390 188.5,589 188.7,589 214.9,599 217,606.5 267.3,637 271.6,650 291.3,654.5 324,678.5 328.3,689.4 354.5,709 376.3,717.8 380.7,728.7 398.2,735.2 441.8,750.5 446.1,761.4 463.6,763.6 476,762 483.2,757 484,676 485,674.6 517.6,693 530,696 533,707 547,707 549,686 553,686 555,715 580,740 595,735 609.5,743 615.5,747.7 616,767 620,772 626,773 632,770 635.7,766.8 637,746 637,712 643,712 644,735.8 652.4,743 662,757.2 673.9,764.4 675,780 676,806 680,812 685,814 690,812 694,806 695,743 712,752.5 723.9,754.9 750,749 752,776 764.4,779.9 785.8,769.1 809.6,766.8 821.6,779.9 835.9,776.3 869.2,776.3 885.9,783.4 914.5,800.1 915,845 920,851 929,853 938,851 944,845 945.4,828.7 964.5,814.4 980,797.5 995,790 1002.5,783.8 1025,793.8 1055,812.5 1092.5,840 1130,865 1160,890 1180,890 1217.5,877.5 1235,880 1262.5,867.5 1297.5,850 1310,837.5 1312.5,810 1335,795 1347.5,775 1355,755 1370,747.5 1382.5,725 1385,712 1385,0 1398.6,0 1398.6,704.4 1407.6,711.2 1420,717 1434.7,720.2 1457.2,706.7 1470.7,693.1 1473,680 1473,645.8 1495.5,643.6 1495.5,738 1500,743 1505.7,744 1511,743 1515.8,739.3 1517,663.8 1520.3,663.8 1560.9,654.8 1576.7,663.8 1594.7,659.3 1621.7,636.8 1622.9,598.5 1628.5,598.5 1629.6,697 1635,702 1640.9,702.2 1648,699 1652.2,695.4 1653.3,0"/></clipPath><linearGradient id="cbar" x1="0" y1="0" x2="1" y2="0"><stop offset="0.0000" stop-color="#2c1470"/><stop offset="0.0714" stop-color="#331a9a"/><stop offset="0.1071" stop-color="#2a25a5"/><stop offset="0.1429" stop-color="#0538a8"/><stop offset="0.2143" stop-color="#02509a"/><stop offset="0.2857" stop-color="#006a90"/><stop offset="0.3571" stop-color="#007888"/><stop offset="0.4286" stop-color="#008a88"/><stop offset="0.5000" stop-color="#009a88"/><stop offset="0.5714" stop-color="#00a585"/><stop offset="0.6429" stop-color="#00b47a"/><stop offset="0.7143" stop-color="#00c864"/><stop offset="0.7500" stop-color="#30cc5a"/><stop offset="0.7857" stop-color="#60d050"/><stop offset="0.8571" stop-color="#a8dc58"/><stop offset="0.9286" stop-color="#dde47a"/><stop offset="1.0000" stop-color="#feef93"/></linearGradient></defs>
<rect width="1679" height="1375" fill="#fff"/>
<g><line x1="237.3" y1="353.1" x2="237.3" y2="563.5" stroke="#e0e0e0" stroke-width="1.6"/><line x1="335.7" y1="312" x2="335.7" y2="521.7" stroke="#e0e0e0" stroke-width="1.6"/><line x1="434.8" y1="270.6" x2="434.8" y2="479.6" stroke="#e0e0e0" stroke-width="1.6"/><line x1="533.4" y1="227.7" x2="533.4" y2="437.8" stroke="#e0e0e0" stroke-width="1.6"/><line x1="630.2" y1="185.6" x2="630.2" y2="396.7" stroke="#e0e0e0" stroke-width="1.6"/><line x1="728.8" y1="142.7" x2="728.8" y2="354.9" stroke="#e0e0e0" stroke-width="1.6"/><line x1="827.4" y1="99.8" x2="827.4" y2="313.1" stroke="#e0e0e0" stroke-width="1.6"/><line x1="925" y1="57.3" x2="925" y2="271.6" stroke="#e0e0e0" stroke-width="1.6"/><line x1="1018.4" y1="16.7" x2="1018.4" y2="232" stroke="#e0e0e0" stroke-width="1.6"/><line x1="189.6" y1="583.7" x2="1018.4" y2="232" stroke="#e0e0e0" stroke-width="1.6"/><polyline points="189.6,373 335.7,312 434.8,270.6 1018.4,16.7" fill="none" stroke="#e0e0e0" stroke-width="1.6"/><polyline points="189.6,478.4 628.7,291.6 1018.4,124.8" fill="none" stroke="#e0e0e0" stroke-width="1.6"/><line x1="1017.5" y1="17" x2="1646.3" y2="482" stroke="#e0e0e0" stroke-width="1.6"/><line x1="1017.5" y1="124.8" x2="1646.3" y2="587.9" stroke="#e0e0e0" stroke-width="1.6"/><line x1="1017.5" y1="231.5" x2="1646.3" y2="693.7" stroke="#e0e0e0" stroke-width="1.6"/><line x1="1099" y1="77.3" x2="1099" y2="291.4" stroke="#e0e0e0" stroke-width="1.6"/><line x1="1182" y1="138.6" x2="1182" y2="352.4" stroke="#e0e0e0" stroke-width="1.6"/><line x1="1263.5" y1="198.9" x2="1263.5" y2="412.3" stroke="#e0e0e0" stroke-width="1.6"/><line x1="1345" y1="259.2" x2="1345" y2="472.2" stroke="#e0e0e0" stroke-width="1.6"/><line x1="1426.5" y1="319.5" x2="1426.5" y2="532.1" stroke="#e0e0e0" stroke-width="1.6"/><line x1="1508" y1="379.7" x2="1508" y2="592" stroke="#e0e0e0" stroke-width="1.6"/><line x1="1589" y1="439.6" x2="1589" y2="651.6" stroke="#e0e0e0" stroke-width="1.6"/><line x1="237.3" y1="563.5" x2="866.8" y2="1033.2" stroke="#e0e0e0" stroke-width="1.6"/><line x1="335.7" y1="521.7" x2="964.7" y2="990.5" stroke="#e0e0e0" stroke-width="1.6"/><line x1="434.8" y1="479.6" x2="1062.6" y2="947.9" stroke="#e0e0e0" stroke-width="1.6"/><line x1="533.4" y1="437.8" x2="1160.5" y2="905.2" stroke="#e0e0e0" stroke-width="1.6"/><line x1="630.2" y1="396.7" x2="1258.4" y2="862.6" stroke="#e0e0e0" stroke-width="1.6"/><line x1="728.8" y1="354.9" x2="1356.2" y2="819.9" stroke="#e0e0e0" stroke-width="1.6"/><line x1="827.4" y1="313.1" x2="1454.1" y2="777.2" stroke="#e0e0e0" stroke-width="1.6"/><line x1="925" y1="271.6" x2="1552" y2="734.6" stroke="#e0e0e0" stroke-width="1.6"/><line x1="767.8" y1="1008.4" x2="1589" y2="651.6" stroke="#e0e0e0" stroke-width="1.6"/><line x1="686.4" y1="948" x2="1507.4" y2="591.6" stroke="#e0e0e0" stroke-width="1.6"/><line x1="605" y1="887.6" x2="1425.8" y2="531.6" stroke="#e0e0e0" stroke-width="1.6"/><line x1="523.6" y1="827.2" x2="1344.2" y2="471.6" stroke="#e0e0e0" stroke-width="1.6"/><line x1="442.2" y1="766.8" x2="1262.6" y2="411.7" stroke="#e0e0e0" stroke-width="1.6"/><line x1="360.8" y1="706.4" x2="1181" y2="351.7" stroke="#e0e0e0" stroke-width="1.6"/><line x1="279.4" y1="646" x2="1099.4" y2="291.7" stroke="#e0e0e0" stroke-width="1.6"/></g>
<g><line x1="189.6" y1="583.7" x2="826.6" y2="1050.2" stroke="#3a3a3a" stroke-width="1.6" stroke-linecap="butt"/><line x1="826.6" y1="1050.2" x2="1646.3" y2="693.7" stroke="#3a3a3a" stroke-width="1.6" stroke-linecap="butt"/><line x1="767.8" y1="1008.4" x2="748.4" y2="1017.7" stroke="#3a3a3a" stroke-width="1.6" stroke-linecap="butt"/><line x1="686.4" y1="948" x2="667" y2="957.3" stroke="#3a3a3a" stroke-width="1.6" stroke-linecap="butt"/><line x1="605" y1="887.6" x2="585.6" y2="896.9" stroke="#3a3a3a" stroke-width="1.6" stroke-linecap="butt"/><line x1="523.6" y1="827.2" x2="504.2" y2="836.5" stroke="#3a3a3a" stroke-width="1.6" stroke-linecap="butt"/><line x1="442.2" y1="766.8" x2="422.8" y2="776.1" stroke="#3a3a3a" stroke-width="1.6" stroke-linecap="butt"/><line x1="360.8" y1="706.4" x2="341.4" y2="715.7" stroke="#3a3a3a" stroke-width="1.6" stroke-linecap="butt"/><line x1="279.4" y1="646" x2="260" y2="655.3" stroke="#3a3a3a" stroke-width="1.6" stroke-linecap="butt"/><line x1="198" y1="585.6" x2="178.6" y2="594.9" stroke="#3a3a3a" stroke-width="1.6" stroke-linecap="butt"/><line x1="866.8" y1="1032.7" x2="885.4" y2="1045.8" stroke="#3a3a3a" stroke-width="1.6" stroke-linecap="butt"/><line x1="964.7" y1="990.1" x2="983.3" y2="1003.2" stroke="#3a3a3a" stroke-width="1.6" stroke-linecap="butt"/><line x1="1062.6" y1="947.6" x2="1081.2" y2="960.7" stroke="#3a3a3a" stroke-width="1.6" stroke-linecap="butt"/><line x1="1160.5" y1="905" x2="1179.1" y2="918.1" stroke="#3a3a3a" stroke-width="1.6" stroke-linecap="butt"/><line x1="1258.4" y1="862.4" x2="1277" y2="875.5" stroke="#3a3a3a" stroke-width="1.6" stroke-linecap="butt"/><line x1="1356.2" y1="819.8" x2="1374.8" y2="832.9" stroke="#3a3a3a" stroke-width="1.6" stroke-linecap="butt"/><line x1="1454.1" y1="777.3" x2="1472.7" y2="790.4" stroke="#3a3a3a" stroke-width="1.6" stroke-linecap="butt"/><line x1="1552" y1="734.7" x2="1570.6" y2="747.8" stroke="#3a3a3a" stroke-width="1.6" stroke-linecap="butt"/><line x1="193.6" y1="370.7" x2="180.4" y2="359.5" stroke="#3a3a3a" stroke-width="1.6" stroke-linecap="butt"/><line x1="193.6" y1="476.6" x2="180.4" y2="465.4" stroke="#3a3a3a" stroke-width="1.6" stroke-linecap="butt"/><line x1="193.6" y1="583.4" x2="180.4" y2="572.2" stroke="#3a3a3a" stroke-width="1.6" stroke-linecap="butt"/></g>
<g clip-path="url(#sil)"><polygon points="995.8,402 1001,405 1001,725 995.8,722" fill="url(#p0)"/><polygon points="999.8,405 1005,407.9 1005,727.9 999.8,725" fill="url(#p1)"/><polygon points="1003.8,407.9 1009,410.9 1009,730.9 1003.8,727.9" fill="url(#p1)"/><polygon points="1007.8,410.9 1013,413.8 1013,733.8 1007.8,730.9" fill="url(#p1)"/><polygon points="1011.8,413.8 1017,416.8 1017,736.8 1011.8,733.8" fill="url(#p2)"/><polygon points="1015.8,416.8 1021.1,419.8 1021.1,739.8 1015.8,736.8" fill="url(#p0)"/><polygon points="1019.9,419.8 1025.1,422.7 1025.1,742.7 1019.9,739.8" fill="url(#p0)"/><polygon points="1023.9,422.7 1029.1,425.7 1029.1,745.7 1023.9,742.7" fill="url(#p2)"/><polygon points="1027.9,425.7 1033.1,428.6 1033.1,748.6 1027.9,745.7" fill="url(#p1)"/><polygon points="1031.9,428.6 1037.1,431.6 1037.1,751.6 1031.9,748.6" fill="url(#p1)"/><polygon points="1035.9,431.6 1041.1,434.6 1041.1,754.6 1035.9,751.6" fill="url(#p1)"/><polygon points="1039.9,434.6 1045.1,437.5 1045.1,757.5 1039.9,754.6" fill="url(#p1)"/><polygon points="1043.9,437.5 1049.1,440.5 1049.1,760.5 1043.9,757.5" fill="url(#p1)"/><polygon points="1047.9,440.5 1053.1,443.4 1053.1,763.4 1047.9,760.5" fill="url(#p1)"/><polygon points="1051.9,443.4 1057.1,446.4 1057.1,766.4 1051.9,763.4" fill="url(#p2)"/><polygon points="1055.9,446.4 1061.1,449.4 1061.1,769.4 1055.9,766.4" fill="url(#p2)"/><polygon points="1059.9,449.4 1065.1,452.3 1065.1,772.3 1059.9,769.4" fill="url(#p1)"/><polygon points="1063.9,452.3 1069.2,455.3 1069.2,775.3 1063.9,772.3" fill="url(#p2)"/><polygon points="1068,455.3 1073.2,458.3 1073.2,778.3 1068,775.3" fill="url(#p3)"/><polygon points="1072,458.3 1077.2,461.2 1077.2,781.2 1072,778.3" fill="url(#p2)"/><polygon points="1076,461.2 1081.2,464.2 1081.2,784.2 1076,781.2" fill="url(#p2)"/><polygon points="1080,464.2 1085.2,467.1 1085.2,787.1 1080,784.2" fill="url(#p2)"/><polygon points="1084,467.1 1089.2,470.1 1089.2,790.1 1084,787.1" fill="url(#p2)"/><polygon points="1088,470.1 1093.2,473.1 1093.2,793.1 1088,790.1" fill="url(#p1)"/><polygon points="1092,473.1 1097.2,476 1097.2,796 1092,793.1" fill="url(#p4)"/><polygon points="1096,476 1101.2,479 1101.2,799 1096,796" fill="url(#p2)"/><polygon points="1100,479 1105.2,481.9 1105.2,801.9 1100,799" fill="url(#p3)"/><polygon points="1104,481.9 1109.2,484.9 1109.2,804.9 1104,801.9" fill="url(#p1)"/><polygon points="1108,484.9 1113.2,487.9 1113.2,807.9 1108,804.9" fill="url(#p2)"/><polygon points="1112,487.9 1117.3,490.8 1117.3,810.8 1112,807.9" fill="url(#p2)"/><polygon points="1116.1,490.8 1121.3,493.8 1121.3,813.8 1116.1,810.8" fill="url(#p4)"/><polygon points="1120.1,493.8 1125.3,496.7 1125.3,816.7 1120.1,813.8" fill="url(#p2)"/><polygon points="1124.1,496.7 1129.3,499.7 1129.3,819.7 1124.1,816.7" fill="url(#p4)"/><polygon points="1128.1,499.7 1133.3,502.7 1133.3,822.7 1128.1,819.7" fill="url(#p2)"/><polygon points="1132.1,502.7 1137.3,505.6 1137.3,825.6 1132.1,822.7" fill="url(#p2)"/><polygon points="1136.1,505.6 1141.3,508.6 1141.3,828.6 1136.1,825.6" fill="url(#p2)"/><polygon points="1140.1,508.6 1145.3,511.5 1145.3,831.5 1140.1,828.6" fill="url(#p4)"/><polygon points="1144.1,511.5 1149.3,514.5 1149.3,834.5 1144.1,831.5" fill="url(#p2)"/><polygon points="1148.1,514.5 1153.3,517.5 1153.3,837.5 1148.1,834.5" fill="url(#p2)"/><polygon points="1152.1,517.5 1157.3,520.4 1157.3,840.4 1152.1,837.5" fill="url(#p4)"/><polygon points="1156.1,520.4 1161.4,523.4 1161.4,843.4 1156.1,840.4" fill="url(#p2)"/><polygon points="1160.2,523.4 1165.4,526.3 1165.4,846.3 1160.2,843.4" fill="url(#p2)"/><polygon points="1164.2,526.3 1169.4,529.3 1169.4,849.3 1164.2,846.3" fill="url(#p2)"/><polygon points="1168.2,529.3 1173.4,532.3 1173.4,852.3 1168.2,849.3" fill="url(#p2)"/><polygon points="1172.2,532.3 1177.4,535.2 1177.4,855.2 1172.2,852.3" fill="url(#p4)"/><polygon points="1176.2,535.2 1181.4,538.2 1181.4,858.2 1176.2,855.2" fill="url(#p5)"/><polygon points="1180.2,538.2 1185.4,541.2 1185.4,861.2 1180.2,858.2" fill="url(#p4)"/><polygon points="1184.2,541.2 1189.4,544.1 1189.4,864.1 1184.2,861.2" fill="url(#p6)"/><polygon points="1188.2,544.1 1193.4,547.1 1193.4,867.1 1188.2,864.1" fill="url(#p4)"/><polygon points="1192.2,547.1 1197.4,550 1197.4,870 1192.2,867.1" fill="url(#p4)"/><polygon points="1196.2,550 1201.4,553 1201.4,873 1196.2,870" fill="url(#p5)"/><polygon points="1200.2,553 1205.4,556 1205.4,876 1200.2,873" fill="url(#p5)"/><polygon points="1204.2,556 1209.5,558.9 1209.5,878.9 1204.2,876" fill="url(#p2)"/><polygon points="1208.3,558.9 1213.5,561.9 1213.5,881.9 1208.3,878.9" fill="url(#p7)"/><polygon points="1212.3,561.9 1217.5,564.8 1217.5,884.8 1212.3,881.9" fill="url(#p4)"/><polygon points="1216.3,564.8 1221.5,567.8 1221.5,887.8 1216.3,884.8" fill="url(#p8)"/><polygon points="1220.3,567.8 1225.5,570.8 1225.5,890.8 1220.3,887.8" fill="url(#p6)"/><polygon points="1224.3,570.8 1229.5,573.7 1229.5,893.7 1224.3,890.8" fill="url(#p8)"/><polygon points="1228.3,573.7 1233.5,576.7 1233.5,896.7 1228.3,893.7" fill="url(#p5)"/><polygon points="1232.3,576.7 1237.5,579.6 1237.5,899.6 1232.3,896.7" fill="url(#p4)"/><polygon points="1236.3,579.6 1241.5,582.6 1241.5,902.6 1236.3,899.6" fill="url(#p4)"/><polygon points="1240.3,582.6 1245.5,585.6 1245.5,905.6 1240.3,902.6" fill="url(#p9)"/><polygon points="1244.3,585.6 1249.5,588.5 1249.5,908.5 1244.3,905.6" fill="url(#p7)"/><polygon points="1248.3,588.5 1253.5,591.5 1253.5,911.5 1248.3,908.5" fill="url(#p4)"/><polygon points="1252.3,591.5 1257.6,594.4 1257.6,914.4 1252.3,911.5" fill="url(#p4)"/><polygon points="1256.4,594.4 1261.6,597.4 1261.6,917.4 1256.4,914.4" fill="url(#p5)"/><polygon points="1260.4,597.4 1265.6,600.4 1265.6,920.4 1260.4,917.4" fill="url(#p5)"/><polygon points="1264.4,600.4 1269.6,603.3 1269.6,923.3 1264.4,920.4" fill="url(#p7)"/><polygon points="1268.4,603.3 1273.6,606 1273.6,926 1268.4,923.3" fill="url(#p5)"/><polygon points="1272.4,606 1277.6,606 1277.6,926 1272.4,926" fill="url(#p8)"/><polygon points="946.4,449 950.7,449 950.7,769 946.4,769" fill="url(#p10)"/><polygon points="949.5,449 953.8,437.5 953.8,757.5 949.5,769" fill="url(#p10)"/><polygon points="952.6,437.5 956.9,430.7 956.9,750.7 952.6,757.5" fill="url(#p1)"/><polygon points="955.7,430.7 960,425.1 960,745.1 955.7,750.7" fill="url(#p11)"/><polygon points="958.8,425.1 963,421.6 963,741.6 958.8,745.1" fill="url(#p10)"/><polygon points="961.8,421.6 966.1,418.2 966.1,738.2 961.8,741.6" fill="url(#p11)"/><polygon points="964.9,418.2 969.2,415.3 969.2,735.3 964.9,738.2" fill="url(#p10)"/><polygon points="968,415.3 972.3,413 972.3,733 968,735.3" fill="url(#p11)"/><polygon points="971.1,413 975.4,410.7 975.4,730.7 971.1,733" fill="url(#p11)"/><polygon points="974.2,410.7 978.5,408.6 978.5,728.6 974.2,730.7" fill="url(#p1)"/><polygon points="977.3,408.6 981.6,407 981.6,727 977.3,728.6" fill="url(#p1)"/><polygon points="980.4,407 984.6,405.5 984.6,725.5 980.4,727" fill="url(#p11)"/><polygon points="983.4,405.5 987.7,404 987.7,724 983.4,725.5" fill="url(#p2)"/><polygon points="986.5,404 990.8,403.3 990.8,723.3 986.5,724" fill="url(#p11)"/><polygon points="989.6,403.3 993.9,402.7 993.9,722.7 989.6,723.3" fill="url(#p12)"/><polygon points="992.7,402.7 997,402 997,722 992.7,722.7" fill="url(#p13)"/><polygon points="1401.1,506.9 1406.3,507.5 1406.3,827.5 1401.1,826.9" fill="url(#p14)"/><polygon points="1405.1,507.5 1410.3,508 1410.3,828 1405.1,827.5" fill="url(#p15)"/><polygon points="1409.1,508 1414.3,508.6 1414.3,828.6 1409.1,828" fill="url(#p16)"/><polygon points="1413.1,508.6 1418.3,509.1 1418.3,829.1 1413.1,828.6" fill="url(#p15)"/><polygon points="1417.1,509.1 1422.3,509.7 1422.3,829.7 1417.1,829.1" fill="url(#p14)"/><polygon points="1421.1,509.7 1426.3,510.2 1426.3,830.2 1421.1,829.7" fill="url(#p14)"/><polygon points="1425.1,510.2 1430.3,510.8 1430.3,830.8 1425.1,830.2" fill="url(#p14)"/><polygon points="1429.1,510.8 1434.2,511.4 1434.2,831.4 1429.1,830.8" fill="url(#p14)"/><polygon points="1433,511.4 1438.2,511.9 1438.2,831.9 1433,831.4" fill="url(#p17)"/><polygon points="1437,511.9 1442.2,512.5 1442.2,832.5 1437,831.9" fill="url(#p17)"/><polygon points="1441,512.5 1446.2,513.2 1446.2,833.2 1441,832.5" fill="url(#p17)"/><polygon points="1445,513.2 1450.2,513.9 1450.2,833.9 1445,833.2" fill="url(#p14)"/><polygon points="1449,513.9 1454.2,514.6 1454.2,834.6 1449,833.9" fill="url(#p14)"/><polygon points="1453,514.6 1458.2,515.2 1458.2,835.2 1453,834.6" fill="url(#p17)"/><polygon points="1457,515.2 1462.2,515.7 1462.2,835.7 1457,835.2" fill="url(#p17)"/><polygon points="1461,515.7 1466.2,516.2 1466.2,836.2 1461,835.7" fill="url(#p18)"/><polygon points="1465,516.2 1470.2,516.6 1470.2,836.6 1465,836.2" fill="url(#p17)"/><polygon points="1469,516.6 1474.2,516.9 1474.2,836.9 1469,836.6" fill="url(#p17)"/><polygon points="1473,516.9 1478.2,517 1478.2,837 1473,836.9" fill="url(#p19)"/><polygon points="1477,517 1482.2,517.1 1482.2,837.1 1477,837" fill="url(#p14)"/><polygon points="1481,517.1 1486.2,517 1486.2,837 1481,837.1" fill="url(#p14)"/><polygon points="1485,517 1490.2,516.9 1490.2,836.9 1485,837" fill="url(#p14)"/><polygon points="1489,516.9 1494.2,516.7 1494.2,836.7 1489,836.9" fill="url(#p17)"/><polygon points="1493,516.7 1498.1,516.4 1498.1,836.4 1493,836.7" fill="url(#p18)"/><polygon points="1496.9,516.4 1502.1,516.2 1502.1,836.2 1496.9,836.4" fill="url(#p19)"/><polygon points="1500.9,516.2 1506.1,515.9 1506.1,835.9 1500.9,836.2" fill="url(#p14)"/><polygon points="1504.9,515.9 1510.1,515.5 1510.1,835.5 1504.9,835.9" fill="url(#p20)"/><polygon points="1508.9,515.5 1514.1,515.1 1514.1,835.1 1508.9,835.5" fill="url(#p21)"/><polygon points="1512.9,515.1 1518.1,514.8 1518.1,834.8 1512.9,835.1" fill="url(#p17)"/><polygon points="1516.9,514.8 1522.1,514.4 1522.1,834.4 1516.9,834.8" fill="url(#p8)"/><polygon points="1520.9,514.4 1526.1,514 1526.1,834 1520.9,834.4" fill="url(#p8)"/><polygon points="1524.9,514 1530.1,513.6 1530.1,833.6 1524.9,834" fill="url(#p14)"/><polygon points="1528.9,513.6 1534.1,513.1 1534.1,833.1 1528.9,833.6" fill="url(#p8)"/><polygon points="1532.9,513.1 1538.1,512.6 1538.1,832.6 1532.9,833.1" fill="url(#p21)"/><polygon points="1536.9,512.6 1542.1,512.1 1542.1,832.1 1536.9,832.6" fill="url(#p19)"/><polygon points="1540.9,512.1 1546.1,511.4 1546.1,831.4 1540.9,832.1" fill="url(#p19)"/><polygon points="1544.9,511.4 1550.1,510.7 1550.1,830.7 1544.9,831.4" fill="url(#p19)"/><polygon points="1548.9,510.7 1554.1,509.7 1554.1,829.7 1548.9,830.7" fill="url(#p19)"/><polygon points="1552.9,509.7 1558.1,508.7 1558.1,828.7 1552.9,829.7" fill="url(#p19)"/><polygon points="1556.9,508.7 1562,507.4 1562,827.4 1556.9,828.7" fill="url(#p19)"/><polygon points="1560.8,507.4 1566,505.8 1566,825.8 1560.8,827.4" fill="url(#p19)"/><polygon points="1564.8,505.8 1570,504.1 1570,824.1 1564.8,825.8" fill="url(#p5)"/><polygon points="1568.8,504.1 1574,502.2 1574,822.2 1568.8,824.1" fill="url(#p14)"/><polygon points="1572.8,502.2 1578,500.3 1578,820.3 1572.8,822.2" fill="url(#p14)"/><polygon points="1576.8,500.3 1582,498.4 1582,818.4 1576.8,820.3" fill="url(#p19)"/><polygon points="1580.8,498.4 1586,496.6 1586,816.6 1580.8,818.4" fill="url(#p14)"/><polygon points="1584.8,496.6 1590,494.9 1590,814.9 1584.8,816.6" fill="url(#p10)"/><polygon points="1588.8,494.9 1594,493.2 1594,813.2 1588.8,814.9" fill="url(#p22)"/><polygon points="1592.8,493.2 1598,491.5 1598,811.5 1592.8,813.2" fill="url(#p11)"/><polygon points="1596.8,491.5 1602,489.9 1602,809.9 1596.8,811.5" fill="url(#p14)"/><polygon points="1600.8,489.9 1606,488.2 1606,808.2 1600.8,809.9" fill="url(#p11)"/><polygon points="1604.8,488.2 1610,486.6 1610,806.6 1604.8,808.2" fill="url(#p11)"/><polygon points="1608.8,486.6 1614,484.9 1614,804.9 1608.8,806.6" fill="url(#p8)"/><polygon points="1612.8,484.9 1618,483.3 1618,803.3 1612.8,804.9" fill="url(#p19)"/><polygon points="1616.8,483.3 1622,481.6 1622,801.6 1616.8,803.3" fill="url(#p10)"/><polygon points="1620.8,481.6 1625.9,479.9 1625.9,799.9 1620.8,801.6" fill="url(#p10)"/><polygon points="1624.7,479.9 1629.9,478.3 1629.9,798.3 1624.7,799.9" fill="url(#p10)"/><polygon points="1628.7,478.3 1633.9,476.6 1633.9,796.6 1628.7,798.3" fill="url(#p10)"/><polygon points="1632.7,476.6 1637.9,474.9 1637.9,794.9 1632.7,796.6" fill="url(#p2)"/><polygon points="1636.7,474.9 1641.9,473.3 1641.9,793.3 1636.7,794.9" fill="url(#p4)"/><polygon points="1640.7,473.3 1645.9,477.7 1645.9,797.7 1640.7,793.3" fill="url(#p8)"/><polygon points="1644.7,477.7 1649.9,483.3 1649.9,803.3 1644.7,797.7" fill="url(#p5)"/><polygon points="1648.7,483.3 1653.9,489 1653.9,809 1648.7,803.3" fill="url(#p8)"/><polygon points="937.4,460.3 942.6,456.8 942.6,776.8 937.4,780.3" fill="url(#p14)"/><polygon points="941.4,456.8 946.5,453.2 946.5,773.2 941.4,776.8" fill="url(#p17)"/><polygon points="945.3,453.2 950.5,449.6 950.5,769.6 945.3,773.2" fill="url(#p14)"/><polygon points="949.3,449.6 954.5,451.4 954.5,771.4 949.3,769.6" fill="url(#p17)"/><polygon points="953.3,451.4 958.5,454.4 958.5,774.4 953.3,771.4" fill="url(#p23)"/><polygon points="957.3,454.4 962.4,457.3 962.4,777.3 957.3,774.4" fill="url(#p24)"/><polygon points="961.2,457.3 966.4,460.2 966.4,780.2 961.2,777.3" fill="url(#p16)"/><polygon points="965.2,460.2 970.4,463.1 970.4,783.1 965.2,780.2" fill="url(#p25)"/><polygon points="969.2,463.1 974.3,466.1 974.3,786.1 969.2,783.1" fill="url(#p24)"/><polygon points="973.1,466.1 978.3,469 978.3,789 973.1,786.1" fill="url(#p26)"/><polygon points="977.1,469 982.3,471.9 982.3,791.9 977.1,789" fill="url(#p24)"/><polygon points="981.1,471.9 986.2,474.9 986.2,794.9 981.1,791.9" fill="url(#p26)"/><polygon points="985,474.9 990.2,477.8 990.2,797.8 985,794.9" fill="url(#p27)"/><polygon points="989,477.8 994.2,480.7 994.2,800.7 989,797.8" fill="url(#p24)"/><polygon points="993,480.7 998.2,483.7 998.2,803.7 993,800.7" fill="url(#p28)"/><polygon points="997,483.7 1002.1,486.6 1002.1,806.6 997,803.7" fill="url(#p29)"/><polygon points="1000.9,486.6 1006.1,489.5 1006.1,809.5 1000.9,806.6" fill="url(#p29)"/><polygon points="1004.9,489.5 1010.1,492.5 1010.1,812.5 1004.9,809.5" fill="url(#p29)"/><polygon points="1008.9,492.5 1014,495.4 1014,815.4 1008.9,812.5" fill="url(#p30)"/><polygon points="1012.8,495.4 1018,498.3 1018,818.3 1012.8,815.4" fill="url(#p29)"/><polygon points="1016.8,498.3 1022,501.2 1022,821.2 1016.8,818.3" fill="url(#p28)"/><polygon points="1020.8,501.2 1026,504.2 1026,824.2 1020.8,821.2" fill="url(#p28)"/><polygon points="1024.8,504.2 1029.9,507.1 1029.9,827.1 1024.8,824.2" fill="url(#p31)"/><polygon points="1028.7,507.1 1033.9,510 1033.9,830 1028.7,827.1" fill="url(#p32)"/><polygon points="1032.7,510 1037.9,513 1037.9,833 1032.7,830" fill="url(#p28)"/><polygon points="1036.7,513 1041.8,515.9 1041.8,835.9 1036.7,833" fill="url(#p33)"/><polygon points="1040.6,515.9 1045.8,518.8 1045.8,838.8 1040.6,835.9" fill="url(#p33)"/><polygon points="1044.6,518.8 1049.8,521.8 1049.8,841.8 1044.6,838.8" fill="url(#p28)"/><polygon points="1048.6,521.8 1053.7,524.7 1053.7,844.7 1048.6,841.8" fill="url(#p33)"/><polygon points="1052.5,524.7 1057.7,527.6 1057.7,847.6 1052.5,844.7" fill="url(#p34)"/><polygon points="1056.5,527.6 1061.7,530.6 1061.7,850.6 1056.5,847.6" fill="url(#p34)"/><polygon points="1060.5,530.6 1065.7,533.5 1065.7,853.5 1060.5,850.6" fill="url(#p33)"/><polygon points="1064.5,533.5 1069.6,536.4 1069.6,856.4 1064.5,853.5" fill="url(#p35)"/><polygon points="1068.4,536.4 1073.6,539.3 1073.6,859.3 1068.4,856.4" fill="url(#p36)"/><polygon points="1072.4,539.3 1077.6,542.3 1077.6,862.3 1072.4,859.3" fill="url(#p37)"/><polygon points="1076.4,542.3 1081.5,545.2 1081.5,865.2 1076.4,862.3" fill="url(#p34)"/><polygon points="1080.3,545.2 1085.5,548.1 1085.5,868.1 1080.3,865.2" fill="url(#p37)"/><polygon points="1084.3,548.1 1089.5,551.1 1089.5,871.1 1084.3,868.1" fill="url(#p37)"/><polygon points="1088.3,551.1 1093.5,554 1093.5,874 1088.3,871.1" fill="url(#p37)"/><polygon points="1092.3,554 1097.4,556.9 1097.4,876.9 1092.3,874" fill="url(#p37)"/><polygon points="1096.2,556.9 1101.4,559.9 1101.4,879.9 1096.2,876.9" fill="url(#p38)"/><polygon points="1100.2,559.9 1105.4,562.8 1105.4,882.8 1100.2,879.9" fill="url(#p37)"/><polygon points="1104.2,562.8 1109.3,565.7 1109.3,885.7 1104.2,882.8" fill="url(#p39)"/><polygon points="1108.1,565.7 1113.3,568.7 1113.3,888.7 1108.1,885.7" fill="url(#p40)"/><polygon points="1112.1,568.7 1117.3,571.6 1117.3,891.6 1112.1,888.7" fill="url(#p37)"/><polygon points="1116.1,571.6 1121.2,574.5 1121.2,894.5 1116.1,891.6" fill="url(#p34)"/><polygon points="1120,574.5 1125.2,577.5 1125.2,897.5 1120,894.5" fill="url(#p37)"/><polygon points="1124,577.5 1129.2,580.4 1129.2,900.4 1124,897.5" fill="url(#p41)"/><polygon points="1128,580.4 1133.2,583.3 1133.2,903.3 1128,900.4" fill="url(#p37)"/><polygon points="1132,583.3 1137.1,586.2 1137.1,906.2 1132,903.3" fill="url(#p37)"/><polygon points="1135.9,586.2 1141.1,589.2 1141.1,909.2 1135.9,906.2" fill="url(#p37)"/><polygon points="1139.9,589.2 1145.1,592.1 1145.1,912.1 1139.9,909.2" fill="url(#p36)"/><polygon points="1143.9,592.1 1149,595 1149,915 1143.9,912.1" fill="url(#p37)"/><polygon points="1147.8,595 1153,598 1153,918 1147.8,915" fill="url(#p42)"/><polygon points="1151.8,598 1157,600.9 1157,920.9 1151.8,918" fill="url(#p36)"/><polygon points="1155.8,600.9 1161,603.8 1161,923.8 1155.8,920.9" fill="url(#p43)"/><polygon points="1159.8,603.8 1164.9,606.8 1164.9,926.8 1159.8,923.8" fill="url(#p33)"/><polygon points="1163.7,606.8 1168.9,609.7 1168.9,929.7 1163.7,926.8" fill="url(#p37)"/><polygon points="1167.7,609.7 1172.9,612.6 1172.9,932.6 1167.7,929.7" fill="url(#p36)"/><polygon points="1171.7,612.6 1176.8,615.6 1176.8,935.6 1171.7,932.6" fill="url(#p33)"/><polygon points="1175.6,615.6 1180.8,618.5 1180.8,938.5 1175.6,935.6" fill="url(#p36)"/><polygon points="1179.6,618.5 1184.8,621.4 1184.8,941.4 1179.6,938.5" fill="url(#p37)"/><polygon points="1183.6,621.4 1188.7,624.3 1188.7,944.3 1183.6,941.4" fill="url(#p36)"/><polygon points="1187.5,624.3 1192.7,627.3 1192.7,947.3 1187.5,944.3" fill="url(#p34)"/><polygon points="1191.5,627.3 1196.7,630.2 1196.7,950.2 1191.5,947.3" fill="url(#p43)"/><polygon points="1195.5,630.2 1200.7,633.1 1200.7,953.1 1195.5,950.2" fill="url(#p36)"/><polygon points="1199.5,633.1 1204.6,636.1 1204.6,956.1 1199.5,953.1" fill="url(#p33)"/><polygon points="1203.4,636.1 1208.6,639 1208.6,959 1203.4,956.1" fill="url(#p33)"/><polygon points="745.4,358 750.6,358 750.6,678 745.4,678" fill="url(#p44)"/><polygon points="749.4,358 754.6,361 754.6,681 749.4,678" fill="url(#p45)"/><polygon points="753.4,361 758.6,363.9 758.6,683.9 753.4,681" fill="url(#p46)"/><polygon points="757.4,363.9 762.7,366.8 762.7,686.8 757.4,683.9" fill="url(#p46)"/><polygon points="761.5,366.8 766.7,369.8 766.7,689.8 761.5,686.8" fill="url(#p45)"/><polygon points="765.5,369.8 770.7,372.7 770.7,692.7 765.5,689.8" fill="url(#p46)"/><polygon points="769.5,372.7 774.7,375.7 774.7,695.7 769.5,692.7" fill="url(#p45)"/><polygon points="773.5,375.7 778.7,378.6 778.7,698.6 773.5,695.7" fill="url(#p44)"/><polygon points="777.5,378.6 782.7,381.5 782.7,701.5 777.5,698.6" fill="url(#p46)"/><polygon points="781.5,381.5 786.7,384.5 786.7,704.5 781.5,701.5" fill="url(#p44)"/><polygon points="785.5,384.5 790.8,387.4 790.8,707.4 785.5,704.5" fill="url(#p47)"/><polygon points="789.6,387.4 794.8,390.4 794.8,710.4 789.6,707.4" fill="url(#p48)"/><polygon points="793.6,390.4 798.8,393.3 798.8,713.3 793.6,710.4" fill="url(#p47)"/><polygon points="797.6,393.3 802.8,396.3 802.8,716.3 797.6,713.3" fill="url(#p49)"/><polygon points="801.6,396.3 806.8,399.2 806.8,719.2 801.6,716.3" fill="url(#p45)"/><polygon points="805.6,399.2 810.8,402.1 810.8,722.1 805.6,719.2" fill="url(#p47)"/><polygon points="809.6,402.1 814.8,405.1 814.8,725.1 809.6,722.1" fill="url(#p45)"/><polygon points="813.6,405.1 818.9,408 818.9,728 813.6,725.1" fill="url(#p45)"/><polygon points="817.7,408 822.9,411 822.9,731 817.7,728" fill="url(#p47)"/><polygon points="821.7,411 826.9,413.9 826.9,733.9 821.7,731" fill="url(#p50)"/><polygon points="825.7,413.9 830.9,416.8 830.9,736.8 825.7,733.9" fill="url(#p47)"/><polygon points="829.7,416.8 834.9,419.8 834.9,739.8 829.7,736.8" fill="url(#p11)"/><polygon points="833.7,419.8 838.9,422.7 838.9,742.7 833.7,739.8" fill="url(#p47)"/><polygon points="837.7,422.7 842.9,425.7 842.9,745.7 837.7,742.7" fill="url(#p11)"/><polygon points="841.7,425.7 847,428.6 847,748.6 841.7,745.7" fill="url(#p51)"/><polygon points="845.8,428.6 851,431.6 851,751.6 845.8,748.6" fill="url(#p47)"/><polygon points="849.8,431.6 855,434.5 855,754.5 849.8,751.6" fill="url(#p19)"/><polygon points="853.8,434.5 859,437.4 859,757.4 853.8,754.5" fill="url(#p19)"/><polygon points="857.8,437.4 863,440.4 863,760.4 857.8,757.4" fill="url(#p22)"/><polygon points="861.8,440.4 867,443.3 867,763.3 861.8,760.4" fill="url(#p11)"/><polygon points="865.8,443.3 871,446.3 871,766.3 865.8,763.3" fill="url(#p10)"/><polygon points="869.8,446.3 875.1,449.2 875.1,769.2 869.8,766.3" fill="url(#p11)"/><polygon points="873.9,449.2 879.1,452.1 879.1,772.1 873.9,769.2" fill="url(#p5)"/><polygon points="877.9,452.1 883.1,455.1 883.1,775.1 877.9,772.1" fill="url(#p16)"/><polygon points="881.9,455.1 887.1,458 887.1,778 881.9,775.1" fill="url(#p25)"/><polygon points="885.9,458 891.1,461 891.1,781 885.9,778" fill="url(#p10)"/><polygon points="889.9,461 895.1,463.9 895.1,783.9 889.9,781" fill="url(#p16)"/><polygon points="893.9,463.9 899.1,466.9 899.1,786.9 893.9,783.9" fill="url(#p16)"/><polygon points="897.9,466.9 903.2,469.8 903.2,789.8 897.9,786.9" fill="url(#p5)"/><polygon points="902,469.8 907.2,472.7 907.2,792.7 902,789.8" fill="url(#p19)"/><polygon points="906,472.7 911.2,475.7 911.2,795.7 906,792.7" fill="url(#p8)"/><polygon points="910,475.7 915.2,478.6 915.2,798.6 910,795.7" fill="url(#p8)"/><polygon points="914,478.6 919.2,481.6 919.2,801.6 914,798.6" fill="url(#p5)"/><polygon points="918,481.6 923.2,484.5 923.2,804.5 918,801.6" fill="url(#p5)"/><polygon points="922,484.5 927.2,487.4 927.2,807.4 922,804.5" fill="url(#p9)"/><polygon points="926,487.4 931.3,490.4 931.3,810.4 926,807.4" fill="url(#p16)"/><polygon points="930.1,490.4 935.3,493.3 935.3,813.3 930.1,810.4" fill="url(#p9)"/><polygon points="934.1,493.3 939.3,496.3 939.3,816.3 934.1,813.3" fill="url(#p5)"/><polygon points="938.1,496.3 943.3,499.2 943.3,819.2 938.1,816.3" fill="url(#p9)"/><polygon points="942.1,499.2 947.3,502.2 947.3,822.2 942.1,819.2" fill="url(#p9)"/><polygon points="946.1,502.2 951.3,505.1 951.3,825.1 946.1,822.2" fill="url(#p9)"/><polygon points="950.1,505.1 955.4,508 955.4,828 950.1,825.1" fill="url(#p5)"/><polygon points="954.1,508 959.4,511 959.4,831 954.1,828" fill="url(#p5)"/><polygon points="958.2,511 963.4,513.9 963.4,833.9 958.2,831" fill="url(#p52)"/><polygon points="962.2,513.9 967.4,516.9 967.4,836.9 962.2,833.9" fill="url(#p5)"/><polygon points="966.2,516.9 971.4,519.8 971.4,839.8 966.2,836.9" fill="url(#p53)"/><polygon points="970.2,519.8 975.4,522.7 975.4,842.7 970.2,839.8" fill="url(#p5)"/><polygon points="974.2,522.7 979.4,525.7 979.4,845.7 974.2,842.7" fill="url(#p54)"/><polygon points="978.2,525.7 983.5,528.6 983.5,848.6 978.2,845.7" fill="url(#p5)"/><polygon points="982.3,528.6 987.5,531.6 987.5,851.6 982.3,848.6" fill="url(#p54)"/><polygon points="986.3,531.6 991.5,534.5 991.5,854.5 986.3,851.6" fill="url(#p52)"/><polygon points="990.3,534.5 995.5,537.5 995.5,857.5 990.3,854.5" fill="url(#p54)"/><polygon points="994.3,537.5 999.5,540.4 999.5,860.4 994.3,857.5" fill="url(#p55)"/><polygon points="998.3,540.4 1003.5,543.3 1003.5,863.3 998.3,860.4" fill="url(#p52)"/><polygon points="1002.3,543.3 1007.5,546.3 1007.5,866.3 1002.3,863.3" fill="url(#p56)"/><polygon points="1006.3,546.3 1011.6,549.2 1011.6,869.2 1006.3,866.3" fill="url(#p56)"/><polygon points="1010.4,549.2 1015.6,552.2 1015.6,872.2 1010.4,869.2" fill="url(#p57)"/><polygon points="1014.4,552.2 1019.6,555.1 1019.6,875.1 1014.4,872.2" fill="url(#p54)"/><polygon points="1018.4,555.1 1023.6,558 1023.6,878 1018.4,875.1" fill="url(#p58)"/><polygon points="1022.4,558 1027.6,561 1027.6,881 1022.4,878" fill="url(#p58)"/><polygon points="1026.4,561 1031.6,563.9 1031.6,883.9 1026.4,881" fill="url(#p59)"/><polygon points="1030.4,563.9 1035.6,566.9 1035.6,886.9 1030.4,883.9" fill="url(#p59)"/><polygon points="1034.4,566.9 1039.7,569.8 1039.7,889.8 1034.4,886.9" fill="url(#p59)"/><polygon points="1038.5,569.8 1043.7,572.8 1043.7,892.8 1038.5,889.8" fill="url(#p59)"/><polygon points="1042.5,572.8 1047.7,575.7 1047.7,895.7 1042.5,892.8" fill="url(#p60)"/><polygon points="1046.5,575.7 1051.7,578.6 1051.7,898.6 1046.5,895.7" fill="url(#p58)"/><polygon points="1050.5,578.6 1055.7,581.6 1055.7,901.6 1050.5,898.6" fill="url(#p61)"/><polygon points="1054.5,581.6 1059.7,584.5 1059.7,904.5 1054.5,901.6" fill="url(#p60)"/><polygon points="1058.5,584.5 1063.7,587.5 1063.7,907.5 1058.5,904.5" fill="url(#p60)"/><polygon points="1062.5,587.5 1067.8,590.4 1067.8,910.4 1062.5,907.5" fill="url(#p61)"/><polygon points="1066.6,590.4 1071.8,593.3 1071.8,913.3 1066.6,910.4" fill="url(#p60)"/><polygon points="1070.6,593.3 1075.8,596.3 1075.8,916.3 1070.6,913.3" fill="url(#p60)"/><polygon points="1074.6,596.3 1079.8,599.2 1079.8,919.2 1074.6,916.3" fill="url(#p62)"/><polygon points="1078.6,599.2 1083.8,602.2 1083.8,922.2 1078.6,919.2" fill="url(#p60)"/><polygon points="1082.6,602.2 1087.8,605.1 1087.8,925.1 1082.6,922.2" fill="url(#p63)"/><polygon points="1086.6,605.1 1091.8,608.1 1091.8,928.1 1086.6,925.1" fill="url(#p64)"/><polygon points="1090.6,608.1 1095.9,611 1095.9,931 1090.6,928.1" fill="url(#p65)"/><polygon points="1094.7,611 1099.9,613.9 1099.9,933.9 1094.7,931" fill="url(#p66)"/><polygon points="1098.7,613.9 1103.9,616.9 1103.9,936.9 1098.7,933.9" fill="url(#p64)"/><polygon points="1102.7,616.9 1107.9,619.8 1107.9,939.8 1102.7,936.9" fill="url(#p61)"/><polygon points="1106.7,619.8 1111.9,622.8 1111.9,942.8 1106.7,939.8" fill="url(#p67)"/><polygon points="1110.7,622.8 1115.9,625.7 1115.9,945.7 1110.7,942.8" fill="url(#p64)"/><polygon points="1114.7,625.7 1119.9,628.6 1119.9,948.6 1114.7,945.7" fill="url(#p62)"/><polygon points="1118.7,628.6 1124,631.6 1124,951.6 1118.7,948.6" fill="url(#p62)"/><polygon points="1122.8,631.6 1128,634.5 1128,954.5 1122.8,951.6" fill="url(#p67)"/><polygon points="1126.8,634.5 1132,637.5 1132,957.5 1126.8,954.5" fill="url(#p64)"/><polygon points="1130.8,637.5 1136,640.4 1136,960.4 1130.8,957.5" fill="url(#p61)"/><polygon points="1134.8,640.4 1140,643.4 1140,963.4 1134.8,960.4" fill="url(#p68)"/><polygon points="1138.8,643.4 1144,646.3 1144,966.3 1138.8,963.4" fill="url(#p61)"/><polygon points="1142.8,646.3 1148,649.2 1148,969.2 1142.8,966.3" fill="url(#p62)"/><polygon points="1146.8,649.2 1152.1,652.2 1152.1,972.2 1146.8,969.2" fill="url(#p48)"/><polygon points="1150.9,652.2 1156.1,655.1 1156.1,975.1 1150.9,972.2" fill="url(#p48)"/><polygon points="1154.9,655.1 1160.1,658.1 1160.1,978.1 1154.9,975.1" fill="url(#p62)"/><polygon points="1158.9,658.1 1164.1,661 1164.1,981 1158.9,978.1" fill="url(#p62)"/><polygon points="1162.9,661 1168.1,659.1 1168.1,979.1 1162.9,981" fill="url(#p62)"/><polygon points="1166.9,659.1 1172.1,657.2 1172.1,977.2 1166.9,979.1" fill="url(#p50)"/><polygon points="1170.9,657.2 1176,655.4 1176,975.4 1170.9,977.2" fill="url(#p50)"/><polygon points="1174.8,655.4 1180,653.5 1180,973.5 1174.8,975.4" fill="url(#p50)"/><polygon points="1178.8,653.5 1184,651.6 1184,971.6 1178.8,973.5" fill="url(#p69)"/><polygon points="1182.8,651.6 1188,649.7 1188,969.7 1182.8,971.6" fill="url(#p69)"/><polygon points="1186.8,649.7 1192,647.8 1192,967.8 1186.8,969.7" fill="url(#p50)"/><polygon points="1190.8,647.8 1196,646 1196,966 1190.8,967.8" fill="url(#p69)"/><polygon points="1194.8,646 1199.9,644.1 1199.9,964.1 1194.8,966" fill="url(#p45)"/><polygon points="1198.7,644.1 1203.9,642.2 1203.9,962.2 1198.7,964.1" fill="url(#p45)"/><polygon points="1202.7,642.2 1207.9,640.3 1207.9,960.3 1202.7,962.2" fill="url(#p47)"/><polygon points="1206.7,640.3 1211.9,638.3 1211.9,958.3 1206.7,960.3" fill="url(#p45)"/><polygon points="1210.7,638.3 1215.9,636.2 1215.9,956.2 1210.7,958.3" fill="url(#p47)"/><polygon points="1214.7,636.2 1219.9,634.1 1219.9,954.1 1214.7,956.2" fill="url(#p70)"/><polygon points="1218.7,634.1 1223.8,632 1223.8,952 1218.7,954.1" fill="url(#p71)"/><polygon points="1222.6,632 1227.8,629.9 1227.8,949.9 1222.6,952" fill="url(#p51)"/><polygon points="1226.6,629.9 1231.8,627.8 1231.8,947.8 1226.6,949.9" fill="url(#p51)"/><polygon points="1230.6,627.8 1235.8,625.7 1235.8,945.7 1230.6,947.8" fill="url(#p72)"/><polygon points="1234.6,625.7 1239.8,623.6 1239.8,943.6 1234.6,945.7" fill="url(#p47)"/><polygon points="1238.6,623.6 1243.8,621.5 1243.8,941.5 1238.6,943.6" fill="url(#p69)"/><polygon points="1242.6,621.5 1247.7,619.4 1247.7,939.4 1242.6,941.5" fill="url(#p69)"/><polygon points="1246.5,619.4 1251.7,617.3 1251.7,937.3 1246.5,939.4" fill="url(#p47)"/><polygon points="1250.5,617.3 1255.7,615.2 1255.7,935.2 1250.5,937.3" fill="url(#p72)"/><polygon points="1254.5,615.2 1259.7,613.1 1259.7,933.1 1254.5,935.2" fill="url(#p47)"/><polygon points="1258.5,613.1 1263.7,611 1263.7,931 1258.5,933.1" fill="url(#p45)"/><polygon points="1262.5,611 1267.7,608.9 1267.7,928.9 1262.5,931" fill="url(#p51)"/><polygon points="1266.5,608.9 1271.6,606.8 1271.6,926.8 1266.5,928.9" fill="url(#p51)"/><polygon points="1270.4,606.8 1275.6,606 1275.6,926 1270.4,926.8" fill="url(#p22)"/><polygon points="1274.4,606 1279.6,606 1279.6,926 1274.4,926" fill="url(#p47)"/><polygon points="635.4,409.5 640.7,407.7 640.7,727.7 635.4,729.5" fill="url(#p51)"/><polygon points="639.5,407.7 644.7,405.9 644.7,725.9 639.5,727.7" fill="url(#p51)"/><polygon points="643.5,405.9 648.8,404 648.8,724 643.5,725.9" fill="url(#p72)"/><polygon points="647.6,404 652.9,402.2 652.9,722.2 647.6,724" fill="url(#p51)"/><polygon points="651.7,402.2 657,400.3 657,720.3 651.7,722.2" fill="url(#p47)"/><polygon points="655.8,400.3 661,398.5 661,718.5 655.8,720.3" fill="url(#p73)"/><polygon points="659.8,398.5 665.1,396.7 665.1,716.7 659.8,718.5" fill="url(#p72)"/><polygon points="663.9,396.7 669.2,394.8 669.2,714.8 663.9,716.7" fill="url(#p45)"/><polygon points="668,394.8 673.2,393 673.2,713 668,714.8" fill="url(#p49)"/><polygon points="672,393 677.3,391.1 677.3,711.1 672,713" fill="url(#p45)"/><polygon points="676.1,391.1 681.4,389.3 681.4,709.3 676.1,711.1" fill="url(#p45)"/><polygon points="680.2,389.3 685.5,387.5 685.5,707.5 680.2,709.3" fill="url(#p45)"/><polygon points="684.3,387.5 689.5,385.6 689.5,705.6 684.3,707.5" fill="url(#p45)"/><polygon points="688.3,385.6 693.6,383.8 693.6,703.8 688.3,705.6" fill="url(#p49)"/><polygon points="692.4,383.8 697.7,381.9 697.7,701.9 692.4,703.8" fill="url(#p69)"/><polygon points="696.5,381.9 701.7,380.1 701.7,700.1 696.5,701.9" fill="url(#p49)"/><polygon points="700.5,380.1 705.8,378.3 705.8,698.3 700.5,700.1" fill="url(#p49)"/><polygon points="704.6,378.3 709.9,376.4 709.9,696.4 704.6,698.3" fill="url(#p45)"/><polygon points="708.7,376.4 714,374.6 714,694.6 708.7,696.4" fill="url(#p46)"/><polygon points="712.8,374.6 718,372.7 718,692.7 712.8,694.6" fill="url(#p44)"/><polygon points="716.8,372.7 722.1,370.9 722.1,690.9 716.8,692.7" fill="url(#p46)"/><polygon points="720.9,370.9 726.2,369 726.2,689 720.9,690.9" fill="url(#p46)"/><polygon points="725,369 730.2,367.2 730.2,687.2 725,689" fill="url(#p46)"/><polygon points="729,367.2 734.3,365.4 734.3,685.4 729,687.2" fill="url(#p46)"/><polygon points="733.1,365.4 738.4,363.5 738.4,683.5 733.1,685.4" fill="url(#p74)"/><polygon points="737.2,363.5 742.5,361.7 742.5,681.7 737.2,683.5" fill="url(#p48)"/><polygon points="741.3,361.7 746.5,359.8 746.5,679.8 741.3,681.7" fill="url(#p46)"/><polygon points="745.3,359.8 750.6,358 750.6,678 745.3,679.8" fill="url(#p46)"/><polygon points="514.4,325.3 519.6,328.2 519.6,648.2 514.4,645.3" fill="url(#p75)"/><polygon points="518.4,328.2 523.7,331.2 523.7,651.2 518.4,648.2" fill="url(#p76)"/><polygon points="522.5,331.2 527.7,334.1 527.7,654.1 522.5,651.2" fill="url(#p77)"/><polygon points="526.5,334.1 531.7,337 531.7,657 526.5,654.1" fill="url(#p76)"/><polygon points="530.5,337 535.8,340 535.8,660 530.5,657" fill="url(#p78)"/><polygon points="534.6,340 539.8,342.9 539.8,662.9 534.6,660" fill="url(#p79)"/><polygon points="538.6,342.9 543.8,345.9 543.8,665.9 538.6,662.9" fill="url(#p80)"/><polygon points="542.6,345.9 547.9,348.8 547.9,668.8 542.6,665.9" fill="url(#p76)"/><polygon points="546.7,348.8 551.9,351.7 551.9,671.7 546.7,668.8" fill="url(#p81)"/><polygon points="550.7,351.7 555.9,354.7 555.9,674.7 550.7,671.7" fill="url(#p76)"/><polygon points="554.7,354.7 560,357.6 560,677.6 554.7,674.7" fill="url(#p76)"/><polygon points="558.8,357.6 564,360.5 564,680.5 558.8,677.6" fill="url(#p81)"/><polygon points="562.8,360.5 568,363.5 568,683.5 562.8,680.5" fill="url(#p82)"/><polygon points="566.8,363.5 572.1,366.4 572.1,686.4 566.8,683.5" fill="url(#p76)"/><polygon points="570.9,366.4 576.1,369.4 576.1,689.4 570.9,686.4" fill="url(#p83)"/><polygon points="574.9,369.4 580.1,372.3 580.1,692.3 574.9,689.4" fill="url(#p83)"/><polygon points="578.9,372.3 584.1,375.2 584.1,695.2 578.9,692.3" fill="url(#p82)"/><polygon points="582.9,375.2 588.2,378.2 588.2,698.2 582.9,695.2" fill="url(#p76)"/><polygon points="587,378.2 592.2,381.1 592.2,701.1 587,698.2" fill="url(#p76)"/><polygon points="591,381.1 596.2,384 596.2,704 591,701.1" fill="url(#p76)"/><polygon points="595,384 600.3,387 600.3,707 595,704" fill="url(#p82)"/><polygon points="599.1,387 604.3,389.9 604.3,709.9 599.1,707" fill="url(#p76)"/><polygon points="603.1,389.9 608.3,392.9 608.3,712.9 603.1,709.9" fill="url(#p82)"/><polygon points="607.1,392.9 612.4,395.8 612.4,715.8 607.1,712.9" fill="url(#p84)"/><polygon points="611.2,395.8 616.4,398.7 616.4,718.7 611.2,715.8" fill="url(#p82)"/><polygon points="615.2,398.7 620.4,401.7 620.4,721.7 615.2,718.7" fill="url(#p82)"/><polygon points="619.2,401.7 624.5,404.6 624.5,724.6 619.2,721.7" fill="url(#p84)"/><polygon points="623.3,404.6 628.5,407.5 628.5,727.5 623.3,724.6" fill="url(#p84)"/><polygon points="627.3,407.5 632.5,410.5 632.5,730.5 627.3,727.5" fill="url(#p84)"/><polygon points="631.3,410.5 636.6,413.4 636.6,733.4 631.3,730.5" fill="url(#p84)"/><polygon points="635.4,413.4 640.6,416.4 640.6,736.4 635.4,733.4" fill="url(#p85)"/><polygon points="519.4,462 524.6,460.2 524.6,780.2 519.4,782" fill="url(#p86)"/><polygon points="523.4,460.2 528.6,458.4 528.6,778.4 523.4,780.2" fill="url(#p87)"/><polygon points="527.4,458.4 532.6,456.6 532.6,776.6 527.4,778.4" fill="url(#p87)"/><polygon points="531.4,456.6 536.6,454.8 536.6,774.8 531.4,776.6" fill="url(#p86)"/><polygon points="535.4,454.8 540.6,453 540.6,773 535.4,774.8" fill="url(#p50)"/><polygon points="539.4,453 544.6,451.1 544.6,771.1 539.4,773" fill="url(#p63)"/><polygon points="543.4,451.1 548.6,449.3 548.6,769.3 543.4,771.1" fill="url(#p88)"/><polygon points="547.4,449.3 552.6,447.5 552.6,767.5 547.4,769.3" fill="url(#p88)"/><polygon points="551.4,447.5 556.6,445.7 556.6,765.7 551.4,767.5" fill="url(#p89)"/><polygon points="555.4,445.7 560.6,443.9 560.6,763.9 555.4,765.7" fill="url(#p50)"/><polygon points="559.4,443.9 564.6,442.1 564.6,762.1 559.4,763.9" fill="url(#p50)"/><polygon points="563.4,442.1 568.6,440.3 568.6,760.3 563.4,762.1" fill="url(#p88)"/><polygon points="567.4,440.3 572.6,438.5 572.6,758.5 567.4,760.3" fill="url(#p88)"/><polygon points="571.4,438.5 576.6,436.7 576.6,756.7 571.4,758.5" fill="url(#p70)"/><polygon points="575.4,436.7 580.6,434.9 580.6,754.9 575.4,756.7" fill="url(#p11)"/><polygon points="579.4,434.9 584.6,433.1 584.6,753.1 579.4,754.9" fill="url(#p51)"/><polygon points="583.4,433.1 588.6,431.3 588.6,751.3 583.4,753.1" fill="url(#p70)"/><polygon points="587.4,431.3 592.6,429.4 592.6,749.4 587.4,751.3" fill="url(#p51)"/><polygon points="591.4,429.4 596.6,427.6 596.6,747.6 591.4,749.4" fill="url(#p15)"/><polygon points="595.4,427.6 600.6,425.8 600.6,745.8 595.4,747.6" fill="url(#p47)"/><polygon points="599.4,425.8 604.6,424 604.6,744 599.4,745.8" fill="url(#p15)"/><polygon points="603.4,424 608.6,422.2 608.6,742.2 603.4,744" fill="url(#p51)"/><polygon points="607.4,422.2 612.6,420.4 612.6,740.4 607.4,742.2" fill="url(#p51)"/><polygon points="611.4,420.4 616.6,418.6 616.6,738.6 611.4,740.4" fill="url(#p50)"/><polygon points="615.4,418.6 620.6,416.8 620.6,736.8 615.4,738.6" fill="url(#p51)"/><polygon points="619.4,416.8 624.6,415 624.6,735 619.4,736.8" fill="url(#p51)"/><polygon points="623.4,415 628.6,413.2 628.6,733.2 623.4,735" fill="url(#p51)"/><polygon points="627.4,413.2 632.6,411.4 632.6,731.4 627.4,733.2" fill="url(#p51)"/><polygon points="631.4,411.4 636.6,409.5 636.6,729.5 631.4,731.4" fill="url(#p72)"/><polygon points="635.4,409.5 640.6,407.7 640.6,727.7 635.4,729.5" fill="url(#p13)"/><polygon points="635.4,413.4 640.6,416.3 640.6,736.3 635.4,733.4" fill="url(#p90)"/><polygon points="639.4,416.3 644.6,419.2 644.6,739.2 639.4,736.3" fill="url(#p84)"/><polygon points="643.4,419.2 648.6,422.2 648.6,742.2 643.4,739.2" fill="url(#p84)"/><polygon points="647.4,422.2 652.5,425.1 652.5,745.1 647.4,742.2" fill="url(#p91)"/><polygon points="651.3,425.1 656.5,428 656.5,748 651.3,745.1" fill="url(#p84)"/><polygon points="655.3,428 660.5,430.9 660.5,750.9 655.3,748" fill="url(#p92)"/><polygon points="659.3,430.9 664.5,433.8 664.5,753.8 659.3,750.9" fill="url(#p84)"/><polygon points="663.3,433.8 668.5,436.7 668.5,756.7 663.3,753.8" fill="url(#p84)"/><polygon points="667.3,436.7 672.5,439.6 672.5,759.6 667.3,756.7" fill="url(#p93)"/><polygon points="671.3,439.6 676.5,442.5 676.5,762.5 671.3,759.6" fill="url(#p94)"/><polygon points="675.3,442.5 680.4,445.4 680.4,765.4 675.3,762.5" fill="url(#p94)"/><polygon points="679.2,445.4 684.4,448.3 684.4,768.3 679.2,765.4" fill="url(#p95)"/><polygon points="683.2,448.3 688.4,451.2 688.4,771.2 683.2,768.3" fill="url(#p93)"/><polygon points="687.2,451.2 692.4,454.1 692.4,774.1 687.2,771.2" fill="url(#p96)"/><polygon points="691.2,454.1 696.4,457 696.4,777 691.2,774.1" fill="url(#p96)"/><polygon points="695.2,457 700.4,459.9 700.4,779.9 695.2,777" fill="url(#p93)"/><polygon points="699.2,459.9 704.4,462.8 704.4,782.8 699.2,779.9" fill="url(#p96)"/><polygon points="703.2,462.8 708.4,465.7 708.4,785.7 703.2,782.8" fill="url(#p95)"/><polygon points="707.1,465.7 712.3,468.6 712.3,788.6 707.1,785.7" fill="url(#p96)"/><polygon points="711.1,468.6 716.3,471.5 716.3,791.5 711.1,788.6" fill="url(#p96)"/><polygon points="715.1,471.5 720.3,474.4 720.3,794.4 715.1,791.5" fill="url(#p96)"/><polygon points="719.1,474.4 724.3,477.3 724.3,797.3 719.1,794.4" fill="url(#p96)"/><polygon points="723.1,477.3 728.3,480.2 728.3,800.2 723.1,797.3" fill="url(#p97)"/><polygon points="727.1,480.2 732.3,483.1 732.3,803.1 727.1,800.2" fill="url(#p98)"/><polygon points="731.1,483.1 736.3,486 736.3,806 731.1,803.1" fill="url(#p97)"/><polygon points="735.1,486 740.2,488.9 740.2,808.9 735.1,806" fill="url(#p98)"/><polygon points="739,488.9 744.2,491.8 744.2,811.8 739,808.9" fill="url(#p98)"/><polygon points="743,491.8 748.2,494.7 748.2,814.7 743,811.8" fill="url(#p67)"/><polygon points="747,494.7 752.2,497.6 752.2,817.6 747,814.7" fill="url(#p99)"/><polygon points="751,497.6 756.2,500.5 756.2,820.5 751,817.6" fill="url(#p98)"/><polygon points="755,500.5 760.2,503.5 760.2,823.5 755,820.5" fill="url(#p98)"/><polygon points="759,503.5 764.2,506.4 764.2,826.4 759,823.5" fill="url(#p100)"/><polygon points="763,506.4 768.1,509.3 768.1,829.3 763,826.4" fill="url(#p96)"/><polygon points="766.9,509.3 772.1,512.2 772.1,832.2 766.9,829.3" fill="url(#p93)"/><polygon points="770.9,512.2 776.1,515.1 776.1,835.1 770.9,832.2" fill="url(#p94)"/><polygon points="774.9,515.1 780.1,518 780.1,838 774.9,835.1" fill="url(#p101)"/><polygon points="778.9,518 784.1,520.9 784.1,840.9 778.9,838" fill="url(#p102)"/><polygon points="782.9,520.9 788.1,523.8 788.1,843.8 782.9,840.9" fill="url(#p103)"/><polygon points="786.9,523.8 792.1,526.7 792.1,846.7 786.9,843.8" fill="url(#p104)"/><polygon points="790.9,526.7 796,529.6 796,849.6 790.9,846.7" fill="url(#p75)"/><polygon points="794.8,529.6 800,532.5 800,852.5 794.8,849.6" fill="url(#p105)"/><polygon points="798.8,532.5 804,535.4 804,855.4 798.8,852.5" fill="url(#p106)"/><polygon points="802.8,535.4 808,538.3 808,858.3 802.8,855.4" fill="url(#p106)"/><polygon points="806.8,538.3 812,541.2 812,861.2 806.8,858.3" fill="url(#p106)"/><polygon points="810.8,541.2 816,544.1 816,864.1 810.8,861.2" fill="url(#p107)"/><polygon points="814.8,544.1 820,547 820,867 814.8,864.1" fill="url(#p107)"/><polygon points="818.8,547 823.9,549.9 823.9,869.9 818.8,867" fill="url(#p108)"/><polygon points="822.7,549.9 827.9,552.8 827.9,872.8 822.7,869.9" fill="url(#p105)"/><polygon points="826.7,552.8 831.9,555.7 831.9,875.7 826.7,872.8" fill="url(#p107)"/><polygon points="830.7,555.7 835.9,558.6 835.9,878.6 830.7,875.7" fill="url(#p108)"/><polygon points="834.7,558.6 839.9,561.5 839.9,881.5 834.7,878.6" fill="url(#p108)"/><polygon points="838.7,561.5 843.9,564.4 843.9,884.4 838.7,881.5" fill="url(#p108)"/><polygon points="842.7,564.4 847.9,567.3 847.9,887.3 842.7,884.4" fill="url(#p107)"/><polygon points="846.7,567.3 851.9,570.2 851.9,890.2 846.7,887.3" fill="url(#p108)"/><polygon points="850.6,570.2 855.8,573.1 855.8,893.1 850.6,890.2" fill="url(#p109)"/><polygon points="854.6,573.1 859.8,576 859.8,896 854.6,893.1" fill="url(#p107)"/><polygon points="858.6,576 863.8,578.9 863.8,898.9 858.6,896" fill="url(#p107)"/><polygon points="862.6,578.9 867.8,581.8 867.8,901.8 862.6,898.9" fill="url(#p107)"/><polygon points="866.6,581.8 871.8,584.8 871.8,904.8 866.6,901.8" fill="url(#p110)"/><polygon points="870.6,584.8 875.8,587.7 875.8,907.7 870.6,904.8" fill="url(#p107)"/><polygon points="874.6,587.7 879.8,590.6 879.8,910.6 874.6,907.7" fill="url(#p107)"/><polygon points="878.6,590.6 883.7,593.5 883.7,913.5 878.6,910.6" fill="url(#p110)"/><polygon points="882.5,593.5 887.7,596.4 887.7,916.4 882.5,913.5" fill="url(#p110)"/><polygon points="886.5,596.4 891.7,599.3 891.7,919.3 886.5,916.4" fill="url(#p107)"/><polygon points="890.5,599.3 895.7,602.2 895.7,922.2 890.5,919.3" fill="url(#p107)"/><polygon points="894.5,602.2 899.7,605.1 899.7,925.1 894.5,922.2" fill="url(#p110)"/><polygon points="898.5,605.1 903.7,608 903.7,928 898.5,925.1" fill="url(#p111)"/><polygon points="902.5,608 907.7,610.9 907.7,930.9 902.5,928" fill="url(#p111)"/><polygon points="906.5,610.9 911.6,613.8 911.6,933.8 906.5,930.9" fill="url(#p111)"/><polygon points="910.4,613.8 915.6,616.7 915.6,936.7 910.4,933.8" fill="url(#p112)"/><polygon points="914.4,616.7 919.6,619.6 919.6,939.6 914.4,936.7" fill="url(#p113)"/><polygon points="918.4,619.6 923.6,622.5 923.6,942.5 918.4,939.6" fill="url(#p114)"/><polygon points="922.4,622.5 927.6,620.8 927.6,940.8 922.4,942.5" fill="url(#p114)"/><polygon points="926.4,620.8 931.5,619.1 931.5,939.1 926.4,940.8" fill="url(#p115)"/><polygon points="930.3,619.1 935.5,617.4 935.5,937.4 930.3,939.1" fill="url(#p116)"/><polygon points="934.3,617.4 939.5,615.7 939.5,935.7 934.3,937.4" fill="url(#p117)"/><polygon points="938.3,615.7 943.4,614 943.4,934 938.3,935.7" fill="url(#p118)"/><polygon points="942.2,614 947.4,612.3 947.4,932.3 942.2,934" fill="url(#p97)"/><polygon points="946.2,612.3 951.4,610.6 951.4,930.6 946.2,932.3" fill="url(#p119)"/><polygon points="950.1,610.6 955.3,608.9 955.3,928.9 950.1,930.6" fill="url(#p119)"/><polygon points="954.1,608.9 959.3,607.2 959.3,927.2 954.1,928.9" fill="url(#p100)"/><polygon points="958.1,607.2 963.2,605.5 963.2,925.5 958.1,927.2" fill="url(#p100)"/><polygon points="962,605.5 967.2,603.8 967.2,923.8 962,925.5" fill="url(#p64)"/><polygon points="966,603.8 971.2,602.1 971.2,922.1 966,923.8" fill="url(#p48)"/><polygon points="970,602.1 975.1,600.4 975.1,920.4 970,922.1" fill="url(#p68)"/><polygon points="973.9,600.4 979.1,598.8 979.1,918.8 973.9,920.4" fill="url(#p62)"/><polygon points="977.9,598.8 983.1,597.1 983.1,917.1 977.9,918.8" fill="url(#p48)"/><polygon points="981.9,597.1 987,595.4 987,915.4 981.9,917.1" fill="url(#p62)"/><polygon points="985.8,595.4 991,593.7 991,913.7 985.8,915.4" fill="url(#p48)"/><polygon points="989.8,593.7 995,592 995,912 989.8,913.7" fill="url(#p69)"/><polygon points="993.8,592 998.9,590.3 998.9,910.3 993.8,912" fill="url(#p62)"/><polygon points="997.7,590.3 1002.9,588.6 1002.9,908.6 997.7,910.3" fill="url(#p62)"/><polygon points="1001.7,588.6 1006.9,586.9 1006.9,906.9 1001.7,908.6" fill="url(#p62)"/><polygon points="1005.6,586.9 1010.8,585.2 1010.8,905.2 1005.6,906.9" fill="url(#p48)"/><polygon points="1009.6,585.2 1014.8,583.5 1014.8,903.5 1009.6,905.2" fill="url(#p48)"/><polygon points="1013.6,583.5 1018.7,581.8 1018.7,901.8 1013.6,903.5" fill="url(#p62)"/><polygon points="1017.5,581.8 1022.7,580.1 1022.7,900.1 1017.5,901.8" fill="url(#p69)"/><polygon points="1021.5,580.1 1026.7,578.4 1026.7,898.4 1021.5,900.1" fill="url(#p69)"/><polygon points="1025.5,578.4 1030.6,576.7 1030.6,896.7 1025.5,898.4" fill="url(#p62)"/><polygon points="1029.4,576.7 1034.6,575 1034.6,895 1029.4,896.7" fill="url(#p50)"/><polygon points="683.8,583 689,581.3 689,901.3 683.8,903" fill="url(#p120)"/><polygon points="687.8,581.3 692.9,579.6 692.9,899.6 687.8,901.3" fill="url(#p120)"/><polygon points="691.7,579.6 696.9,578 696.9,898 691.7,899.6" fill="url(#p121)"/><polygon points="695.6,578 700.8,576.3 700.8,896.3 695.6,898" fill="url(#p122)"/><polygon points="699.6,576.3 704.8,574.6 704.8,894.6 699.6,896.3" fill="url(#p120)"/><polygon points="703.5,574.6 708.7,572.9 708.7,892.9 703.5,894.6" fill="url(#p123)"/><polygon points="707.5,572.9 712.7,571.2 712.7,891.2 707.5,892.9" fill="url(#p120)"/><polygon points="711.4,571.2 716.6,569.6 716.6,889.6 711.4,891.2" fill="url(#p123)"/><polygon points="715.4,569.6 720.6,567.9 720.6,887.9 715.4,889.6" fill="url(#p122)"/><polygon points="719.3,567.9 724.5,566.2 724.5,886.2 719.3,887.9" fill="url(#p123)"/><polygon points="723.3,566.2 728.5,564.5 728.5,884.5 723.3,886.2" fill="url(#p123)"/><polygon points="727.2,564.5 732.4,562.9 732.4,882.9 727.2,884.5" fill="url(#p120)"/><polygon points="731.2,562.9 736.4,561.2 736.4,881.2 731.2,882.9" fill="url(#p124)"/><polygon points="735.1,561.2 740.3,559.5 740.3,879.5 735.1,881.2" fill="url(#p125)"/><polygon points="739.1,559.5 744.3,557.8 744.3,877.8 739.1,879.5" fill="url(#p126)"/><polygon points="743,557.8 748.2,556.1 748.2,876.1 743,877.8" fill="url(#p127)"/><polygon points="747,556.1 752.2,554.5 752.2,874.5 747,876.1" fill="url(#p128)"/><polygon points="750.9,554.5 756.1,552.8 756.1,872.8 750.9,874.5" fill="url(#p129)"/><polygon points="754.9,552.8 760.1,551.1 760.1,871.1 754.9,872.8" fill="url(#p130)"/><polygon points="758.9,551.1 764,549.4 764,869.4 758.9,871.1" fill="url(#p131)"/><polygon points="762.8,549.4 768,547.8 768,867.8 762.8,869.4" fill="url(#p132)"/><polygon points="766.8,547.8 771.9,546.1 771.9,866.1 766.8,867.8" fill="url(#p133)"/><polygon points="770.7,546.1 775.9,544.4 775.9,864.4 770.7,866.1" fill="url(#p133)"/><polygon points="774.6,544.4 779.8,542.7 779.8,862.7 774.6,864.4" fill="url(#p134)"/><polygon points="778.6,542.7 783.8,541 783.8,861 778.6,862.7" fill="url(#p135)"/><polygon points="782.5,541 787.7,539.4 787.7,859.4 782.5,861" fill="url(#p134)"/><polygon points="786.5,539.4 791.7,537.7 791.7,857.7 786.5,859.4" fill="url(#p103)"/><polygon points="790.4,537.7 795.6,536 795.6,856 790.4,857.7" fill="url(#p103)"/><polygon points="404.4,370.3 409.5,368.7 409.5,688.7 404.4,690.3" fill="url(#p68)"/><polygon points="408.3,368.7 413.5,367.1 413.5,687.1 408.3,688.7" fill="url(#p62)"/><polygon points="412.3,367.1 417.4,365.5 417.4,685.5 412.3,687.1" fill="url(#p48)"/><polygon points="416.2,365.5 421.3,363.9 421.3,683.9 416.2,685.5" fill="url(#p100)"/><polygon points="420.1,363.9 425.2,362.3 425.2,682.3 420.1,683.9" fill="url(#p67)"/><polygon points="424,362.3 429.2,360.7 429.2,680.7 424,682.3" fill="url(#p48)"/><polygon points="428,360.7 433.1,359.1 433.1,679 428,680.7" fill="url(#p100)"/><polygon points="431.9,359.1 437,357.4 437,677.4 431.9,679" fill="url(#p136)"/><polygon points="435.8,357.4 441,355.8 441,675.8 435.8,677.4" fill="url(#p99)"/><polygon points="439.8,355.8 444.9,354.2 444.9,674.2 439.8,675.8" fill="url(#p99)"/><polygon points="443.7,354.2 448.8,352.6 448.8,672.6 443.7,674.2" fill="url(#p67)"/><polygon points="447.6,352.6 452.7,351 452.7,671 447.6,672.6" fill="url(#p62)"/><polygon points="451.5,351 456.7,349.4 456.7,669.4 451.5,671" fill="url(#p67)"/><polygon points="455.5,349.4 460.6,347.8 460.6,667.8 455.5,669.4" fill="url(#p100)"/><polygon points="459.4,347.8 464.5,346.2 464.5,666.2 459.4,667.8" fill="url(#p100)"/><polygon points="463.3,346.2 468.5,344.6 468.5,664.6 463.3,666.2" fill="url(#p98)"/><polygon points="467.3,344.6 472.4,343 472.4,663 467.3,664.6" fill="url(#p98)"/><polygon points="471.2,343 476.3,341.4 476.3,661.4 471.2,663" fill="url(#p67)"/><polygon points="475.1,341.4 480.2,339.8 480.2,659.8 475.1,661.4" fill="url(#p67)"/><polygon points="479,339.8 484.2,338.2 484.2,658.2 479,659.8" fill="url(#p98)"/><polygon points="483,338.2 488.1,336.6 488.1,656.5 483,658.2" fill="url(#p98)"/><polygon points="486.9,336.6 492,334.9 492,654.9 486.9,656.5" fill="url(#p67)"/><polygon points="490.8,334.9 496,333.3 496,653.3 490.8,654.9" fill="url(#p98)"/><polygon points="494.8,333.3 499.9,331.7 499.9,651.7 494.8,653.3" fill="url(#p93)"/><polygon points="498.7,331.7 503.8,330.1 503.8,650.1 498.7,651.7" fill="url(#p98)"/><polygon points="502.6,330.1 507.7,328.5 507.7,648.5 502.6,650.1" fill="url(#p93)"/><polygon points="506.5,328.5 511.7,326.9 511.7,646.9 506.5,648.5" fill="url(#p67)"/><polygon points="510.5,326.9 515.6,325.3 515.6,645.3 510.5,646.9" fill="url(#p137)"/><polygon points="316.5,314.9 321.7,317.8 321.7,637.8 316.5,634.9" fill="url(#p138)"/><polygon points="320.5,317.8 325.7,320.7 325.7,640.7 320.5,637.8" fill="url(#p109)"/><polygon points="324.5,320.7 329.7,323.6 329.7,643.6 324.5,640.7" fill="url(#p109)"/><polygon points="328.5,323.6 333.7,326.6 333.7,646.6 328.5,643.6" fill="url(#p108)"/><polygon points="332.5,326.6 337.7,329.5 337.7,649.5 332.5,646.6" fill="url(#p108)"/><polygon points="336.5,329.5 341.7,332.4 341.7,652.4 336.5,649.5" fill="url(#p108)"/><polygon points="340.5,332.4 345.6,335.3 345.6,655.3 340.5,652.4" fill="url(#p139)"/><polygon points="344.4,335.3 349.6,338.2 349.6,658.2 344.4,655.3" fill="url(#p140)"/><polygon points="348.4,338.2 353.6,341.1 353.6,661.1 348.4,658.2" fill="url(#p141)"/><polygon points="352.4,341.1 357.6,344 357.6,664 352.4,661.1" fill="url(#p77)"/><polygon points="356.4,344 361.6,347 361.6,667 356.4,664" fill="url(#p81)"/><polygon points="360.4,347 365.6,349.9 365.6,669.9 360.4,667" fill="url(#p77)"/><polygon points="364.4,349.9 369.6,352.8 369.6,672.8 364.4,669.9" fill="url(#p82)"/><polygon points="368.4,352.8 373.6,355.7 373.6,675.7 368.4,672.8" fill="url(#p82)"/><polygon points="372.4,355.7 377.6,358.6 377.6,678.6 372.4,675.7" fill="url(#p82)"/><polygon points="376.4,358.6 381.6,361.5 381.6,681.5 376.4,678.6" fill="url(#p142)"/><polygon points="380.4,361.5 385.6,364.4 385.6,684.4 380.4,681.5" fill="url(#p142)"/><polygon points="384.4,364.4 389.6,367.4 389.6,687.4 384.4,684.4" fill="url(#p41)"/><polygon points="388.4,367.4 393.6,370.3 393.6,690.3 388.4,687.4" fill="url(#p142)"/><polygon points="392.4,370.3 397.5,373.2 397.5,693.2 392.4,690.3" fill="url(#p142)"/><polygon points="396.3,373.2 401.5,376.1 401.5,696.1 396.3,693.2" fill="url(#p41)"/><polygon points="400.3,376.1 405.5,379 405.5,699 400.3,696.1" fill="url(#p34)"/><polygon points="404.3,379 409.5,381.9 409.5,701.9 404.3,699" fill="url(#p41)"/><polygon points="408.3,381.9 413.5,384.8 413.5,704.8 408.3,701.9" fill="url(#p143)"/><polygon points="412.3,384.8 417.5,387.8 417.5,707.8 412.3,704.8" fill="url(#p36)"/><polygon points="416.3,387.8 421.5,390.7 421.5,710.7 416.3,707.8" fill="url(#p41)"/><polygon points="420.3,390.7 425.5,393.6 425.5,713.6 420.3,710.7" fill="url(#p33)"/><polygon points="424.3,393.6 429.5,396.5 429.5,716.5 424.3,713.6" fill="url(#p35)"/><polygon points="428.3,396.5 433.5,399.4 433.5,719.4 428.3,716.5" fill="url(#p36)"/><polygon points="432.3,399.4 437.5,402.3 437.5,722.3 432.3,719.4" fill="url(#p33)"/><polygon points="436.3,402.3 441.5,405.2 441.5,725.2 436.3,722.3" fill="url(#p43)"/><polygon points="440.3,405.2 445.5,408.2 445.5,728.2 440.3,725.2" fill="url(#p33)"/><polygon points="444.3,408.2 449.4,411.1 449.4,731.1 444.3,728.2" fill="url(#p33)"/><polygon points="448.2,411.1 453.4,414 453.4,734 448.2,731.1" fill="url(#p33)"/><polygon points="452.2,414 457.4,416.9 457.4,736.9 452.2,734" fill="url(#p33)"/><polygon points="456.2,416.9 461.4,419.8 461.4,739.8 456.2,736.9" fill="url(#p143)"/><polygon points="460.2,419.8 465.4,422.7 465.4,742.7 460.2,739.8" fill="url(#p143)"/><polygon points="464.2,422.7 469.4,425.6 469.4,745.6 464.2,742.7" fill="url(#p142)"/><polygon points="468.2,425.6 473.4,428.6 473.4,748.6 468.2,745.6" fill="url(#p144)"/><polygon points="472.2,428.6 477.4,431.5 477.4,751.5 472.2,748.6" fill="url(#p82)"/><polygon points="476.2,431.5 481.4,434.4 481.4,754.4 476.2,751.5" fill="url(#p82)"/><polygon points="480.2,434.4 485.4,437.3 485.4,757.3 480.2,754.4" fill="url(#p76)"/><polygon points="484.2,437.3 489.4,440.2 489.4,760.2 484.2,757.3" fill="url(#p81)"/><polygon points="488.2,440.2 493.4,443.1 493.4,763.1 488.2,760.2" fill="url(#p145)"/><polygon points="492.2,443.1 497.4,446 497.4,766 492.2,763.1" fill="url(#p146)"/><polygon points="496.2,446 501.4,448.9 501.4,769 496.2,766" fill="url(#p145)"/><polygon points="500.1,448.9 505.3,451.9 505.3,771.9 500.1,769" fill="url(#p146)"/><polygon points="504.1,451.9 509.3,454.8 509.3,774.8 504.1,771.9" fill="url(#p147)"/><polygon points="508.1,454.8 513.3,457.7 513.3,777.7 508.1,774.8" fill="url(#p106)"/><polygon points="512.1,457.7 517.3,460.6 517.3,780.6 512.1,777.7" fill="url(#p141)"/><polygon points="516.1,460.6 521.3,463.5 521.3,783.5 516.1,780.6" fill="url(#p141)"/><polygon points="520.1,463.5 525.3,466.4 525.3,786.4 520.1,783.5" fill="url(#p145)"/><polygon points="524.1,466.4 529.3,469.3 529.3,789.3 524.1,786.4" fill="url(#p141)"/><polygon points="528.1,469.3 533.3,472.3 533.3,792.3 528.1,789.3" fill="url(#p148)"/><polygon points="532.1,472.3 537.3,475.2 537.3,795.2 532.1,792.3" fill="url(#p145)"/><polygon points="536.1,475.2 541.3,478.1 541.3,798.1 536.1,795.2" fill="url(#p146)"/><polygon points="540.1,478.1 545.3,481 545.3,801 540.1,798.1" fill="url(#p145)"/><polygon points="544.1,481 549.3,483.9 549.3,803.9 544.1,801" fill="url(#p145)"/><polygon points="548.1,483.9 553.3,486.8 553.3,806.8 548.1,803.9" fill="url(#p140)"/><polygon points="552.1,486.8 557.2,489.7 557.2,809.7 552.1,806.8" fill="url(#p145)"/><polygon points="556,489.7 561.2,492.7 561.2,812.7 556,809.7" fill="url(#p145)"/><polygon points="560,492.7 565.2,495.6 565.2,815.6 560,812.7" fill="url(#p141)"/><polygon points="564,495.6 569.2,498.5 569.2,818.5 564,815.6" fill="url(#p145)"/><polygon points="568,498.5 573.2,501.4 573.2,821.4 568,818.5" fill="url(#p140)"/><polygon points="572,501.4 577.2,504.3 577.2,824.3 572,821.4" fill="url(#p146)"/><polygon points="576,504.3 581.2,507.2 581.2,827.2 576,824.3" fill="url(#p145)"/><polygon points="580,507.2 585.2,510.1 585.2,830.1 580,827.2" fill="url(#p81)"/><polygon points="584,510.1 589.2,513.1 589.2,833.1 584,830.1" fill="url(#p80)"/><polygon points="588,513.1 593.2,516 593.2,836 588,833.1" fill="url(#p80)"/><polygon points="592,516 597.2,518.9 597.2,838.9 592,836" fill="url(#p149)"/><polygon points="596,518.9 601.2,521.8 601.2,841.8 596,838.9" fill="url(#p149)"/><polygon points="600,521.8 605.2,524.7 605.2,844.7 600,841.8" fill="url(#p150)"/><polygon points="604,524.7 609.1,527.6 609.1,847.6 604,844.7" fill="url(#p151)"/><polygon points="607.9,527.6 613.1,530.5 613.1,850.5 607.9,847.6" fill="url(#p134)"/><polygon points="611.9,530.5 617.1,533.5 617.1,853.5 611.9,850.5" fill="url(#p134)"/><polygon points="615.9,533.5 621.1,536.4 621.1,856.4 615.9,853.5" fill="url(#p135)"/><polygon points="619.9,536.4 625.1,539.3 625.1,859.3 619.9,856.4" fill="url(#p135)"/><polygon points="623.9,539.3 629.1,542.2 629.1,862.2 623.9,859.3" fill="url(#p135)"/><polygon points="627.9,542.2 633.1,545.1 633.1,865.1 627.9,862.2" fill="url(#p117)"/><polygon points="631.9,545.1 637.1,548 637.1,868 631.9,865.1" fill="url(#p152)"/><polygon points="635.9,548 641.1,550.9 641.1,870.9 635.9,868" fill="url(#p133)"/><polygon points="639.9,550.9 645.1,553.9 645.1,873.9 639.9,870.9" fill="url(#p131)"/><polygon points="643.9,553.9 649.1,556.8 649.1,876.8 643.9,873.9" fill="url(#p153)"/><polygon points="647.9,556.8 653.1,559.7 653.1,879.7 647.9,876.8" fill="url(#p131)"/><polygon points="651.9,559.7 657.1,562.6 657.1,882.6 651.9,879.7" fill="url(#p130)"/><polygon points="655.9,562.6 661,565.5 661,885.5 655.9,882.6" fill="url(#p130)"/><polygon points="659.8,565.5 665,568.4 665,888.4 659.8,885.5" fill="url(#p128)"/><polygon points="663.8,568.4 669,571.3 669,891.3 663.8,888.4" fill="url(#p127)"/><polygon points="667.8,571.3 673,574.3 673,894.3 667.8,891.3" fill="url(#p127)"/><polygon points="671.8,574.3 677,577.2 677,897.2 671.8,894.3" fill="url(#p127)"/><polygon points="675.8,577.2 681,580.1 681,900.1 675.8,897.2" fill="url(#p154)"/><polygon points="679.8,580.1 685,583 685,903 679.8,900.1" fill="url(#p122)"/><polygon points="200.8,364.9 206,363.2 206,683.2 200.8,684.9" fill="url(#p76)"/><polygon points="204.8,363.2 210,361.5 210,681.5 204.8,683.2" fill="url(#p76)"/><polygon points="208.8,361.5 214,359.7 214,679.7 208.8,681.5" fill="url(#p80)"/><polygon points="212.8,359.7 218,358 218,678 212.8,679.7" fill="url(#p81)"/><polygon points="216.8,358 221.9,356.3 221.9,676.3 216.8,678" fill="url(#p81)"/><polygon points="220.7,356.3 225.9,354.6 225.9,674.6 220.7,676.3" fill="url(#p145)"/><polygon points="224.7,354.6 229.9,352.8 229.9,672.8 224.7,674.6" fill="url(#p146)"/><polygon points="228.7,352.8 233.9,351.1 233.9,671.1 228.7,672.8" fill="url(#p147)"/><polygon points="232.7,351.1 237.9,349.4 237.9,669.4 232.7,671.1" fill="url(#p146)"/><polygon points="236.7,349.4 241.9,347.7 241.9,667.7 236.7,669.4" fill="url(#p146)"/><polygon points="240.7,347.7 245.9,345.9 245.9,665.9 240.7,667.7" fill="url(#p146)"/><polygon points="244.7,345.9 249.9,344.2 249.9,664.2 244.7,665.9" fill="url(#p107)"/><polygon points="248.7,344.2 253.9,342.5 253.9,662.5 248.7,664.2" fill="url(#p108)"/><polygon points="252.7,342.5 257.9,340.8 257.9,660.8 252.7,662.5" fill="url(#p107)"/><polygon points="256.7,340.8 261.8,339 261.8,659 256.7,660.8" fill="url(#p139)"/><polygon points="260.6,339 265.8,337.3 265.8,657.3 260.6,659" fill="url(#p107)"/><polygon points="264.6,337.3 269.8,335.6 269.8,655.6 264.6,657.3" fill="url(#p107)"/><polygon points="268.6,335.6 273.8,333.9 273.8,653.9 268.6,655.6" fill="url(#p155)"/><polygon points="272.6,333.9 277.8,332.1 277.8,652.1 272.6,653.9" fill="url(#p139)"/><polygon points="276.6,332.1 281.8,330.4 281.8,650.4 276.6,652.1" fill="url(#p109)"/><polygon points="280.6,330.4 285.8,328.7 285.8,648.7 280.6,650.4" fill="url(#p156)"/><polygon points="284.6,328.7 289.8,327 289.8,647 284.6,648.7" fill="url(#p157)"/><polygon points="288.6,327 293.8,325.2 293.8,645.2 288.6,647" fill="url(#p158)"/><polygon points="292.6,325.2 297.8,323.5 297.8,643.5 292.6,645.2" fill="url(#p109)"/><polygon points="296.6,323.5 301.7,321.8 301.7,641.8 296.6,643.5" fill="url(#p109)"/><polygon points="300.5,321.8 305.7,320.1 305.7,640.1 300.5,641.8" fill="url(#p109)"/><polygon points="304.5,320.1 309.7,318.3 309.7,638.3 304.5,640.1" fill="url(#p156)"/><polygon points="308.5,318.3 313.7,316.6 313.7,636.6 308.5,638.3" fill="url(#p109)"/><polygon points="312.5,316.6 317.7,314.9 317.7,634.9 312.5,636.6" fill="url(#p109)"/><polygon points="186.9,381.6 192.1,376.8 192.1,696.8 186.9,701.6" fill="url(#p159)"/><polygon points="190.9,376.8 196.1,372 196.1,692 190.9,696.8" fill="url(#p160)"/><polygon points="194.9,372 200.1,367.2 200.1,687.2 194.9,692" fill="url(#p161)"/><polygon points="198.9,367.2 204.1,366.5 204.1,686.5 198.9,687.2" fill="url(#p148)"/><polygon points="202.9,366.5 208.1,369.4 208.1,689.4 202.9,686.5" fill="url(#p161)"/><polygon points="206.9,369.4 212.1,372.4 212.1,692.4 206.9,689.4" fill="url(#p81)"/><polygon points="210.9,372.4 216.1,375.4 216.1,695.4 210.9,692.4" fill="url(#p84)"/><polygon points="214.9,375.4 220.1,378.3 220.1,698.3 214.9,695.4" fill="url(#p95)"/><polygon points="218.9,378.3 224.1,381.3 224.1,701.3 218.9,698.3" fill="url(#p64)"/><polygon points="222.9,381.3 228.1,384.2 228.1,704.2 222.9,701.3" fill="url(#p162)"/><polygon points="226.9,384.2 232.1,387.2 232.1,707.2 226.9,704.2" fill="url(#p64)"/><polygon points="230.9,387.2 236.1,390.2 236.1,710.2 230.9,707.2" fill="url(#p67)"/><polygon points="234.9,390.2 240.1,393.1 240.1,713.1 234.9,710.2" fill="url(#p64)"/><polygon points="238.9,393.1 244.1,396.1 244.1,716.1 238.9,713.1" fill="url(#p64)"/><polygon points="242.9,396.1 248.1,399.1 248.1,719.1 242.9,716.1" fill="url(#p64)"/><polygon points="246.9,399.1 252.1,402 252.1,722 246.9,719.1" fill="url(#p64)"/><polygon points="250.9,402 256.1,405 256.1,725 250.9,722" fill="url(#p65)"/><polygon points="254.9,405 260.1,408 260.1,728 254.9,725" fill="url(#p65)"/><polygon points="258.9,408 264.1,410.9 264.1,730.9 258.9,728" fill="url(#p64)"/><polygon points="262.9,410.9 268.1,413.9 268.1,733.9 262.9,730.9" fill="url(#p137)"/><polygon points="266.9,413.9 272.1,416.9 272.1,736.9 266.9,733.9" fill="url(#p64)"/><polygon points="270.9,416.9 276.1,419.8 276.1,739.8 270.9,736.9" fill="url(#p67)"/><polygon points="274.9,419.8 280.1,422.8 280.1,742.8 274.9,739.8" fill="url(#p61)"/><polygon points="278.9,422.8 284.1,425.8 284.1,745.8 278.9,742.8" fill="url(#p64)"/><polygon points="282.9,425.8 288.1,428.7 288.1,748.7 282.9,745.8" fill="url(#p61)"/><polygon points="286.9,428.7 292.1,431.7 292.1,751.7 286.9,748.7" fill="url(#p64)"/><polygon points="290.9,431.7 296.1,434.6 296.1,754.6 290.9,751.7" fill="url(#p67)"/><polygon points="294.9,434.6 300.1,437.6 300.1,757.6 294.9,754.6" fill="url(#p64)"/><polygon points="298.9,437.6 304.1,440.6 304.1,760.6 298.9,757.6" fill="url(#p64)"/><polygon points="302.9,440.6 308.1,443.5 308.1,763.5 302.9,760.6" fill="url(#p64)"/><polygon points="306.9,443.5 312.1,446.5 312.1,766.5 306.9,763.5" fill="url(#p64)"/><polygon points="310.9,446.5 316.1,449.5 316.1,769.5 310.9,766.5" fill="url(#p64)"/><polygon points="314.9,449.5 320.1,452.4 320.1,772.4 314.9,769.5" fill="url(#p64)"/><polygon points="318.9,452.4 324.1,455.4 324.1,775.4 318.9,772.4" fill="url(#p61)"/><polygon points="322.9,455.4 328.1,458.4 328.1,778.4 322.9,775.4" fill="url(#p64)"/><polygon points="326.9,458.4 332.1,461.3 332.1,781.3 326.9,778.4" fill="url(#p61)"/><polygon points="330.9,461.3 336.1,464.3 336.1,784.3 330.9,781.3" fill="url(#p67)"/><polygon points="334.9,464.3 340.1,467.3 340.1,787.3 334.9,784.3" fill="url(#p64)"/><polygon points="338.9,467.3 344.1,470.2 344.1,790.2 338.9,787.3" fill="url(#p64)"/><polygon points="342.9,470.2 348.1,473.2 348.1,793.2 342.9,790.2" fill="url(#p61)"/><polygon points="346.9,473.2 352.1,476.2 352.1,796.2 346.9,793.2" fill="url(#p61)"/><polygon points="350.9,476.2 356.1,479.1 356.1,799.1 350.9,796.2" fill="url(#p64)"/><polygon points="354.9,479.1 360.1,482.1 360.1,802.1 354.9,799.1" fill="url(#p64)"/><polygon points="358.9,482.1 364.1,485.1 364.1,805.1 358.9,802.1" fill="url(#p61)"/><polygon points="362.9,485.1 368.1,488 368.1,808 362.9,805.1" fill="url(#p64)"/><polygon points="366.9,488 372.1,491 372.1,811 366.9,808" fill="url(#p64)"/><polygon points="370.9,491 376.1,493.9 376.1,813.9 370.9,811" fill="url(#p67)"/><polygon points="374.9,493.9 380.1,496.9 380.1,816.9 374.9,813.9" fill="url(#p64)"/><polygon points="378.9,496.9 384.1,499.9 384.1,819.9 378.9,816.9" fill="url(#p67)"/><polygon points="382.9,499.9 388.1,502.8 388.1,822.8 382.9,819.9" fill="url(#p64)"/><polygon points="386.9,502.8 392.1,505.8 392.1,825.8 386.9,822.8" fill="url(#p64)"/><polygon points="390.9,505.8 396.1,508.8 396.1,828.8 390.9,825.8" fill="url(#p67)"/><polygon points="394.9,508.8 400.1,511.7 400.1,831.7 394.9,828.8" fill="url(#p67)"/><polygon points="398.9,511.7 404.1,514.7 404.1,834.7 398.9,831.7" fill="url(#p48)"/><polygon points="402.9,514.7 408.1,517.7 408.1,837.7 402.9,834.7" fill="url(#p64)"/><polygon points="406.9,517.7 412.1,520.6 412.1,840.6 406.9,837.7" fill="url(#p68)"/><polygon points="410.9,520.6 416.1,523.6 416.1,843.6 410.9,840.6" fill="url(#p48)"/><polygon points="414.9,523.6 420.1,526.6 420.1,846.6 414.9,843.6" fill="url(#p48)"/><polygon points="418.9,526.6 424.1,529.5 424.1,849.5 418.9,846.6" fill="url(#p50)"/><polygon points="422.9,529.5 428.1,532.5 428.1,852.5 422.9,849.5" fill="url(#p87)"/><polygon points="426.9,532.5 432.1,535.5 432.1,855.5 426.9,852.5" fill="url(#p62)"/><polygon points="430.9,535.5 436.1,538.4 436.1,858.4 430.9,855.5" fill="url(#p50)"/><polygon points="434.9,538.4 440.1,541.4 440.1,861.4 434.9,858.4" fill="url(#p50)"/><polygon points="438.9,541.4 444.1,544.4 444.1,864.4 438.9,861.4" fill="url(#p88)"/><polygon points="442.9,544.4 448.1,547.3 448.1,867.3 442.9,864.4" fill="url(#p50)"/><polygon points="446.9,547.3 452.1,550.3 452.1,870.3 446.9,867.3" fill="url(#p15)"/><polygon points="450.9,550.3 456.1,553.2 456.1,873.2 450.9,870.3" fill="url(#p50)"/><polygon points="454.9,553.2 460.1,556.2 460.1,876.2 454.9,873.2" fill="url(#p70)"/><polygon points="458.9,556.2 464.1,559.2 464.1,879.2 458.9,876.2" fill="url(#p70)"/><polygon points="462.9,559.2 468.1,562.1 468.1,882.1 462.9,879.2" fill="url(#p15)"/><polygon points="466.9,562.1 472.1,565.1 472.1,885.1 466.9,882.1" fill="url(#p163)"/><polygon points="470.9,565.1 476.1,568.1 476.1,888.1 470.9,885.1" fill="url(#p70)"/><polygon points="474.9,568.1 480.1,571 480.1,891 474.9,888.1" fill="url(#p164)"/><polygon points="478.9,571 484.1,574 484.1,894 478.9,891" fill="url(#p164)"/><polygon points="1207.4,640 1212.6,643.5 1212.6,963.5 1207.4,960" fill="url(#p47)"/><polygon points="1211.4,643.5 1216.6,647 1216.6,967 1211.4,963.5" fill="url(#p70)"/><polygon points="1215.4,647 1220.6,648.6 1220.6,968.6 1215.4,967" fill="url(#p71)"/><polygon points="1219.4,648.6 1224.6,650.3 1224.6,970.3 1219.4,968.6" fill="url(#p51)"/><polygon points="1223.4,650.3 1228.6,651.9 1228.6,971.9 1223.4,970.3" fill="url(#p51)"/><polygon points="1227.4,651.9 1232.6,652.3 1232.6,972.3 1227.4,971.9" fill="url(#p15)"/><polygon points="1231.4,652.3 1236.6,650.4 1236.6,970.4 1231.4,972.3" fill="url(#p15)"/><polygon points="1235.4,650.4 1240.6,648.5 1240.6,968.5 1235.4,970.4" fill="url(#p70)"/><polygon points="1239.4,648.5 1244.6,646.5 1244.6,966.5 1239.4,968.5" fill="url(#p70)"/><polygon points="1243.4,646.5 1248.6,644.6 1248.6,964.6 1243.4,966.5" fill="url(#p11)"/><polygon points="1247.4,644.6 1252.6,642.7 1252.6,962.7 1247.4,964.6" fill="url(#p88)"/><polygon points="1251.4,642.7 1256.6,640.8 1256.6,960.8 1251.4,962.7" fill="url(#p15)"/><polygon points="1255.4,640.8 1260.6,638.8 1260.6,958.8 1255.4,960.8" fill="url(#p50)"/><polygon points="1259.4,638.8 1264.6,636.9 1264.6,956.9 1259.4,958.8" fill="url(#p47)"/><polygon points="1263.4,636.9 1268.6,635 1268.6,955 1263.4,956.9" fill="url(#p51)"/><polygon points="1267.4,635 1272.6,633.1 1272.6,953.1 1267.4,955" fill="url(#p50)"/><polygon points="1271.4,633.1 1276.6,631.1 1276.6,951.1 1271.4,953.1" fill="url(#p15)"/><polygon points="1275.4,631.1 1280.6,629.2 1280.6,949.2 1275.4,951.1" fill="url(#p22)"/><polygon points="1279.4,629.2 1284.6,627.3 1284.6,947.3 1279.4,949.2" fill="url(#p11)"/><polygon points="1283.4,627.3 1288.6,625.4 1288.6,945.4 1283.4,947.3" fill="url(#p14)"/><polygon points="1287.4,625.4 1292.6,623.6 1292.6,943.6 1287.4,945.4" fill="url(#p19)"/><polygon points="1291.4,623.6 1296.6,622.1 1296.6,942.1 1291.4,943.6" fill="url(#p14)"/><polygon points="1295.4,622.1 1300.6,620.5 1300.6,940.5 1295.4,942.1" fill="url(#p10)"/><polygon points="1299.4,620.5 1304.6,618.1 1304.6,938.1 1299.4,940.5" fill="url(#p11)"/><polygon points="1303.4,618.1 1308.6,615.7 1308.6,935.7 1303.4,938.1" fill="url(#p10)"/><polygon points="1307.4,615.7 1312.6,612.3 1312.6,932.3 1307.4,935.7" fill="url(#p10)"/><polygon points="1311.4,612.3 1316.6,607.7 1316.6,927.7 1311.4,932.3" fill="url(#p10)"/><polygon points="1315.4,607.7 1320.6,603 1320.6,923 1315.4,927.7" fill="url(#p8)"/><polygon points="1319.4,603 1324.7,597.2 1324.7,917.2 1319.4,923" fill="url(#p5)"/><polygon points="1323.5,597.2 1328.7,591.4 1328.7,911.4 1323.5,917.2" fill="url(#p25)"/><polygon points="1327.5,591.4 1332.8,584.7 1332.8,904.7 1327.5,911.4" fill="url(#p25)"/><polygon points="1331.6,584.7 1336.8,576.6 1336.8,896.6 1331.6,904.7" fill="url(#p9)"/><polygon points="1335.7,576.6 1340.9,568.4 1340.9,888.4 1335.7,896.6" fill="url(#p165)"/><polygon points="1339.7,568.4 1345,560.3 1345,880.3 1339.7,888.4" fill="url(#p9)"/><polygon points="1343.8,560.3 1349,552.1 1349,872.1 1343.8,880.3" fill="url(#p166)"/><polygon points="1347.8,552.1 1353.1,543.7 1353.1,863.7 1347.8,872.1" fill="url(#p9)"/><polygon points="1351.9,543.7 1357.2,534.8 1357.2,854.8 1351.9,863.7" fill="url(#p167)"/><polygon points="1356,534.8 1361.2,526 1361.2,846 1356,854.8" fill="url(#p165)"/><polygon points="1360,526 1365.3,517.1 1365.3,837.1 1360,846" fill="url(#p5)"/><polygon points="1364.1,517.1 1369.3,508.2 1369.3,828.2 1364.1,837.1" fill="url(#p5)"/><polygon points="1368.2,508.2 1373.4,501.2 1373.4,821.2 1368.2,828.2" fill="url(#p9)"/><polygon points="1372.2,501.2 1377.5,498.1 1377.5,818.1 1372.2,821.2" fill="url(#p5)"/><polygon points="1376.3,498.1 1381.5,500.8 1381.5,820.8 1376.3,818.1" fill="url(#p25)"/><polygon points="1380.3,500.8 1385.6,503.7 1385.6,823.7 1380.3,820.8" fill="url(#p25)"/></g>
<g><path d="M351,482 C352,480.2 354.3,474 357,471 C359.7,468 363,465.8 367,464 C371,462.2 373.3,461.7 381,460.5 C388.7,459.3 399.8,457.3 413,457 C426.2,456.7 446,458.1 460,458.5 C474,458.9 488.3,458.8 497,459.2 C505.7,459.6 506.5,460.6 512,461 C517.5,461.4 524.2,461.7 530,461.5 C535.8,461.3 538.7,460.8 547,460 C555.3,459.2 567.8,457.4 580,457 C592.2,456.6 606.7,457.2 620,457.5 C633.3,457.8 646.7,458.2 660,458.5 C673.3,458.8 686.7,460.4 700,459.5 C713.3,458.6 727,454.4 740,453.4 C753,452.4 765.3,452.6 778,453.4 C790.7,454.2 803.3,455.8 816,458 C828.7,460.2 842.5,463.5 854,466.7 C865.5,469.9 875.4,473.2 885,477 C894.6,480.8 902.3,485.9 911.5,489.6 C920.7,493.3 929.4,496.3 940,499 C950.6,501.7 964.2,504.1 975,506 C985.8,507.9 1000,509.8 1005,510.6" fill="none" stroke="#bcbcbc" stroke-width="5.5" stroke-linejoin="round" stroke-linecap="butt"/><path d="M351,482 C353.3,481.6 360.2,480.2 365,479.5 C369.8,478.8 369.2,477.7 380,477.5 C390.8,477.3 410.5,477.9 430,478.3 C449.5,478.7 482.8,479.8 497,480 C511.2,480.2 510,479.9 515,479.5 C520,479.1 523.2,478.9 527,477.5 C530.8,476.1 534.7,472.8 538,471 C541.3,469.2 540,468 547,467 C554,466 567.8,465.2 580,465 C592.2,464.8 606.7,465.3 620,465.5 C633.3,465.7 646.7,465.6 660,466 C673.3,466.4 686.7,466.6 700,468 C713.3,469.4 727,472.1 740,474.4 C753,476.6 765.3,479 778,481.5 C790.7,484 803.2,486.2 816,489.6 C828.8,493 842.2,497.6 855,502 C867.8,506.4 879.9,512.3 892.5,516.3 C905.1,520.3 916.4,522.9 930.6,525.8 C944.9,528.6 963.1,529.9 978,533.4 C992.9,536.9 1006.3,542.2 1020,547 C1033.7,551.8 1046.7,557.3 1060,562 C1073.3,566.7 1090,571.8 1100,575 C1110,578.2 1116.7,580.4 1120,581.5" fill="none" stroke="#bcbcbc" stroke-width="5.5" stroke-linejoin="round" stroke-linecap="butt"/></g>
<g><polyline points="466,568.3 201.4,372.9 317.1,322.9 684.4,591 795,544" fill="none" stroke="#000" stroke-width="10" stroke-linejoin="round" stroke-linecap="round"/><polyline points="405,378.3 515,333.3 923,630.5 1034,583" fill="none" stroke="#000" stroke-width="10" stroke-linejoin="round" stroke-linecap="round"/><polyline points="520,470 750,366 1163.5,669 1208,648" fill="none" stroke="#000" stroke-width="10" stroke-linejoin="round" stroke-linecap="round"/><polyline points="1208,647 950.6,457 953.5,444 959,433.5 967,424.5 977,417 987,412 996.4,410 1272.6,614 1208,647" fill="none" stroke="#000" stroke-width="10" stroke-linejoin="round" stroke-linecap="round"/><polyline points="1208,648 1216,655 1230.6,661 1290,632.4 1300,628.5 1310.4,622.2 1320,611 1330.7,595.7 1351,555 1371.5,510.2 1377,506 1385,512.5 1391.9,513.5 1401.7,514.9 1413.1,516.5 1424.6,518.1 1434.7,519.5 1443.3,520.8 1451.3,522.2 1459.1,523.4 1467,524.4 1475.2,525 1484.1,525.1 1493.3,524.7 1502.7,524.1 1511.8,523.3 1520.3,522.5 1528.2,521.7 1535.6,520.9 1542.7,519.9 1549.6,518.7 1556.4,517 1562.6,515 1568.3,512.6 1574,509.9 1580.3,506.9 1588,503.5 1598.2,499.2 1610.6,494.1 1623.2,488.8 1634.3,484.2 1642,481" fill="none" stroke="#000" stroke-width="10" stroke-linejoin="round" stroke-linecap="round"/></g>
<ellipse cx="482.7" cy="582.5" rx="17" ry="15.5" fill="#f79191" stroke="#e8322e" stroke-width="2"/>
<g><text x="149" y="365.5" font-family="'Liberation Sans', Arial, Helvetica, sans-serif" font-size="33.5" font-weight="normal" text-anchor="start" fill="#262626" textLength="20.5" lengthAdjust="spacingAndGlyphs">0</text><text x="128.8" y="471.8" font-family="'Liberation Sans', Arial, Helvetica, sans-serif" font-size="33.5" font-weight="normal" text-anchor="start" fill="#262626" textLength="40.7" lengthAdjust="spacingAndGlyphs">50</text><text x="110.5" y="578.1" font-family="'Liberation Sans', Arial, Helvetica, sans-serif" font-size="33.5" font-weight="normal" text-anchor="start" fill="#262626" textLength="59" lengthAdjust="spacingAndGlyphs">100</text><text x="663" y="1053.5" font-family="'Liberation Sans', Arial, Helvetica, sans-serif" font-size="33.8" font-weight="normal" text-anchor="start" fill="#262626" textLength="67" lengthAdjust="spacingAndGlyphs">72.1</text><text x="582" y="993.5" font-family="'Liberation Sans', Arial, Helvetica, sans-serif" font-size="33.8" font-weight="normal" text-anchor="start" fill="#262626" textLength="67" lengthAdjust="spacingAndGlyphs">72.2</text><text x="500.9" y="933.5" font-family="'Liberation Sans', Arial, Helvetica, sans-serif" font-size="33.8" font-weight="normal" text-anchor="start" fill="#262626" textLength="67" lengthAdjust="spacingAndGlyphs">72.3</text><text x="419.9" y="873.5" font-family="'Liberation Sans', Arial, Helvetica, sans-serif" font-size="33.8" font-weight="normal" text-anchor="start" fill="#262626" textLength="67" lengthAdjust="spacingAndGlyphs">72.4</text><text x="338.9" y="813.5" font-family="'Liberation Sans', Arial, Helvetica, sans-serif" font-size="33.8" font-weight="normal" text-anchor="start" fill="#262626" textLength="67" lengthAdjust="spacingAndGlyphs">72.5</text><text x="257.9" y="753.5" font-family="'Liberation Sans', Arial, Helvetica, sans-serif" font-size="33.8" font-weight="normal" text-anchor="start" fill="#262626" textLength="67" lengthAdjust="spacingAndGlyphs">72.6</text><text x="176.8" y="693.5" font-family="'Liberation Sans', Arial, Helvetica, sans-serif" font-size="33.8" font-weight="normal" text-anchor="start" fill="#262626" textLength="67" lengthAdjust="spacingAndGlyphs">72.7</text><text x="95.8" y="633.5" font-family="'Liberation Sans', Arial, Helvetica, sans-serif" font-size="33.8" font-weight="normal" text-anchor="start" fill="#262626" textLength="67" lengthAdjust="spacingAndGlyphs">72.8</text><text x="894.5" y="1085.2" font-family="'Liberation Sans', Arial, Helvetica, sans-serif" font-size="34.8" font-weight="normal" text-anchor="start" fill="#262626" textLength="105.7" lengthAdjust="spacingAndGlyphs">-151.5</text><text x="992.6" y="1042.8" font-family="'Liberation Sans', Arial, Helvetica, sans-serif" font-size="34.8" font-weight="normal" text-anchor="start" fill="#262626" textLength="74.4" lengthAdjust="spacingAndGlyphs">-151</text><text x="1090.7" y="1000.4" font-family="'Liberation Sans', Arial, Helvetica, sans-serif" font-size="34.8" font-weight="normal" text-anchor="start" fill="#262626" textLength="105.7" lengthAdjust="spacingAndGlyphs">-150.5</text><text x="1188.8" y="958" font-family="'Liberation Sans', Arial, Helvetica, sans-serif" font-size="34.8" font-weight="normal" text-anchor="start" fill="#262626" textLength="74.4" lengthAdjust="spacingAndGlyphs">-150</text><text x="1286.9" y="915.6" font-family="'Liberation Sans', Arial, Helvetica, sans-serif" font-size="34.8" font-weight="normal" text-anchor="start" fill="#262626" textLength="105.7" lengthAdjust="spacingAndGlyphs">-149.5</text><text x="1385" y="873.2" font-family="'Liberation Sans', Arial, Helvetica, sans-serif" font-size="34.8" font-weight="normal" text-anchor="start" fill="#262626" textLength="74.4" lengthAdjust="spacingAndGlyphs">-149</text><text x="1483.1" y="830.8" font-family="'Liberation Sans', Arial, Helvetica, sans-serif" font-size="34.8" font-weight="normal" text-anchor="start" fill="#262626" textLength="105.7" lengthAdjust="spacingAndGlyphs">-148.5</text><text x="1581.2" y="788.4" font-family="'Liberation Sans', Arial, Helvetica, sans-serif" font-size="34.8" font-weight="normal" text-anchor="start" fill="#262626" textLength="74.4" lengthAdjust="spacingAndGlyphs">-148</text><text x="181.5" y="1005.5" font-family="'Liberation Serif', 'Times New Roman', serif" font-size="54" font-weight="normal" text-anchor="start" fill="#161616" textLength="348" lengthAdjust="spacingAndGlyphs">Longitude (x)</text><text x="1202.8" y="1033.7" font-family="'Liberation Serif', 'Times New Roman', serif" font-size="54" font-weight="normal" text-anchor="start" fill="#161616" textLength="309.5" lengthAdjust="spacingAndGlyphs">Latitude (y)</text><text transform="translate(70,653.3) rotate(-90) scale(1,1.21)" x="0" y="0" font-family="'Liberation Serif', 'Times New Roman', serif" font-size="54" fill="#161616" textLength="346.5" lengthAdjust="spacingAndGlyphs">Pressure (dbar)</text><text x="1267.9" y="1256.2" font-family="'Liberation Serif', 'Times New Roman', serif" font-size="54" font-weight="bold" text-anchor="start" fill="#161616" textLength="216.8" lengthAdjust="spacingAndGlyphs">Salinity</text><text x="1510.9" y="1256.2" font-family="'Liberation Serif', 'Times New Roman', serif" font-size="54" font-weight="normal" text-anchor="start" fill="#161616" textLength="123.9" lengthAdjust="spacingAndGlyphs">(psu)</text><text x="179" y="1347.8" font-family="'Liberation Sans', Arial, Helvetica, sans-serif" font-size="31" font-weight="normal" text-anchor="start" fill="#262626" textLength="39.5" lengthAdjust="spacingAndGlyphs">25</text><text x="386" y="1347.8" font-family="'Liberation Sans', Arial, Helvetica, sans-serif" font-size="31" font-weight="normal" text-anchor="start" fill="#262626" textLength="39.5" lengthAdjust="spacingAndGlyphs">26</text><text x="593" y="1347.8" font-family="'Liberation Sans', Arial, Helvetica, sans-serif" font-size="31" font-weight="normal" text-anchor="start" fill="#262626" textLength="39.5" lengthAdjust="spacingAndGlyphs">27</text><text x="800" y="1347.8" font-family="'Liberation Sans', Arial, Helvetica, sans-serif" font-size="31" font-weight="normal" text-anchor="start" fill="#262626" textLength="39.5" lengthAdjust="spacingAndGlyphs">28</text><text x="1007" y="1347.8" font-family="'Liberation Sans', Arial, Helvetica, sans-serif" font-size="31" font-weight="normal" text-anchor="start" fill="#262626" textLength="39.5" lengthAdjust="spacingAndGlyphs">29</text><text x="1214" y="1347.8" font-family="'Liberation Sans', Arial, Helvetica, sans-serif" font-size="31" font-weight="normal" text-anchor="start" fill="#262626" textLength="39.5" lengthAdjust="spacingAndGlyphs">30</text><text x="1421" y="1347.8" font-family="'Liberation Sans', Arial, Helvetica, sans-serif" font-size="31" font-weight="normal" text-anchor="start" fill="#262626" textLength="39.5" lengthAdjust="spacingAndGlyphs">31</text><text x="1628" y="1347.8" font-family="'Liberation Sans', Arial, Helvetica, sans-serif" font-size="31" font-weight="normal" text-anchor="start" fill="#262626" textLength="39.5" lengthAdjust="spacingAndGlyphs">32</text></g>
<g><rect x="199" y="1275.5" width="1447.5" height="31" fill="url(#cbar)" stroke="#3a3a3a" stroke-width="1.6"/><line x1="405.5" y1="1306" x2="405.5" y2="1294" stroke="#2a2a2a" stroke-width="2"/><line x1="612.5" y1="1306" x2="612.5" y2="1294" stroke="#2a2a2a" stroke-width="2"/><line x1="819.5" y1="1306" x2="819.5" y2="1294" stroke="#2a2a2a" stroke-width="2"/><line x1="1026.5" y1="1306" x2="1026.5" y2="1294" stroke="#2a2a2a" stroke-width="2"/><line x1="1233.5" y1="1306" x2="1233.5" y2="1294" stroke="#2a2a2a" stroke-width="2"/><line x1="1440.5" y1="1306" x2="1440.5" y2="1294" stroke="#2a2a2a" stroke-width="2"/></g>
</svg>
</body></html>
